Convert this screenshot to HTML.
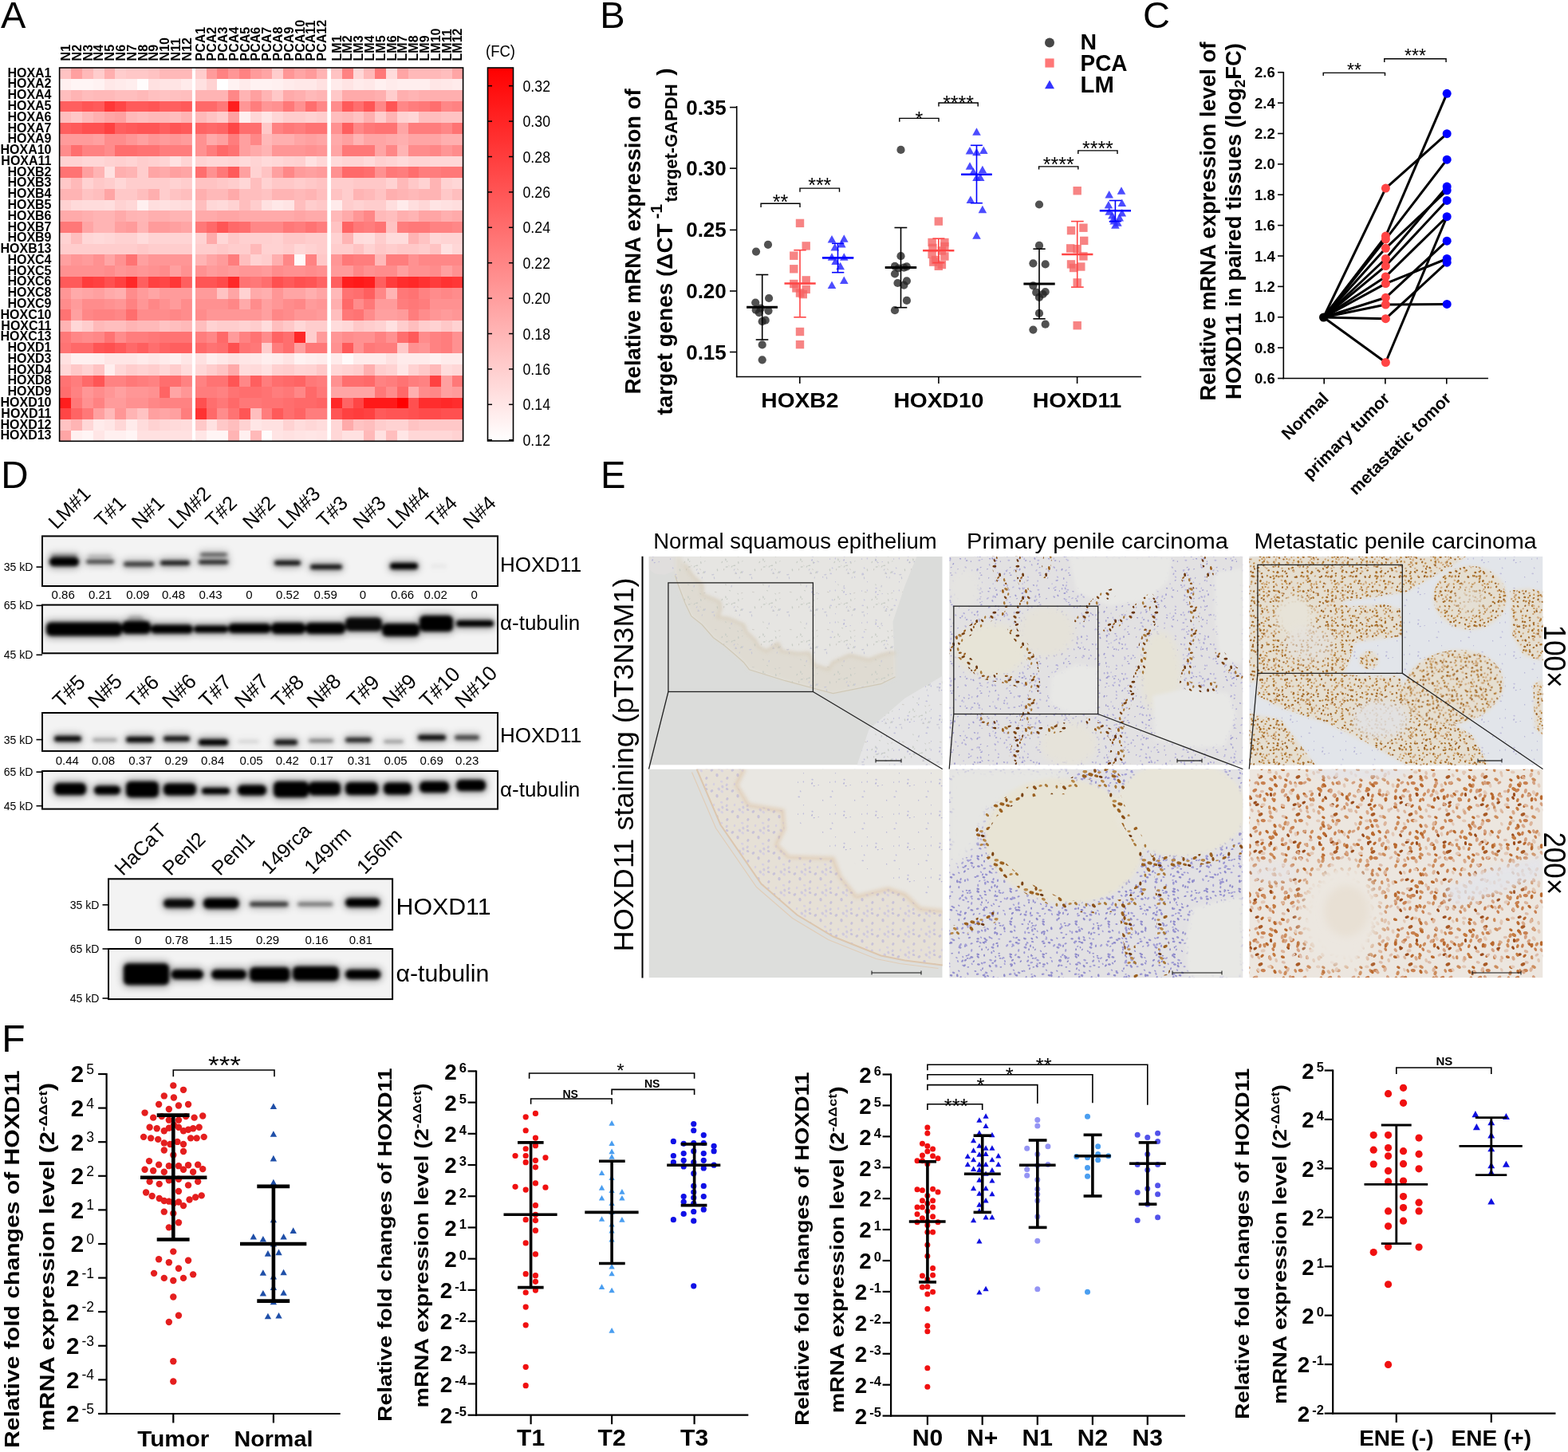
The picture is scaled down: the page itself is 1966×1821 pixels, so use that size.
<!DOCTYPE html>
<html><head><meta charset="utf-8"><title>HOXD11 figure</title>
<style>
html,body{margin:0;padding:0;background:#fff;}
body{width:1966px;height:1821px;overflow:hidden;}
svg{display:block;font-family:"Liberation Sans",Arial,Helvetica,sans-serif;}
</style></head><body>
<svg width="1966" height="1821" viewBox="0 0 1966 1821">
<rect width="1966" height="1821" fill="#fff"/>
<g shape-rendering="crispEdges">
<rect x="75.3" y="85.3" width="14.2" height="14.18" fill="rgb(255,195,195)"/>
<rect x="89.1" y="85.3" width="14.2" height="14.18" fill="rgb(255,160,160)"/>
<rect x="102.9" y="85.3" width="14.2" height="14.18" fill="rgb(255,185,185)"/>
<rect x="116.7" y="85.3" width="14.2" height="14.18" fill="rgb(255,205,205)"/>
<rect x="130.5" y="85.3" width="14.2" height="14.18" fill="rgb(255,175,175)"/>
<rect x="144.3" y="85.3" width="14.2" height="14.18" fill="rgb(255,205,205)"/>
<rect x="158.1" y="85.3" width="14.2" height="14.18" fill="rgb(255,200,200)"/>
<rect x="171.9" y="85.3" width="14.2" height="14.18" fill="rgb(255,200,200)"/>
<rect x="185.7" y="85.3" width="14.2" height="14.18" fill="rgb(255,195,195)"/>
<rect x="199.5" y="85.3" width="14.2" height="14.18" fill="rgb(255,185,185)"/>
<rect x="213.3" y="85.3" width="14.2" height="14.18" fill="rgb(255,185,185)"/>
<rect x="227.1" y="85.3" width="14.2" height="14.18" fill="rgb(255,185,185)"/>
<rect x="75.3" y="99.08" width="14.2" height="14.18" fill="rgb(255,240,240)"/>
<rect x="89.1" y="99.08" width="14.2" height="14.18" fill="rgb(255,245,245)"/>
<rect x="102.9" y="99.08" width="14.2" height="14.18" fill="rgb(255,245,245)"/>
<rect x="116.7" y="99.08" width="14.2" height="14.18" fill="rgb(255,242,242)"/>
<rect x="130.5" y="99.08" width="14.2" height="14.18" fill="rgb(255,232,232)"/>
<rect x="144.3" y="99.08" width="14.2" height="14.18" fill="rgb(255,235,235)"/>
<rect x="158.1" y="99.08" width="14.2" height="14.18" fill="rgb(255,238,238)"/>
<rect x="171.9" y="99.08" width="14.2" height="14.18" fill="rgb(255,252,252)"/>
<rect x="185.7" y="99.08" width="14.2" height="14.18" fill="rgb(255,225,225)"/>
<rect x="199.5" y="99.08" width="14.2" height="14.18" fill="rgb(255,228,228)"/>
<rect x="213.3" y="99.08" width="14.2" height="14.18" fill="rgb(255,228,228)"/>
<rect x="227.1" y="99.08" width="14.2" height="14.18" fill="rgb(255,235,235)"/>
<rect x="75.3" y="112.85" width="14.2" height="14.18" fill="rgb(255,190,190)"/>
<rect x="89.1" y="112.85" width="14.2" height="14.18" fill="rgb(255,180,180)"/>
<rect x="102.9" y="112.85" width="14.2" height="14.18" fill="rgb(255,188,188)"/>
<rect x="116.7" y="112.85" width="14.2" height="14.18" fill="rgb(255,185,185)"/>
<rect x="130.5" y="112.85" width="14.2" height="14.18" fill="rgb(255,185,185)"/>
<rect x="144.3" y="112.85" width="14.2" height="14.18" fill="rgb(255,190,190)"/>
<rect x="158.1" y="112.85" width="14.2" height="14.18" fill="rgb(255,190,190)"/>
<rect x="171.9" y="112.85" width="14.2" height="14.18" fill="rgb(255,185,185)"/>
<rect x="185.7" y="112.85" width="14.2" height="14.18" fill="rgb(255,192,192)"/>
<rect x="199.5" y="112.85" width="14.2" height="14.18" fill="rgb(255,195,195)"/>
<rect x="213.3" y="112.85" width="14.2" height="14.18" fill="rgb(255,192,192)"/>
<rect x="227.1" y="112.85" width="14.2" height="14.18" fill="rgb(255,190,190)"/>
<rect x="75.3" y="126.62" width="14.2" height="14.18" fill="rgb(255,95,95)"/>
<rect x="89.1" y="126.62" width="14.2" height="14.18" fill="rgb(255,95,95)"/>
<rect x="102.9" y="126.62" width="14.2" height="14.18" fill="rgb(255,85,85)"/>
<rect x="116.7" y="126.62" width="14.2" height="14.18" fill="rgb(255,90,90)"/>
<rect x="130.5" y="126.62" width="14.2" height="14.18" fill="rgb(255,55,55)"/>
<rect x="144.3" y="126.62" width="14.2" height="14.18" fill="rgb(255,70,70)"/>
<rect x="158.1" y="126.62" width="14.2" height="14.18" fill="rgb(255,90,90)"/>
<rect x="171.9" y="126.62" width="14.2" height="14.18" fill="rgb(255,90,90)"/>
<rect x="185.7" y="126.62" width="14.2" height="14.18" fill="rgb(255,85,85)"/>
<rect x="199.5" y="126.62" width="14.2" height="14.18" fill="rgb(255,95,95)"/>
<rect x="213.3" y="126.62" width="14.2" height="14.18" fill="rgb(255,95,95)"/>
<rect x="227.1" y="126.62" width="14.2" height="14.18" fill="rgb(255,90,90)"/>
<rect x="75.3" y="140.4" width="14.2" height="14.18" fill="rgb(255,190,190)"/>
<rect x="89.1" y="140.4" width="14.2" height="14.18" fill="rgb(255,200,200)"/>
<rect x="102.9" y="140.4" width="14.2" height="14.18" fill="rgb(255,185,185)"/>
<rect x="116.7" y="140.4" width="14.2" height="14.18" fill="rgb(255,175,175)"/>
<rect x="130.5" y="140.4" width="14.2" height="14.18" fill="rgb(255,165,165)"/>
<rect x="144.3" y="140.4" width="14.2" height="14.18" fill="rgb(255,160,160)"/>
<rect x="158.1" y="140.4" width="14.2" height="14.18" fill="rgb(255,185,185)"/>
<rect x="171.9" y="140.4" width="14.2" height="14.18" fill="rgb(255,190,190)"/>
<rect x="185.7" y="140.4" width="14.2" height="14.18" fill="rgb(255,185,185)"/>
<rect x="199.5" y="140.4" width="14.2" height="14.18" fill="rgb(255,185,185)"/>
<rect x="213.3" y="140.4" width="14.2" height="14.18" fill="rgb(255,190,190)"/>
<rect x="227.1" y="140.4" width="14.2" height="14.18" fill="rgb(255,180,180)"/>
<rect x="75.3" y="154.18" width="14.2" height="14.18" fill="rgb(255,95,95)"/>
<rect x="89.1" y="154.18" width="14.2" height="14.18" fill="rgb(255,90,90)"/>
<rect x="102.9" y="154.18" width="14.2" height="14.18" fill="rgb(255,80,80)"/>
<rect x="116.7" y="154.18" width="14.2" height="14.18" fill="rgb(255,80,80)"/>
<rect x="130.5" y="154.18" width="14.2" height="14.18" fill="rgb(255,65,65)"/>
<rect x="144.3" y="154.18" width="14.2" height="14.18" fill="rgb(255,95,95)"/>
<rect x="158.1" y="154.18" width="14.2" height="14.18" fill="rgb(255,90,90)"/>
<rect x="171.9" y="154.18" width="14.2" height="14.18" fill="rgb(255,85,85)"/>
<rect x="185.7" y="154.18" width="14.2" height="14.18" fill="rgb(255,85,85)"/>
<rect x="199.5" y="154.18" width="14.2" height="14.18" fill="rgb(255,95,95)"/>
<rect x="213.3" y="154.18" width="14.2" height="14.18" fill="rgb(255,85,85)"/>
<rect x="227.1" y="154.18" width="14.2" height="14.18" fill="rgb(255,90,90)"/>
<rect x="75.3" y="167.95" width="14.2" height="14.18" fill="rgb(255,155,155)"/>
<rect x="89.1" y="167.95" width="14.2" height="14.18" fill="rgb(255,155,155)"/>
<rect x="102.9" y="167.95" width="14.2" height="14.18" fill="rgb(255,155,155)"/>
<rect x="116.7" y="167.95" width="14.2" height="14.18" fill="rgb(255,160,160)"/>
<rect x="130.5" y="167.95" width="14.2" height="14.18" fill="rgb(255,140,140)"/>
<rect x="144.3" y="167.95" width="14.2" height="14.18" fill="rgb(255,140,140)"/>
<rect x="158.1" y="167.95" width="14.2" height="14.18" fill="rgb(255,150,150)"/>
<rect x="171.9" y="167.95" width="14.2" height="14.18" fill="rgb(255,160,160)"/>
<rect x="185.7" y="167.95" width="14.2" height="14.18" fill="rgb(255,150,150)"/>
<rect x="199.5" y="167.95" width="14.2" height="14.18" fill="rgb(255,155,155)"/>
<rect x="213.3" y="167.95" width="14.2" height="14.18" fill="rgb(255,150,150)"/>
<rect x="227.1" y="167.95" width="14.2" height="14.18" fill="rgb(255,155,155)"/>
<rect x="75.3" y="181.72" width="14.2" height="14.18" fill="rgb(255,140,140)"/>
<rect x="89.1" y="181.72" width="14.2" height="14.18" fill="rgb(255,110,110)"/>
<rect x="102.9" y="181.72" width="14.2" height="14.18" fill="rgb(255,130,130)"/>
<rect x="116.7" y="181.72" width="14.2" height="14.18" fill="rgb(255,130,130)"/>
<rect x="130.5" y="181.72" width="14.2" height="14.18" fill="rgb(255,140,140)"/>
<rect x="144.3" y="181.72" width="14.2" height="14.18" fill="rgb(255,110,110)"/>
<rect x="158.1" y="181.72" width="14.2" height="14.18" fill="rgb(255,110,110)"/>
<rect x="171.9" y="181.72" width="14.2" height="14.18" fill="rgb(255,115,115)"/>
<rect x="185.7" y="181.72" width="14.2" height="14.18" fill="rgb(255,115,115)"/>
<rect x="199.5" y="181.72" width="14.2" height="14.18" fill="rgb(255,125,125)"/>
<rect x="213.3" y="181.72" width="14.2" height="14.18" fill="rgb(255,125,125)"/>
<rect x="227.1" y="181.72" width="14.2" height="14.18" fill="rgb(255,125,125)"/>
<rect x="75.3" y="195.5" width="14.2" height="14.18" fill="rgb(255,210,210)"/>
<rect x="89.1" y="195.5" width="14.2" height="14.18" fill="rgb(255,210,210)"/>
<rect x="102.9" y="195.5" width="14.2" height="14.18" fill="rgb(255,215,215)"/>
<rect x="116.7" y="195.5" width="14.2" height="14.18" fill="rgb(255,215,215)"/>
<rect x="130.5" y="195.5" width="14.2" height="14.18" fill="rgb(255,210,210)"/>
<rect x="144.3" y="195.5" width="14.2" height="14.18" fill="rgb(255,208,208)"/>
<rect x="158.1" y="195.5" width="14.2" height="14.18" fill="rgb(255,212,212)"/>
<rect x="171.9" y="195.5" width="14.2" height="14.18" fill="rgb(255,205,205)"/>
<rect x="185.7" y="195.5" width="14.2" height="14.18" fill="rgb(255,208,208)"/>
<rect x="199.5" y="195.5" width="14.2" height="14.18" fill="rgb(255,212,212)"/>
<rect x="213.3" y="195.5" width="14.2" height="14.18" fill="rgb(255,225,225)"/>
<rect x="227.1" y="195.5" width="14.2" height="14.18" fill="rgb(255,212,212)"/>
<rect x="75.3" y="209.28" width="14.2" height="14.18" fill="rgb(255,115,115)"/>
<rect x="89.1" y="209.28" width="14.2" height="14.18" fill="rgb(255,115,115)"/>
<rect x="102.9" y="209.28" width="14.2" height="14.18" fill="rgb(255,160,160)"/>
<rect x="116.7" y="209.28" width="14.2" height="14.18" fill="rgb(255,180,180)"/>
<rect x="130.5" y="209.28" width="14.2" height="14.18" fill="rgb(255,225,225)"/>
<rect x="144.3" y="209.28" width="14.2" height="14.18" fill="rgb(255,175,175)"/>
<rect x="158.1" y="209.28" width="14.2" height="14.18" fill="rgb(255,180,180)"/>
<rect x="171.9" y="209.28" width="14.2" height="14.18" fill="rgb(255,205,205)"/>
<rect x="185.7" y="209.28" width="14.2" height="14.18" fill="rgb(255,165,165)"/>
<rect x="199.5" y="209.28" width="14.2" height="14.18" fill="rgb(255,170,170)"/>
<rect x="213.3" y="209.28" width="14.2" height="14.18" fill="rgb(255,160,160)"/>
<rect x="227.1" y="209.28" width="14.2" height="14.18" fill="rgb(255,165,165)"/>
<rect x="75.3" y="223.05" width="14.2" height="14.18" fill="rgb(255,200,200)"/>
<rect x="89.1" y="223.05" width="14.2" height="14.18" fill="rgb(255,185,185)"/>
<rect x="102.9" y="223.05" width="14.2" height="14.18" fill="rgb(255,210,210)"/>
<rect x="116.7" y="223.05" width="14.2" height="14.18" fill="rgb(255,200,200)"/>
<rect x="130.5" y="223.05" width="14.2" height="14.18" fill="rgb(255,205,205)"/>
<rect x="144.3" y="223.05" width="14.2" height="14.18" fill="rgb(255,215,215)"/>
<rect x="158.1" y="223.05" width="14.2" height="14.18" fill="rgb(255,205,205)"/>
<rect x="171.9" y="223.05" width="14.2" height="14.18" fill="rgb(255,205,205)"/>
<rect x="185.7" y="223.05" width="14.2" height="14.18" fill="rgb(255,205,205)"/>
<rect x="199.5" y="223.05" width="14.2" height="14.18" fill="rgb(255,205,205)"/>
<rect x="213.3" y="223.05" width="14.2" height="14.18" fill="rgb(255,210,210)"/>
<rect x="227.1" y="223.05" width="14.2" height="14.18" fill="rgb(255,205,205)"/>
<rect x="75.3" y="236.82" width="14.2" height="14.18" fill="rgb(255,180,180)"/>
<rect x="89.1" y="236.82" width="14.2" height="14.18" fill="rgb(255,180,180)"/>
<rect x="102.9" y="236.82" width="14.2" height="14.18" fill="rgb(255,195,195)"/>
<rect x="116.7" y="236.82" width="14.2" height="14.18" fill="rgb(255,190,190)"/>
<rect x="130.5" y="236.82" width="14.2" height="14.18" fill="rgb(255,165,165)"/>
<rect x="144.3" y="236.82" width="14.2" height="14.18" fill="rgb(255,200,200)"/>
<rect x="158.1" y="236.82" width="14.2" height="14.18" fill="rgb(255,200,200)"/>
<rect x="171.9" y="236.82" width="14.2" height="14.18" fill="rgb(255,190,190)"/>
<rect x="185.7" y="236.82" width="14.2" height="14.18" fill="rgb(255,175,175)"/>
<rect x="199.5" y="236.82" width="14.2" height="14.18" fill="rgb(255,205,205)"/>
<rect x="213.3" y="236.82" width="14.2" height="14.18" fill="rgb(255,195,195)"/>
<rect x="227.1" y="236.82" width="14.2" height="14.18" fill="rgb(255,190,190)"/>
<rect x="75.3" y="250.6" width="14.2" height="14.18" fill="rgb(255,210,210)"/>
<rect x="89.1" y="250.6" width="14.2" height="14.18" fill="rgb(255,218,218)"/>
<rect x="102.9" y="250.6" width="14.2" height="14.18" fill="rgb(255,220,220)"/>
<rect x="116.7" y="250.6" width="14.2" height="14.18" fill="rgb(255,220,220)"/>
<rect x="130.5" y="250.6" width="14.2" height="14.18" fill="rgb(255,222,222)"/>
<rect x="144.3" y="250.6" width="14.2" height="14.18" fill="rgb(255,210,210)"/>
<rect x="158.1" y="250.6" width="14.2" height="14.18" fill="rgb(255,215,215)"/>
<rect x="171.9" y="250.6" width="14.2" height="14.18" fill="rgb(255,240,240)"/>
<rect x="185.7" y="250.6" width="14.2" height="14.18" fill="rgb(255,222,222)"/>
<rect x="199.5" y="250.6" width="14.2" height="14.18" fill="rgb(255,225,225)"/>
<rect x="213.3" y="250.6" width="14.2" height="14.18" fill="rgb(255,222,222)"/>
<rect x="227.1" y="250.6" width="14.2" height="14.18" fill="rgb(255,220,220)"/>
<rect x="75.3" y="264.38" width="14.2" height="14.18" fill="rgb(255,170,170)"/>
<rect x="89.1" y="264.38" width="14.2" height="14.18" fill="rgb(255,170,170)"/>
<rect x="102.9" y="264.38" width="14.2" height="14.18" fill="rgb(255,175,175)"/>
<rect x="116.7" y="264.38" width="14.2" height="14.18" fill="rgb(255,180,180)"/>
<rect x="130.5" y="264.38" width="14.2" height="14.18" fill="rgb(255,180,180)"/>
<rect x="144.3" y="264.38" width="14.2" height="14.18" fill="rgb(255,170,170)"/>
<rect x="158.1" y="264.38" width="14.2" height="14.18" fill="rgb(255,180,180)"/>
<rect x="171.9" y="264.38" width="14.2" height="14.18" fill="rgb(255,182,182)"/>
<rect x="185.7" y="264.38" width="14.2" height="14.18" fill="rgb(255,175,175)"/>
<rect x="199.5" y="264.38" width="14.2" height="14.18" fill="rgb(255,175,175)"/>
<rect x="213.3" y="264.38" width="14.2" height="14.18" fill="rgb(255,180,180)"/>
<rect x="227.1" y="264.38" width="14.2" height="14.18" fill="rgb(255,180,180)"/>
<rect x="75.3" y="278.15" width="14.2" height="14.18" fill="rgb(255,120,120)"/>
<rect x="89.1" y="278.15" width="14.2" height="14.18" fill="rgb(255,120,120)"/>
<rect x="102.9" y="278.15" width="14.2" height="14.18" fill="rgb(255,165,165)"/>
<rect x="116.7" y="278.15" width="14.2" height="14.18" fill="rgb(255,180,180)"/>
<rect x="130.5" y="278.15" width="14.2" height="14.18" fill="rgb(255,180,180)"/>
<rect x="144.3" y="278.15" width="14.2" height="14.18" fill="rgb(255,160,160)"/>
<rect x="158.1" y="278.15" width="14.2" height="14.18" fill="rgb(255,155,155)"/>
<rect x="171.9" y="278.15" width="14.2" height="14.18" fill="rgb(255,180,180)"/>
<rect x="185.7" y="278.15" width="14.2" height="14.18" fill="rgb(255,155,155)"/>
<rect x="199.5" y="278.15" width="14.2" height="14.18" fill="rgb(255,155,155)"/>
<rect x="213.3" y="278.15" width="14.2" height="14.18" fill="rgb(255,160,160)"/>
<rect x="227.1" y="278.15" width="14.2" height="14.18" fill="rgb(255,165,165)"/>
<rect x="75.3" y="291.93" width="14.2" height="14.18" fill="rgb(255,210,210)"/>
<rect x="89.1" y="291.93" width="14.2" height="14.18" fill="rgb(255,190,190)"/>
<rect x="102.9" y="291.93" width="14.2" height="14.18" fill="rgb(255,215,215)"/>
<rect x="116.7" y="291.93" width="14.2" height="14.18" fill="rgb(255,218,218)"/>
<rect x="130.5" y="291.93" width="14.2" height="14.18" fill="rgb(255,215,215)"/>
<rect x="144.3" y="291.93" width="14.2" height="14.18" fill="rgb(255,210,210)"/>
<rect x="158.1" y="291.93" width="14.2" height="14.18" fill="rgb(255,210,210)"/>
<rect x="171.9" y="291.93" width="14.2" height="14.18" fill="rgb(255,220,220)"/>
<rect x="185.7" y="291.93" width="14.2" height="14.18" fill="rgb(255,212,212)"/>
<rect x="199.5" y="291.93" width="14.2" height="14.18" fill="rgb(255,212,212)"/>
<rect x="213.3" y="291.93" width="14.2" height="14.18" fill="rgb(255,212,212)"/>
<rect x="227.1" y="291.93" width="14.2" height="14.18" fill="rgb(255,212,212)"/>
<rect x="75.3" y="305.7" width="14.2" height="14.18" fill="rgb(255,205,205)"/>
<rect x="89.1" y="305.7" width="14.2" height="14.18" fill="rgb(255,205,205)"/>
<rect x="102.9" y="305.7" width="14.2" height="14.18" fill="rgb(255,205,205)"/>
<rect x="116.7" y="305.7" width="14.2" height="14.18" fill="rgb(255,205,205)"/>
<rect x="130.5" y="305.7" width="14.2" height="14.18" fill="rgb(255,205,205)"/>
<rect x="144.3" y="305.7" width="14.2" height="14.18" fill="rgb(255,205,205)"/>
<rect x="158.1" y="305.7" width="14.2" height="14.18" fill="rgb(255,205,205)"/>
<rect x="171.9" y="305.7" width="14.2" height="14.18" fill="rgb(255,200,200)"/>
<rect x="185.7" y="305.7" width="14.2" height="14.18" fill="rgb(255,205,205)"/>
<rect x="199.5" y="305.7" width="14.2" height="14.18" fill="rgb(255,205,205)"/>
<rect x="213.3" y="305.7" width="14.2" height="14.18" fill="rgb(255,205,205)"/>
<rect x="227.1" y="305.7" width="14.2" height="14.18" fill="rgb(255,205,205)"/>
<rect x="75.3" y="319.48" width="14.2" height="14.18" fill="rgb(255,160,160)"/>
<rect x="89.1" y="319.48" width="14.2" height="14.18" fill="rgb(255,150,150)"/>
<rect x="102.9" y="319.48" width="14.2" height="14.18" fill="rgb(255,155,155)"/>
<rect x="116.7" y="319.48" width="14.2" height="14.18" fill="rgb(255,145,145)"/>
<rect x="130.5" y="319.48" width="14.2" height="14.18" fill="rgb(255,165,165)"/>
<rect x="144.3" y="319.48" width="14.2" height="14.18" fill="rgb(255,145,145)"/>
<rect x="158.1" y="319.48" width="14.2" height="14.18" fill="rgb(255,115,115)"/>
<rect x="171.9" y="319.48" width="14.2" height="14.18" fill="rgb(255,160,160)"/>
<rect x="185.7" y="319.48" width="14.2" height="14.18" fill="rgb(255,150,150)"/>
<rect x="199.5" y="319.48" width="14.2" height="14.18" fill="rgb(255,150,150)"/>
<rect x="213.3" y="319.48" width="14.2" height="14.18" fill="rgb(255,150,150)"/>
<rect x="227.1" y="319.48" width="14.2" height="14.18" fill="rgb(255,150,150)"/>
<rect x="75.3" y="333.25" width="14.2" height="14.18" fill="rgb(255,145,145)"/>
<rect x="89.1" y="333.25" width="14.2" height="14.18" fill="rgb(255,145,145)"/>
<rect x="102.9" y="333.25" width="14.2" height="14.18" fill="rgb(255,145,145)"/>
<rect x="116.7" y="333.25" width="14.2" height="14.18" fill="rgb(255,145,145)"/>
<rect x="130.5" y="333.25" width="14.2" height="14.18" fill="rgb(255,140,140)"/>
<rect x="144.3" y="333.25" width="14.2" height="14.18" fill="rgb(255,150,150)"/>
<rect x="158.1" y="333.25" width="14.2" height="14.18" fill="rgb(255,145,145)"/>
<rect x="171.9" y="333.25" width="14.2" height="14.18" fill="rgb(255,150,150)"/>
<rect x="185.7" y="333.25" width="14.2" height="14.18" fill="rgb(255,145,145)"/>
<rect x="199.5" y="333.25" width="14.2" height="14.18" fill="rgb(255,140,140)"/>
<rect x="213.3" y="333.25" width="14.2" height="14.18" fill="rgb(255,160,160)"/>
<rect x="227.1" y="333.25" width="14.2" height="14.18" fill="rgb(255,145,145)"/>
<rect x="75.3" y="347.03" width="14.2" height="14.18" fill="rgb(255,90,90)"/>
<rect x="89.1" y="347.03" width="14.2" height="14.18" fill="rgb(255,90,90)"/>
<rect x="102.9" y="347.03" width="14.2" height="14.18" fill="rgb(255,60,60)"/>
<rect x="116.7" y="347.03" width="14.2" height="14.18" fill="rgb(255,65,65)"/>
<rect x="130.5" y="347.03" width="14.2" height="14.18" fill="rgb(255,80,80)"/>
<rect x="144.3" y="347.03" width="14.2" height="14.18" fill="rgb(255,65,65)"/>
<rect x="158.1" y="347.03" width="14.2" height="14.18" fill="rgb(255,40,40)"/>
<rect x="171.9" y="347.03" width="14.2" height="14.18" fill="rgb(255,95,95)"/>
<rect x="185.7" y="347.03" width="14.2" height="14.18" fill="rgb(255,65,65)"/>
<rect x="199.5" y="347.03" width="14.2" height="14.18" fill="rgb(255,70,70)"/>
<rect x="213.3" y="347.03" width="14.2" height="14.18" fill="rgb(255,55,55)"/>
<rect x="227.1" y="347.03" width="14.2" height="14.18" fill="rgb(255,95,95)"/>
<rect x="75.3" y="360.8" width="14.2" height="14.18" fill="rgb(255,150,150)"/>
<rect x="89.1" y="360.8" width="14.2" height="14.18" fill="rgb(255,170,170)"/>
<rect x="102.9" y="360.8" width="14.2" height="14.18" fill="rgb(255,165,165)"/>
<rect x="116.7" y="360.8" width="14.2" height="14.18" fill="rgb(255,160,160)"/>
<rect x="130.5" y="360.8" width="14.2" height="14.18" fill="rgb(255,170,170)"/>
<rect x="144.3" y="360.8" width="14.2" height="14.18" fill="rgb(255,175,175)"/>
<rect x="158.1" y="360.8" width="14.2" height="14.18" fill="rgb(255,140,140)"/>
<rect x="171.9" y="360.8" width="14.2" height="14.18" fill="rgb(255,155,155)"/>
<rect x="185.7" y="360.8" width="14.2" height="14.18" fill="rgb(255,165,165)"/>
<rect x="199.5" y="360.8" width="14.2" height="14.18" fill="rgb(255,155,155)"/>
<rect x="213.3" y="360.8" width="14.2" height="14.18" fill="rgb(255,155,155)"/>
<rect x="227.1" y="360.8" width="14.2" height="14.18" fill="rgb(255,155,155)"/>
<rect x="75.3" y="374.58" width="14.2" height="14.18" fill="rgb(255,140,140)"/>
<rect x="89.1" y="374.58" width="14.2" height="14.18" fill="rgb(255,155,155)"/>
<rect x="102.9" y="374.58" width="14.2" height="14.18" fill="rgb(255,140,140)"/>
<rect x="116.7" y="374.58" width="14.2" height="14.18" fill="rgb(255,140,140)"/>
<rect x="130.5" y="374.58" width="14.2" height="14.18" fill="rgb(255,145,145)"/>
<rect x="144.3" y="374.58" width="14.2" height="14.18" fill="rgb(255,150,150)"/>
<rect x="158.1" y="374.58" width="14.2" height="14.18" fill="rgb(255,130,130)"/>
<rect x="171.9" y="374.58" width="14.2" height="14.18" fill="rgb(255,150,150)"/>
<rect x="185.7" y="374.58" width="14.2" height="14.18" fill="rgb(255,135,135)"/>
<rect x="199.5" y="374.58" width="14.2" height="14.18" fill="rgb(255,145,145)"/>
<rect x="213.3" y="374.58" width="14.2" height="14.18" fill="rgb(255,155,155)"/>
<rect x="227.1" y="374.58" width="14.2" height="14.18" fill="rgb(255,140,140)"/>
<rect x="75.3" y="388.35" width="14.2" height="14.18" fill="rgb(255,115,115)"/>
<rect x="89.1" y="388.35" width="14.2" height="14.18" fill="rgb(255,160,160)"/>
<rect x="102.9" y="388.35" width="14.2" height="14.18" fill="rgb(255,135,135)"/>
<rect x="116.7" y="388.35" width="14.2" height="14.18" fill="rgb(255,130,130)"/>
<rect x="130.5" y="388.35" width="14.2" height="14.18" fill="rgb(255,130,130)"/>
<rect x="144.3" y="388.35" width="14.2" height="14.18" fill="rgb(255,135,135)"/>
<rect x="158.1" y="388.35" width="14.2" height="14.18" fill="rgb(255,110,110)"/>
<rect x="171.9" y="388.35" width="14.2" height="14.18" fill="rgb(255,140,140)"/>
<rect x="185.7" y="388.35" width="14.2" height="14.18" fill="rgb(255,140,140)"/>
<rect x="199.5" y="388.35" width="14.2" height="14.18" fill="rgb(255,140,140)"/>
<rect x="213.3" y="388.35" width="14.2" height="14.18" fill="rgb(255,135,135)"/>
<rect x="227.1" y="388.35" width="14.2" height="14.18" fill="rgb(255,140,140)"/>
<rect x="75.3" y="402.12" width="14.2" height="14.18" fill="rgb(255,180,180)"/>
<rect x="89.1" y="402.12" width="14.2" height="14.18" fill="rgb(255,215,215)"/>
<rect x="102.9" y="402.12" width="14.2" height="14.18" fill="rgb(255,205,205)"/>
<rect x="116.7" y="402.12" width="14.2" height="14.18" fill="rgb(255,185,185)"/>
<rect x="130.5" y="402.12" width="14.2" height="14.18" fill="rgb(255,190,190)"/>
<rect x="144.3" y="402.12" width="14.2" height="14.18" fill="rgb(255,190,190)"/>
<rect x="158.1" y="402.12" width="14.2" height="14.18" fill="rgb(255,180,180)"/>
<rect x="171.9" y="402.12" width="14.2" height="14.18" fill="rgb(255,185,185)"/>
<rect x="185.7" y="402.12" width="14.2" height="14.18" fill="rgb(255,185,185)"/>
<rect x="199.5" y="402.12" width="14.2" height="14.18" fill="rgb(255,195,195)"/>
<rect x="213.3" y="402.12" width="14.2" height="14.18" fill="rgb(255,190,190)"/>
<rect x="227.1" y="402.12" width="14.2" height="14.18" fill="rgb(255,185,185)"/>
<rect x="75.3" y="415.9" width="14.2" height="14.18" fill="rgb(255,120,120)"/>
<rect x="89.1" y="415.9" width="14.2" height="14.18" fill="rgb(255,135,135)"/>
<rect x="102.9" y="415.9" width="14.2" height="14.18" fill="rgb(255,140,140)"/>
<rect x="116.7" y="415.9" width="14.2" height="14.18" fill="rgb(255,135,135)"/>
<rect x="130.5" y="415.9" width="14.2" height="14.18" fill="rgb(255,115,115)"/>
<rect x="144.3" y="415.9" width="14.2" height="14.18" fill="rgb(255,140,140)"/>
<rect x="158.1" y="415.9" width="14.2" height="14.18" fill="rgb(255,125,125)"/>
<rect x="171.9" y="415.9" width="14.2" height="14.18" fill="rgb(255,125,125)"/>
<rect x="185.7" y="415.9" width="14.2" height="14.18" fill="rgb(255,120,120)"/>
<rect x="199.5" y="415.9" width="14.2" height="14.18" fill="rgb(255,115,115)"/>
<rect x="213.3" y="415.9" width="14.2" height="14.18" fill="rgb(255,115,115)"/>
<rect x="227.1" y="415.9" width="14.2" height="14.18" fill="rgb(255,115,115)"/>
<rect x="75.3" y="429.68" width="14.2" height="14.18" fill="rgb(255,115,115)"/>
<rect x="89.1" y="429.68" width="14.2" height="14.18" fill="rgb(255,105,105)"/>
<rect x="102.9" y="429.68" width="14.2" height="14.18" fill="rgb(255,105,105)"/>
<rect x="116.7" y="429.68" width="14.2" height="14.18" fill="rgb(255,85,85)"/>
<rect x="130.5" y="429.68" width="14.2" height="14.18" fill="rgb(255,80,80)"/>
<rect x="144.3" y="429.68" width="14.2" height="14.18" fill="rgb(255,90,90)"/>
<rect x="158.1" y="429.68" width="14.2" height="14.18" fill="rgb(255,105,105)"/>
<rect x="171.9" y="429.68" width="14.2" height="14.18" fill="rgb(255,95,95)"/>
<rect x="185.7" y="429.68" width="14.2" height="14.18" fill="rgb(255,110,110)"/>
<rect x="199.5" y="429.68" width="14.2" height="14.18" fill="rgb(255,100,100)"/>
<rect x="213.3" y="429.68" width="14.2" height="14.18" fill="rgb(255,95,95)"/>
<rect x="227.1" y="429.68" width="14.2" height="14.18" fill="rgb(255,95,95)"/>
<rect x="75.3" y="443.45" width="14.2" height="14.18" fill="rgb(255,225,225)"/>
<rect x="89.1" y="443.45" width="14.2" height="14.18" fill="rgb(255,240,240)"/>
<rect x="102.9" y="443.45" width="14.2" height="14.18" fill="rgb(255,240,240)"/>
<rect x="116.7" y="443.45" width="14.2" height="14.18" fill="rgb(255,238,238)"/>
<rect x="130.5" y="443.45" width="14.2" height="14.18" fill="rgb(255,230,230)"/>
<rect x="144.3" y="443.45" width="14.2" height="14.18" fill="rgb(255,230,230)"/>
<rect x="158.1" y="443.45" width="14.2" height="14.18" fill="rgb(255,230,230)"/>
<rect x="171.9" y="443.45" width="14.2" height="14.18" fill="rgb(255,235,235)"/>
<rect x="185.7" y="443.45" width="14.2" height="14.18" fill="rgb(255,230,230)"/>
<rect x="199.5" y="443.45" width="14.2" height="14.18" fill="rgb(255,235,235)"/>
<rect x="213.3" y="443.45" width="14.2" height="14.18" fill="rgb(255,240,240)"/>
<rect x="227.1" y="443.45" width="14.2" height="14.18" fill="rgb(255,230,230)"/>
<rect x="75.3" y="457.23" width="14.2" height="14.18" fill="rgb(255,215,215)"/>
<rect x="89.1" y="457.23" width="14.2" height="14.18" fill="rgb(255,200,200)"/>
<rect x="102.9" y="457.23" width="14.2" height="14.18" fill="rgb(255,210,210)"/>
<rect x="116.7" y="457.23" width="14.2" height="14.18" fill="rgb(255,195,195)"/>
<rect x="130.5" y="457.23" width="14.2" height="14.18" fill="rgb(255,238,238)"/>
<rect x="144.3" y="457.23" width="14.2" height="14.18" fill="rgb(255,215,215)"/>
<rect x="158.1" y="457.23" width="14.2" height="14.18" fill="rgb(255,205,205)"/>
<rect x="171.9" y="457.23" width="14.2" height="14.18" fill="rgb(255,210,210)"/>
<rect x="185.7" y="457.23" width="14.2" height="14.18" fill="rgb(255,205,205)"/>
<rect x="199.5" y="457.23" width="14.2" height="14.18" fill="rgb(255,215,215)"/>
<rect x="213.3" y="457.23" width="14.2" height="14.18" fill="rgb(255,205,205)"/>
<rect x="227.1" y="457.23" width="14.2" height="14.18" fill="rgb(255,220,220)"/>
<rect x="75.3" y="471" width="14.2" height="14.18" fill="rgb(255,115,115)"/>
<rect x="89.1" y="471" width="14.2" height="14.18" fill="rgb(255,125,125)"/>
<rect x="102.9" y="471" width="14.2" height="14.18" fill="rgb(255,105,105)"/>
<rect x="116.7" y="471" width="14.2" height="14.18" fill="rgb(255,85,85)"/>
<rect x="130.5" y="471" width="14.2" height="14.18" fill="rgb(255,130,130)"/>
<rect x="144.3" y="471" width="14.2" height="14.18" fill="rgb(255,130,130)"/>
<rect x="158.1" y="471" width="14.2" height="14.18" fill="rgb(255,120,120)"/>
<rect x="171.9" y="471" width="14.2" height="14.18" fill="rgb(255,125,125)"/>
<rect x="185.7" y="471" width="14.2" height="14.18" fill="rgb(255,130,130)"/>
<rect x="199.5" y="471" width="14.2" height="14.18" fill="rgb(255,110,110)"/>
<rect x="213.3" y="471" width="14.2" height="14.18" fill="rgb(255,110,110)"/>
<rect x="227.1" y="471" width="14.2" height="14.18" fill="rgb(255,130,130)"/>
<rect x="75.3" y="484.78" width="14.2" height="14.18" fill="rgb(255,110,110)"/>
<rect x="89.1" y="484.78" width="14.2" height="14.18" fill="rgb(255,130,130)"/>
<rect x="102.9" y="484.78" width="14.2" height="14.18" fill="rgb(255,150,150)"/>
<rect x="116.7" y="484.78" width="14.2" height="14.18" fill="rgb(255,140,140)"/>
<rect x="130.5" y="484.78" width="14.2" height="14.18" fill="rgb(255,150,150)"/>
<rect x="144.3" y="484.78" width="14.2" height="14.18" fill="rgb(255,160,160)"/>
<rect x="158.1" y="484.78" width="14.2" height="14.18" fill="rgb(255,150,150)"/>
<rect x="171.9" y="484.78" width="14.2" height="14.18" fill="rgb(255,150,150)"/>
<rect x="185.7" y="484.78" width="14.2" height="14.18" fill="rgb(255,145,145)"/>
<rect x="199.5" y="484.78" width="14.2" height="14.18" fill="rgb(255,100,100)"/>
<rect x="213.3" y="484.78" width="14.2" height="14.18" fill="rgb(255,165,165)"/>
<rect x="227.1" y="484.78" width="14.2" height="14.18" fill="rgb(255,150,150)"/>
<rect x="75.3" y="498.55" width="14.2" height="14.18" fill="rgb(255,30,30)"/>
<rect x="89.1" y="498.55" width="14.2" height="14.18" fill="rgb(255,120,120)"/>
<rect x="102.9" y="498.55" width="14.2" height="14.18" fill="rgb(255,145,145)"/>
<rect x="116.7" y="498.55" width="14.2" height="14.18" fill="rgb(255,130,130)"/>
<rect x="130.5" y="498.55" width="14.2" height="14.18" fill="rgb(255,155,155)"/>
<rect x="144.3" y="498.55" width="14.2" height="14.18" fill="rgb(255,155,155)"/>
<rect x="158.1" y="498.55" width="14.2" height="14.18" fill="rgb(255,145,145)"/>
<rect x="171.9" y="498.55" width="14.2" height="14.18" fill="rgb(255,145,145)"/>
<rect x="185.7" y="498.55" width="14.2" height="14.18" fill="rgb(255,135,135)"/>
<rect x="199.5" y="498.55" width="14.2" height="14.18" fill="rgb(255,130,130)"/>
<rect x="213.3" y="498.55" width="14.2" height="14.18" fill="rgb(255,130,130)"/>
<rect x="227.1" y="498.55" width="14.2" height="14.18" fill="rgb(255,130,130)"/>
<rect x="75.3" y="512.33" width="14.2" height="14.18" fill="rgb(255,70,70)"/>
<rect x="89.1" y="512.33" width="14.2" height="14.18" fill="rgb(255,100,100)"/>
<rect x="102.9" y="512.33" width="14.2" height="14.18" fill="rgb(255,120,120)"/>
<rect x="116.7" y="512.33" width="14.2" height="14.18" fill="rgb(255,160,160)"/>
<rect x="130.5" y="512.33" width="14.2" height="14.18" fill="rgb(255,185,185)"/>
<rect x="144.3" y="512.33" width="14.2" height="14.18" fill="rgb(255,150,150)"/>
<rect x="158.1" y="512.33" width="14.2" height="14.18" fill="rgb(255,180,180)"/>
<rect x="171.9" y="512.33" width="14.2" height="14.18" fill="rgb(255,195,195)"/>
<rect x="185.7" y="512.33" width="14.2" height="14.18" fill="rgb(255,160,160)"/>
<rect x="199.5" y="512.33" width="14.2" height="14.18" fill="rgb(255,165,165)"/>
<rect x="213.3" y="512.33" width="14.2" height="14.18" fill="rgb(255,160,160)"/>
<rect x="227.1" y="512.33" width="14.2" height="14.18" fill="rgb(255,125,125)"/>
<rect x="75.3" y="526.1" width="14.2" height="14.18" fill="rgb(255,195,195)"/>
<rect x="89.1" y="526.1" width="14.2" height="14.18" fill="rgb(255,180,180)"/>
<rect x="102.9" y="526.1" width="14.2" height="14.18" fill="rgb(255,215,215)"/>
<rect x="116.7" y="526.1" width="14.2" height="14.18" fill="rgb(255,235,235)"/>
<rect x="130.5" y="526.1" width="14.2" height="14.18" fill="rgb(255,230,230)"/>
<rect x="144.3" y="526.1" width="14.2" height="14.18" fill="rgb(255,215,215)"/>
<rect x="158.1" y="526.1" width="14.2" height="14.18" fill="rgb(255,235,235)"/>
<rect x="171.9" y="526.1" width="14.2" height="14.18" fill="rgb(255,220,220)"/>
<rect x="185.7" y="526.1" width="14.2" height="14.18" fill="rgb(255,210,210)"/>
<rect x="199.5" y="526.1" width="14.2" height="14.18" fill="rgb(255,215,215)"/>
<rect x="213.3" y="526.1" width="14.2" height="14.18" fill="rgb(255,218,218)"/>
<rect x="227.1" y="526.1" width="14.2" height="14.18" fill="rgb(255,220,220)"/>
<rect x="75.3" y="539.88" width="14.2" height="14.18" fill="rgb(255,165,165)"/>
<rect x="89.1" y="539.88" width="14.2" height="14.18" fill="rgb(255,240,240)"/>
<rect x="102.9" y="539.88" width="14.2" height="14.18" fill="rgb(255,245,245)"/>
<rect x="116.7" y="539.88" width="14.2" height="14.18" fill="rgb(255,230,230)"/>
<rect x="130.5" y="539.88" width="14.2" height="14.18" fill="rgb(255,240,240)"/>
<rect x="144.3" y="539.88" width="14.2" height="14.18" fill="rgb(255,240,240)"/>
<rect x="158.1" y="539.88" width="14.2" height="14.18" fill="rgb(255,245,245)"/>
<rect x="171.9" y="539.88" width="14.2" height="14.18" fill="rgb(255,225,225)"/>
<rect x="185.7" y="539.88" width="14.2" height="14.18" fill="rgb(255,225,225)"/>
<rect x="199.5" y="539.88" width="14.2" height="14.18" fill="rgb(255,225,225)"/>
<rect x="213.3" y="539.88" width="14.2" height="14.18" fill="rgb(255,225,225)"/>
<rect x="227.1" y="539.88" width="14.2" height="14.18" fill="rgb(255,225,225)"/>
<rect x="244.7" y="85.3" width="14.2" height="14.18" fill="rgb(255,205,205)"/>
<rect x="258.5" y="85.3" width="14.2" height="14.18" fill="rgb(255,155,155)"/>
<rect x="272.3" y="85.3" width="14.2" height="14.18" fill="rgb(255,130,130)"/>
<rect x="286.1" y="85.3" width="14.2" height="14.18" fill="rgb(255,150,150)"/>
<rect x="299.9" y="85.3" width="14.2" height="14.18" fill="rgb(255,130,130)"/>
<rect x="313.7" y="85.3" width="14.2" height="14.18" fill="rgb(255,155,155)"/>
<rect x="327.5" y="85.3" width="14.2" height="14.18" fill="rgb(255,165,165)"/>
<rect x="341.3" y="85.3" width="14.2" height="14.18" fill="rgb(255,205,205)"/>
<rect x="355.1" y="85.3" width="14.2" height="14.18" fill="rgb(255,150,150)"/>
<rect x="368.9" y="85.3" width="14.2" height="14.18" fill="rgb(255,165,165)"/>
<rect x="382.7" y="85.3" width="14.2" height="14.18" fill="rgb(255,155,155)"/>
<rect x="396.5" y="85.3" width="14.2" height="14.18" fill="rgb(255,180,180)"/>
<rect x="244.7" y="99.08" width="14.2" height="14.18" fill="rgb(255,225,225)"/>
<rect x="258.5" y="99.08" width="14.2" height="14.18" fill="rgb(255,210,210)"/>
<rect x="272.3" y="99.08" width="14.2" height="14.18" fill="rgb(255,255,255)"/>
<rect x="286.1" y="99.08" width="14.2" height="14.18" fill="rgb(255,242,242)"/>
<rect x="299.9" y="99.08" width="14.2" height="14.18" fill="rgb(255,235,235)"/>
<rect x="313.7" y="99.08" width="14.2" height="14.18" fill="rgb(255,242,242)"/>
<rect x="327.5" y="99.08" width="14.2" height="14.18" fill="rgb(255,242,242)"/>
<rect x="341.3" y="99.08" width="14.2" height="14.18" fill="rgb(255,240,240)"/>
<rect x="355.1" y="99.08" width="14.2" height="14.18" fill="rgb(255,235,235)"/>
<rect x="368.9" y="99.08" width="14.2" height="14.18" fill="rgb(255,232,232)"/>
<rect x="382.7" y="99.08" width="14.2" height="14.18" fill="rgb(255,232,232)"/>
<rect x="396.5" y="99.08" width="14.2" height="14.18" fill="rgb(255,225,225)"/>
<rect x="244.7" y="112.85" width="14.2" height="14.18" fill="rgb(255,180,180)"/>
<rect x="258.5" y="112.85" width="14.2" height="14.18" fill="rgb(255,180,180)"/>
<rect x="272.3" y="112.85" width="14.2" height="14.18" fill="rgb(255,180,180)"/>
<rect x="286.1" y="112.85" width="14.2" height="14.18" fill="rgb(255,135,135)"/>
<rect x="299.9" y="112.85" width="14.2" height="14.18" fill="rgb(255,180,180)"/>
<rect x="313.7" y="112.85" width="14.2" height="14.18" fill="rgb(255,160,160)"/>
<rect x="327.5" y="112.85" width="14.2" height="14.18" fill="rgb(255,180,180)"/>
<rect x="341.3" y="112.85" width="14.2" height="14.18" fill="rgb(255,200,200)"/>
<rect x="355.1" y="112.85" width="14.2" height="14.18" fill="rgb(255,170,170)"/>
<rect x="368.9" y="112.85" width="14.2" height="14.18" fill="rgb(255,175,175)"/>
<rect x="382.7" y="112.85" width="14.2" height="14.18" fill="rgb(255,185,185)"/>
<rect x="396.5" y="112.85" width="14.2" height="14.18" fill="rgb(255,180,180)"/>
<rect x="244.7" y="126.62" width="14.2" height="14.18" fill="rgb(255,105,105)"/>
<rect x="258.5" y="126.62" width="14.2" height="14.18" fill="rgb(255,105,105)"/>
<rect x="272.3" y="126.62" width="14.2" height="14.18" fill="rgb(255,120,120)"/>
<rect x="286.1" y="126.62" width="14.2" height="14.18" fill="rgb(255,30,30)"/>
<rect x="299.9" y="126.62" width="14.2" height="14.18" fill="rgb(255,150,150)"/>
<rect x="313.7" y="126.62" width="14.2" height="14.18" fill="rgb(255,125,125)"/>
<rect x="327.5" y="126.62" width="14.2" height="14.18" fill="rgb(255,150,150)"/>
<rect x="341.3" y="126.62" width="14.2" height="14.18" fill="rgb(255,145,145)"/>
<rect x="355.1" y="126.62" width="14.2" height="14.18" fill="rgb(255,120,120)"/>
<rect x="368.9" y="126.62" width="14.2" height="14.18" fill="rgb(255,145,145)"/>
<rect x="382.7" y="126.62" width="14.2" height="14.18" fill="rgb(255,110,110)"/>
<rect x="396.5" y="126.62" width="14.2" height="14.18" fill="rgb(255,135,135)"/>
<rect x="244.7" y="140.4" width="14.2" height="14.18" fill="rgb(255,185,185)"/>
<rect x="258.5" y="140.4" width="14.2" height="14.18" fill="rgb(255,195,195)"/>
<rect x="272.3" y="140.4" width="14.2" height="14.18" fill="rgb(255,205,205)"/>
<rect x="286.1" y="140.4" width="14.2" height="14.18" fill="rgb(255,160,160)"/>
<rect x="299.9" y="140.4" width="14.2" height="14.18" fill="rgb(255,240,240)"/>
<rect x="313.7" y="140.4" width="14.2" height="14.18" fill="rgb(255,215,215)"/>
<rect x="327.5" y="140.4" width="14.2" height="14.18" fill="rgb(255,230,230)"/>
<rect x="341.3" y="140.4" width="14.2" height="14.18" fill="rgb(255,215,215)"/>
<rect x="355.1" y="140.4" width="14.2" height="14.18" fill="rgb(255,205,205)"/>
<rect x="368.9" y="140.4" width="14.2" height="14.18" fill="rgb(255,205,205)"/>
<rect x="382.7" y="140.4" width="14.2" height="14.18" fill="rgb(255,210,210)"/>
<rect x="396.5" y="140.4" width="14.2" height="14.18" fill="rgb(255,205,205)"/>
<rect x="244.7" y="154.18" width="14.2" height="14.18" fill="rgb(255,100,100)"/>
<rect x="258.5" y="154.18" width="14.2" height="14.18" fill="rgb(255,105,105)"/>
<rect x="272.3" y="154.18" width="14.2" height="14.18" fill="rgb(255,100,100)"/>
<rect x="286.1" y="154.18" width="14.2" height="14.18" fill="rgb(255,70,70)"/>
<rect x="299.9" y="154.18" width="14.2" height="14.18" fill="rgb(255,110,110)"/>
<rect x="313.7" y="154.18" width="14.2" height="14.18" fill="rgb(255,110,110)"/>
<rect x="327.5" y="154.18" width="14.2" height="14.18" fill="rgb(255,200,200)"/>
<rect x="341.3" y="154.18" width="14.2" height="14.18" fill="rgb(255,130,130)"/>
<rect x="355.1" y="154.18" width="14.2" height="14.18" fill="rgb(255,120,120)"/>
<rect x="368.9" y="154.18" width="14.2" height="14.18" fill="rgb(255,125,125)"/>
<rect x="382.7" y="154.18" width="14.2" height="14.18" fill="rgb(255,115,115)"/>
<rect x="396.5" y="154.18" width="14.2" height="14.18" fill="rgb(255,115,115)"/>
<rect x="244.7" y="167.95" width="14.2" height="14.18" fill="rgb(255,145,145)"/>
<rect x="258.5" y="167.95" width="14.2" height="14.18" fill="rgb(255,170,170)"/>
<rect x="272.3" y="167.95" width="14.2" height="14.18" fill="rgb(255,160,160)"/>
<rect x="286.1" y="167.95" width="14.2" height="14.18" fill="rgb(255,125,125)"/>
<rect x="299.9" y="167.95" width="14.2" height="14.18" fill="rgb(255,160,160)"/>
<rect x="313.7" y="167.95" width="14.2" height="14.18" fill="rgb(255,135,135)"/>
<rect x="327.5" y="167.95" width="14.2" height="14.18" fill="rgb(255,185,185)"/>
<rect x="341.3" y="167.95" width="14.2" height="14.18" fill="rgb(255,175,175)"/>
<rect x="355.1" y="167.95" width="14.2" height="14.18" fill="rgb(255,175,175)"/>
<rect x="368.9" y="167.95" width="14.2" height="14.18" fill="rgb(255,165,165)"/>
<rect x="382.7" y="167.95" width="14.2" height="14.18" fill="rgb(255,160,160)"/>
<rect x="396.5" y="167.95" width="14.2" height="14.18" fill="rgb(255,165,165)"/>
<rect x="244.7" y="181.72" width="14.2" height="14.18" fill="rgb(255,145,145)"/>
<rect x="258.5" y="181.72" width="14.2" height="14.18" fill="rgb(255,125,125)"/>
<rect x="272.3" y="181.72" width="14.2" height="14.18" fill="rgb(255,105,105)"/>
<rect x="286.1" y="181.72" width="14.2" height="14.18" fill="rgb(255,115,115)"/>
<rect x="299.9" y="181.72" width="14.2" height="14.18" fill="rgb(255,160,160)"/>
<rect x="313.7" y="181.72" width="14.2" height="14.18" fill="rgb(255,170,170)"/>
<rect x="327.5" y="181.72" width="14.2" height="14.18" fill="rgb(255,180,180)"/>
<rect x="341.3" y="181.72" width="14.2" height="14.18" fill="rgb(255,150,150)"/>
<rect x="355.1" y="181.72" width="14.2" height="14.18" fill="rgb(255,150,150)"/>
<rect x="368.9" y="181.72" width="14.2" height="14.18" fill="rgb(255,150,150)"/>
<rect x="382.7" y="181.72" width="14.2" height="14.18" fill="rgb(255,145,145)"/>
<rect x="396.5" y="181.72" width="14.2" height="14.18" fill="rgb(255,150,150)"/>
<rect x="244.7" y="195.5" width="14.2" height="14.18" fill="rgb(255,210,210)"/>
<rect x="258.5" y="195.5" width="14.2" height="14.18" fill="rgb(255,215,215)"/>
<rect x="272.3" y="195.5" width="14.2" height="14.18" fill="rgb(255,215,215)"/>
<rect x="286.1" y="195.5" width="14.2" height="14.18" fill="rgb(255,212,212)"/>
<rect x="299.9" y="195.5" width="14.2" height="14.18" fill="rgb(255,218,218)"/>
<rect x="313.7" y="195.5" width="14.2" height="14.18" fill="rgb(255,212,212)"/>
<rect x="327.5" y="195.5" width="14.2" height="14.18" fill="rgb(255,218,218)"/>
<rect x="341.3" y="195.5" width="14.2" height="14.18" fill="rgb(255,215,215)"/>
<rect x="355.1" y="195.5" width="14.2" height="14.18" fill="rgb(255,210,210)"/>
<rect x="368.9" y="195.5" width="14.2" height="14.18" fill="rgb(255,208,208)"/>
<rect x="382.7" y="195.5" width="14.2" height="14.18" fill="rgb(255,225,225)"/>
<rect x="396.5" y="195.5" width="14.2" height="14.18" fill="rgb(255,215,215)"/>
<rect x="244.7" y="209.28" width="14.2" height="14.18" fill="rgb(255,110,110)"/>
<rect x="258.5" y="209.28" width="14.2" height="14.18" fill="rgb(255,145,145)"/>
<rect x="272.3" y="209.28" width="14.2" height="14.18" fill="rgb(255,120,120)"/>
<rect x="286.1" y="209.28" width="14.2" height="14.18" fill="rgb(255,90,90)"/>
<rect x="299.9" y="209.28" width="14.2" height="14.18" fill="rgb(255,160,160)"/>
<rect x="313.7" y="209.28" width="14.2" height="14.18" fill="rgb(255,210,210)"/>
<rect x="327.5" y="209.28" width="14.2" height="14.18" fill="rgb(255,195,195)"/>
<rect x="341.3" y="209.28" width="14.2" height="14.18" fill="rgb(255,160,160)"/>
<rect x="355.1" y="209.28" width="14.2" height="14.18" fill="rgb(255,135,135)"/>
<rect x="368.9" y="209.28" width="14.2" height="14.18" fill="rgb(255,155,155)"/>
<rect x="382.7" y="209.28" width="14.2" height="14.18" fill="rgb(255,160,160)"/>
<rect x="396.5" y="209.28" width="14.2" height="14.18" fill="rgb(255,155,155)"/>
<rect x="244.7" y="223.05" width="14.2" height="14.18" fill="rgb(255,195,195)"/>
<rect x="258.5" y="223.05" width="14.2" height="14.18" fill="rgb(255,195,195)"/>
<rect x="272.3" y="223.05" width="14.2" height="14.18" fill="rgb(255,200,200)"/>
<rect x="286.1" y="223.05" width="14.2" height="14.18" fill="rgb(255,205,205)"/>
<rect x="299.9" y="223.05" width="14.2" height="14.18" fill="rgb(255,215,215)"/>
<rect x="313.7" y="223.05" width="14.2" height="14.18" fill="rgb(255,190,190)"/>
<rect x="327.5" y="223.05" width="14.2" height="14.18" fill="rgb(255,210,210)"/>
<rect x="341.3" y="223.05" width="14.2" height="14.18" fill="rgb(255,200,200)"/>
<rect x="355.1" y="223.05" width="14.2" height="14.18" fill="rgb(255,200,200)"/>
<rect x="368.9" y="223.05" width="14.2" height="14.18" fill="rgb(255,205,205)"/>
<rect x="382.7" y="223.05" width="14.2" height="14.18" fill="rgb(255,200,200)"/>
<rect x="396.5" y="223.05" width="14.2" height="14.18" fill="rgb(255,195,195)"/>
<rect x="244.7" y="236.82" width="14.2" height="14.18" fill="rgb(255,175,175)"/>
<rect x="258.5" y="236.82" width="14.2" height="14.18" fill="rgb(255,185,185)"/>
<rect x="272.3" y="236.82" width="14.2" height="14.18" fill="rgb(255,185,185)"/>
<rect x="286.1" y="236.82" width="14.2" height="14.18" fill="rgb(255,170,170)"/>
<rect x="299.9" y="236.82" width="14.2" height="14.18" fill="rgb(255,190,190)"/>
<rect x="313.7" y="236.82" width="14.2" height="14.18" fill="rgb(255,190,190)"/>
<rect x="327.5" y="236.82" width="14.2" height="14.18" fill="rgb(255,195,195)"/>
<rect x="341.3" y="236.82" width="14.2" height="14.18" fill="rgb(255,180,180)"/>
<rect x="355.1" y="236.82" width="14.2" height="14.18" fill="rgb(255,180,180)"/>
<rect x="368.9" y="236.82" width="14.2" height="14.18" fill="rgb(255,185,185)"/>
<rect x="382.7" y="236.82" width="14.2" height="14.18" fill="rgb(255,180,180)"/>
<rect x="396.5" y="236.82" width="14.2" height="14.18" fill="rgb(255,190,190)"/>
<rect x="244.7" y="250.6" width="14.2" height="14.18" fill="rgb(255,190,190)"/>
<rect x="258.5" y="250.6" width="14.2" height="14.18" fill="rgb(255,215,215)"/>
<rect x="272.3" y="250.6" width="14.2" height="14.18" fill="rgb(255,218,218)"/>
<rect x="286.1" y="250.6" width="14.2" height="14.18" fill="rgb(255,210,210)"/>
<rect x="299.9" y="250.6" width="14.2" height="14.18" fill="rgb(255,190,190)"/>
<rect x="313.7" y="250.6" width="14.2" height="14.18" fill="rgb(255,205,205)"/>
<rect x="327.5" y="250.6" width="14.2" height="14.18" fill="rgb(255,225,225)"/>
<rect x="341.3" y="250.6" width="14.2" height="14.18" fill="rgb(255,232,232)"/>
<rect x="355.1" y="250.6" width="14.2" height="14.18" fill="rgb(255,228,228)"/>
<rect x="368.9" y="250.6" width="14.2" height="14.18" fill="rgb(255,190,190)"/>
<rect x="382.7" y="250.6" width="14.2" height="14.18" fill="rgb(255,205,205)"/>
<rect x="396.5" y="250.6" width="14.2" height="14.18" fill="rgb(255,200,200)"/>
<rect x="244.7" y="264.38" width="14.2" height="14.18" fill="rgb(255,170,170)"/>
<rect x="258.5" y="264.38" width="14.2" height="14.18" fill="rgb(255,170,170)"/>
<rect x="272.3" y="264.38" width="14.2" height="14.18" fill="rgb(255,165,165)"/>
<rect x="286.1" y="264.38" width="14.2" height="14.18" fill="rgb(255,165,165)"/>
<rect x="299.9" y="264.38" width="14.2" height="14.18" fill="rgb(255,170,170)"/>
<rect x="313.7" y="264.38" width="14.2" height="14.18" fill="rgb(255,170,170)"/>
<rect x="327.5" y="264.38" width="14.2" height="14.18" fill="rgb(255,170,170)"/>
<rect x="341.3" y="264.38" width="14.2" height="14.18" fill="rgb(255,170,170)"/>
<rect x="355.1" y="264.38" width="14.2" height="14.18" fill="rgb(255,170,170)"/>
<rect x="368.9" y="264.38" width="14.2" height="14.18" fill="rgb(255,165,165)"/>
<rect x="382.7" y="264.38" width="14.2" height="14.18" fill="rgb(255,170,170)"/>
<rect x="396.5" y="264.38" width="14.2" height="14.18" fill="rgb(255,170,170)"/>
<rect x="244.7" y="278.15" width="14.2" height="14.18" fill="rgb(255,120,120)"/>
<rect x="258.5" y="278.15" width="14.2" height="14.18" fill="rgb(255,105,105)"/>
<rect x="272.3" y="278.15" width="14.2" height="14.18" fill="rgb(255,85,85)"/>
<rect x="286.1" y="278.15" width="14.2" height="14.18" fill="rgb(255,105,105)"/>
<rect x="299.9" y="278.15" width="14.2" height="14.18" fill="rgb(255,110,110)"/>
<rect x="313.7" y="278.15" width="14.2" height="14.18" fill="rgb(255,135,135)"/>
<rect x="327.5" y="278.15" width="14.2" height="14.18" fill="rgb(255,135,135)"/>
<rect x="341.3" y="278.15" width="14.2" height="14.18" fill="rgb(255,135,135)"/>
<rect x="355.1" y="278.15" width="14.2" height="14.18" fill="rgb(255,120,120)"/>
<rect x="368.9" y="278.15" width="14.2" height="14.18" fill="rgb(255,125,125)"/>
<rect x="382.7" y="278.15" width="14.2" height="14.18" fill="rgb(255,115,115)"/>
<rect x="396.5" y="278.15" width="14.2" height="14.18" fill="rgb(255,125,125)"/>
<rect x="244.7" y="291.93" width="14.2" height="14.18" fill="rgb(255,210,210)"/>
<rect x="258.5" y="291.93" width="14.2" height="14.18" fill="rgb(255,170,170)"/>
<rect x="272.3" y="291.93" width="14.2" height="14.18" fill="rgb(255,215,215)"/>
<rect x="286.1" y="291.93" width="14.2" height="14.18" fill="rgb(255,200,200)"/>
<rect x="299.9" y="291.93" width="14.2" height="14.18" fill="rgb(255,208,208)"/>
<rect x="313.7" y="291.93" width="14.2" height="14.18" fill="rgb(255,208,208)"/>
<rect x="327.5" y="291.93" width="14.2" height="14.18" fill="rgb(255,208,208)"/>
<rect x="341.3" y="291.93" width="14.2" height="14.18" fill="rgb(255,210,210)"/>
<rect x="355.1" y="291.93" width="14.2" height="14.18" fill="rgb(255,200,200)"/>
<rect x="368.9" y="291.93" width="14.2" height="14.18" fill="rgb(255,200,200)"/>
<rect x="382.7" y="291.93" width="14.2" height="14.18" fill="rgb(255,205,205)"/>
<rect x="396.5" y="291.93" width="14.2" height="14.18" fill="rgb(255,205,205)"/>
<rect x="244.7" y="305.7" width="14.2" height="14.18" fill="rgb(255,205,205)"/>
<rect x="258.5" y="305.7" width="14.2" height="14.18" fill="rgb(255,205,205)"/>
<rect x="272.3" y="305.7" width="14.2" height="14.18" fill="rgb(255,200,200)"/>
<rect x="286.1" y="305.7" width="14.2" height="14.18" fill="rgb(255,205,205)"/>
<rect x="299.9" y="305.7" width="14.2" height="14.18" fill="rgb(255,205,205)"/>
<rect x="313.7" y="305.7" width="14.2" height="14.18" fill="rgb(255,185,185)"/>
<rect x="327.5" y="305.7" width="14.2" height="14.18" fill="rgb(255,210,210)"/>
<rect x="341.3" y="305.7" width="14.2" height="14.18" fill="rgb(255,210,210)"/>
<rect x="355.1" y="305.7" width="14.2" height="14.18" fill="rgb(255,205,205)"/>
<rect x="368.9" y="305.7" width="14.2" height="14.18" fill="rgb(255,215,215)"/>
<rect x="382.7" y="305.7" width="14.2" height="14.18" fill="rgb(255,210,210)"/>
<rect x="396.5" y="305.7" width="14.2" height="14.18" fill="rgb(255,205,205)"/>
<rect x="244.7" y="319.48" width="14.2" height="14.18" fill="rgb(255,180,180)"/>
<rect x="258.5" y="319.48" width="14.2" height="14.18" fill="rgb(255,165,165)"/>
<rect x="272.3" y="319.48" width="14.2" height="14.18" fill="rgb(255,155,155)"/>
<rect x="286.1" y="319.48" width="14.2" height="14.18" fill="rgb(255,125,125)"/>
<rect x="299.9" y="319.48" width="14.2" height="14.18" fill="rgb(255,190,190)"/>
<rect x="313.7" y="319.48" width="14.2" height="14.18" fill="rgb(255,210,210)"/>
<rect x="327.5" y="319.48" width="14.2" height="14.18" fill="rgb(255,205,205)"/>
<rect x="341.3" y="319.48" width="14.2" height="14.18" fill="rgb(255,175,175)"/>
<rect x="355.1" y="319.48" width="14.2" height="14.18" fill="rgb(255,135,135)"/>
<rect x="368.9" y="319.48" width="14.2" height="14.18" fill="rgb(255,250,250)"/>
<rect x="382.7" y="319.48" width="14.2" height="14.18" fill="rgb(255,130,130)"/>
<rect x="396.5" y="319.48" width="14.2" height="14.18" fill="rgb(255,200,200)"/>
<rect x="244.7" y="333.25" width="14.2" height="14.18" fill="rgb(255,145,145)"/>
<rect x="258.5" y="333.25" width="14.2" height="14.18" fill="rgb(255,155,155)"/>
<rect x="272.3" y="333.25" width="14.2" height="14.18" fill="rgb(255,150,150)"/>
<rect x="286.1" y="333.25" width="14.2" height="14.18" fill="rgb(255,155,155)"/>
<rect x="299.9" y="333.25" width="14.2" height="14.18" fill="rgb(255,150,150)"/>
<rect x="313.7" y="333.25" width="14.2" height="14.18" fill="rgb(255,150,150)"/>
<rect x="327.5" y="333.25" width="14.2" height="14.18" fill="rgb(255,155,155)"/>
<rect x="341.3" y="333.25" width="14.2" height="14.18" fill="rgb(255,140,140)"/>
<rect x="355.1" y="333.25" width="14.2" height="14.18" fill="rgb(255,145,145)"/>
<rect x="368.9" y="333.25" width="14.2" height="14.18" fill="rgb(255,145,145)"/>
<rect x="382.7" y="333.25" width="14.2" height="14.18" fill="rgb(255,140,140)"/>
<rect x="396.5" y="333.25" width="14.2" height="14.18" fill="rgb(255,145,145)"/>
<rect x="244.7" y="347.03" width="14.2" height="14.18" fill="rgb(255,85,85)"/>
<rect x="258.5" y="347.03" width="14.2" height="14.18" fill="rgb(255,85,85)"/>
<rect x="272.3" y="347.03" width="14.2" height="14.18" fill="rgb(255,75,75)"/>
<rect x="286.1" y="347.03" width="14.2" height="14.18" fill="rgb(255,40,40)"/>
<rect x="299.9" y="347.03" width="14.2" height="14.18" fill="rgb(255,115,115)"/>
<rect x="313.7" y="347.03" width="14.2" height="14.18" fill="rgb(255,120,120)"/>
<rect x="327.5" y="347.03" width="14.2" height="14.18" fill="rgb(255,110,110)"/>
<rect x="341.3" y="347.03" width="14.2" height="14.18" fill="rgb(255,80,80)"/>
<rect x="355.1" y="347.03" width="14.2" height="14.18" fill="rgb(255,90,90)"/>
<rect x="368.9" y="347.03" width="14.2" height="14.18" fill="rgb(255,80,80)"/>
<rect x="382.7" y="347.03" width="14.2" height="14.18" fill="rgb(255,85,85)"/>
<rect x="396.5" y="347.03" width="14.2" height="14.18" fill="rgb(255,100,100)"/>
<rect x="244.7" y="360.8" width="14.2" height="14.18" fill="rgb(255,155,155)"/>
<rect x="258.5" y="360.8" width="14.2" height="14.18" fill="rgb(255,155,155)"/>
<rect x="272.3" y="360.8" width="14.2" height="14.18" fill="rgb(255,195,195)"/>
<rect x="286.1" y="360.8" width="14.2" height="14.18" fill="rgb(255,165,165)"/>
<rect x="299.9" y="360.8" width="14.2" height="14.18" fill="rgb(255,210,210)"/>
<rect x="313.7" y="360.8" width="14.2" height="14.18" fill="rgb(255,170,170)"/>
<rect x="327.5" y="360.8" width="14.2" height="14.18" fill="rgb(255,175,175)"/>
<rect x="341.3" y="360.8" width="14.2" height="14.18" fill="rgb(255,150,150)"/>
<rect x="355.1" y="360.8" width="14.2" height="14.18" fill="rgb(255,165,165)"/>
<rect x="368.9" y="360.8" width="14.2" height="14.18" fill="rgb(255,165,165)"/>
<rect x="382.7" y="360.8" width="14.2" height="14.18" fill="rgb(255,175,175)"/>
<rect x="396.5" y="360.8" width="14.2" height="14.18" fill="rgb(255,165,165)"/>
<rect x="244.7" y="374.58" width="14.2" height="14.18" fill="rgb(255,145,145)"/>
<rect x="258.5" y="374.58" width="14.2" height="14.18" fill="rgb(255,145,145)"/>
<rect x="272.3" y="374.58" width="14.2" height="14.18" fill="rgb(255,145,145)"/>
<rect x="286.1" y="374.58" width="14.2" height="14.18" fill="rgb(255,135,135)"/>
<rect x="299.9" y="374.58" width="14.2" height="14.18" fill="rgb(255,170,170)"/>
<rect x="313.7" y="374.58" width="14.2" height="14.18" fill="rgb(255,140,140)"/>
<rect x="327.5" y="374.58" width="14.2" height="14.18" fill="rgb(255,160,160)"/>
<rect x="341.3" y="374.58" width="14.2" height="14.18" fill="rgb(255,150,150)"/>
<rect x="355.1" y="374.58" width="14.2" height="14.18" fill="rgb(255,140,140)"/>
<rect x="368.9" y="374.58" width="14.2" height="14.18" fill="rgb(255,135,135)"/>
<rect x="382.7" y="374.58" width="14.2" height="14.18" fill="rgb(255,155,155)"/>
<rect x="396.5" y="374.58" width="14.2" height="14.18" fill="rgb(255,150,150)"/>
<rect x="244.7" y="388.35" width="14.2" height="14.18" fill="rgb(255,140,140)"/>
<rect x="258.5" y="388.35" width="14.2" height="14.18" fill="rgb(255,150,150)"/>
<rect x="272.3" y="388.35" width="14.2" height="14.18" fill="rgb(255,150,150)"/>
<rect x="286.1" y="388.35" width="14.2" height="14.18" fill="rgb(255,150,150)"/>
<rect x="299.9" y="388.35" width="14.2" height="14.18" fill="rgb(255,150,150)"/>
<rect x="313.7" y="388.35" width="14.2" height="14.18" fill="rgb(255,150,150)"/>
<rect x="327.5" y="388.35" width="14.2" height="14.18" fill="rgb(255,160,160)"/>
<rect x="341.3" y="388.35" width="14.2" height="14.18" fill="rgb(255,135,135)"/>
<rect x="355.1" y="388.35" width="14.2" height="14.18" fill="rgb(255,140,140)"/>
<rect x="368.9" y="388.35" width="14.2" height="14.18" fill="rgb(255,150,150)"/>
<rect x="382.7" y="388.35" width="14.2" height="14.18" fill="rgb(255,150,150)"/>
<rect x="396.5" y="388.35" width="14.2" height="14.18" fill="rgb(255,155,155)"/>
<rect x="244.7" y="402.12" width="14.2" height="14.18" fill="rgb(255,190,190)"/>
<rect x="258.5" y="402.12" width="14.2" height="14.18" fill="rgb(255,210,210)"/>
<rect x="272.3" y="402.12" width="14.2" height="14.18" fill="rgb(255,205,205)"/>
<rect x="286.1" y="402.12" width="14.2" height="14.18" fill="rgb(255,205,205)"/>
<rect x="299.9" y="402.12" width="14.2" height="14.18" fill="rgb(255,210,210)"/>
<rect x="313.7" y="402.12" width="14.2" height="14.18" fill="rgb(255,205,205)"/>
<rect x="327.5" y="402.12" width="14.2" height="14.18" fill="rgb(255,220,220)"/>
<rect x="341.3" y="402.12" width="14.2" height="14.18" fill="rgb(255,190,190)"/>
<rect x="355.1" y="402.12" width="14.2" height="14.18" fill="rgb(255,200,200)"/>
<rect x="368.9" y="402.12" width="14.2" height="14.18" fill="rgb(255,215,215)"/>
<rect x="382.7" y="402.12" width="14.2" height="14.18" fill="rgb(255,205,205)"/>
<rect x="396.5" y="402.12" width="14.2" height="14.18" fill="rgb(255,205,205)"/>
<rect x="244.7" y="415.9" width="14.2" height="14.18" fill="rgb(255,125,125)"/>
<rect x="258.5" y="415.9" width="14.2" height="14.18" fill="rgb(255,135,135)"/>
<rect x="272.3" y="415.9" width="14.2" height="14.18" fill="rgb(255,105,105)"/>
<rect x="286.1" y="415.9" width="14.2" height="14.18" fill="rgb(255,155,155)"/>
<rect x="299.9" y="415.9" width="14.2" height="14.18" fill="rgb(255,130,130)"/>
<rect x="313.7" y="415.9" width="14.2" height="14.18" fill="rgb(255,115,115)"/>
<rect x="327.5" y="415.9" width="14.2" height="14.18" fill="rgb(255,140,140)"/>
<rect x="341.3" y="415.9" width="14.2" height="14.18" fill="rgb(255,100,100)"/>
<rect x="355.1" y="415.9" width="14.2" height="14.18" fill="rgb(255,110,110)"/>
<rect x="368.9" y="415.9" width="14.2" height="14.18" fill="rgb(255,40,40)"/>
<rect x="382.7" y="415.9" width="14.2" height="14.18" fill="rgb(255,205,205)"/>
<rect x="396.5" y="415.9" width="14.2" height="14.18" fill="rgb(255,155,155)"/>
<rect x="244.7" y="429.68" width="14.2" height="14.18" fill="rgb(255,105,105)"/>
<rect x="258.5" y="429.68" width="14.2" height="14.18" fill="rgb(255,115,115)"/>
<rect x="272.3" y="429.68" width="14.2" height="14.18" fill="rgb(255,110,110)"/>
<rect x="286.1" y="429.68" width="14.2" height="14.18" fill="rgb(255,80,80)"/>
<rect x="299.9" y="429.68" width="14.2" height="14.18" fill="rgb(255,115,115)"/>
<rect x="313.7" y="429.68" width="14.2" height="14.18" fill="rgb(255,120,120)"/>
<rect x="327.5" y="429.68" width="14.2" height="14.18" fill="rgb(255,205,205)"/>
<rect x="341.3" y="429.68" width="14.2" height="14.18" fill="rgb(255,125,125)"/>
<rect x="355.1" y="429.68" width="14.2" height="14.18" fill="rgb(255,110,110)"/>
<rect x="368.9" y="429.68" width="14.2" height="14.18" fill="rgb(255,160,160)"/>
<rect x="382.7" y="429.68" width="14.2" height="14.18" fill="rgb(255,120,120)"/>
<rect x="396.5" y="429.68" width="14.2" height="14.18" fill="rgb(255,120,120)"/>
<rect x="244.7" y="443.45" width="14.2" height="14.18" fill="rgb(255,225,225)"/>
<rect x="258.5" y="443.45" width="14.2" height="14.18" fill="rgb(255,238,238)"/>
<rect x="272.3" y="443.45" width="14.2" height="14.18" fill="rgb(255,232,232)"/>
<rect x="286.1" y="443.45" width="14.2" height="14.18" fill="rgb(255,225,225)"/>
<rect x="299.9" y="443.45" width="14.2" height="14.18" fill="rgb(255,230,230)"/>
<rect x="313.7" y="443.45" width="14.2" height="14.18" fill="rgb(255,232,232)"/>
<rect x="327.5" y="443.45" width="14.2" height="14.18" fill="rgb(255,238,238)"/>
<rect x="341.3" y="443.45" width="14.2" height="14.18" fill="rgb(255,235,235)"/>
<rect x="355.1" y="443.45" width="14.2" height="14.18" fill="rgb(255,228,228)"/>
<rect x="368.9" y="443.45" width="14.2" height="14.18" fill="rgb(255,242,242)"/>
<rect x="382.7" y="443.45" width="14.2" height="14.18" fill="rgb(255,238,238)"/>
<rect x="396.5" y="443.45" width="14.2" height="14.18" fill="rgb(255,235,235)"/>
<rect x="244.7" y="457.23" width="14.2" height="14.18" fill="rgb(255,215,215)"/>
<rect x="258.5" y="457.23" width="14.2" height="14.18" fill="rgb(255,205,205)"/>
<rect x="272.3" y="457.23" width="14.2" height="14.18" fill="rgb(255,195,195)"/>
<rect x="286.1" y="457.23" width="14.2" height="14.18" fill="rgb(255,170,170)"/>
<rect x="299.9" y="457.23" width="14.2" height="14.18" fill="rgb(255,220,220)"/>
<rect x="313.7" y="457.23" width="14.2" height="14.18" fill="rgb(255,218,218)"/>
<rect x="327.5" y="457.23" width="14.2" height="14.18" fill="rgb(255,225,225)"/>
<rect x="341.3" y="457.23" width="14.2" height="14.18" fill="rgb(255,208,208)"/>
<rect x="355.1" y="457.23" width="14.2" height="14.18" fill="rgb(255,205,205)"/>
<rect x="368.9" y="457.23" width="14.2" height="14.18" fill="rgb(255,212,212)"/>
<rect x="382.7" y="457.23" width="14.2" height="14.18" fill="rgb(255,210,210)"/>
<rect x="396.5" y="457.23" width="14.2" height="14.18" fill="rgb(255,200,200)"/>
<rect x="244.7" y="471" width="14.2" height="14.18" fill="rgb(255,130,130)"/>
<rect x="258.5" y="471" width="14.2" height="14.18" fill="rgb(255,115,115)"/>
<rect x="272.3" y="471" width="14.2" height="14.18" fill="rgb(255,115,115)"/>
<rect x="286.1" y="471" width="14.2" height="14.18" fill="rgb(255,85,85)"/>
<rect x="299.9" y="471" width="14.2" height="14.18" fill="rgb(255,135,135)"/>
<rect x="313.7" y="471" width="14.2" height="14.18" fill="rgb(255,95,95)"/>
<rect x="327.5" y="471" width="14.2" height="14.18" fill="rgb(255,125,125)"/>
<rect x="341.3" y="471" width="14.2" height="14.18" fill="rgb(255,110,110)"/>
<rect x="355.1" y="471" width="14.2" height="14.18" fill="rgb(255,105,105)"/>
<rect x="368.9" y="471" width="14.2" height="14.18" fill="rgb(255,100,100)"/>
<rect x="382.7" y="471" width="14.2" height="14.18" fill="rgb(255,120,120)"/>
<rect x="396.5" y="471" width="14.2" height="14.18" fill="rgb(255,125,125)"/>
<rect x="244.7" y="484.78" width="14.2" height="14.18" fill="rgb(255,125,125)"/>
<rect x="258.5" y="484.78" width="14.2" height="14.18" fill="rgb(255,125,125)"/>
<rect x="272.3" y="484.78" width="14.2" height="14.18" fill="rgb(255,130,130)"/>
<rect x="286.1" y="484.78" width="14.2" height="14.18" fill="rgb(255,115,115)"/>
<rect x="299.9" y="484.78" width="14.2" height="14.18" fill="rgb(255,110,110)"/>
<rect x="313.7" y="484.78" width="14.2" height="14.18" fill="rgb(255,110,110)"/>
<rect x="327.5" y="484.78" width="14.2" height="14.18" fill="rgb(255,115,115)"/>
<rect x="341.3" y="484.78" width="14.2" height="14.18" fill="rgb(255,125,125)"/>
<rect x="355.1" y="484.78" width="14.2" height="14.18" fill="rgb(255,120,120)"/>
<rect x="368.9" y="484.78" width="14.2" height="14.18" fill="rgb(255,135,135)"/>
<rect x="382.7" y="484.78" width="14.2" height="14.18" fill="rgb(255,105,105)"/>
<rect x="396.5" y="484.78" width="14.2" height="14.18" fill="rgb(255,120,120)"/>
<rect x="244.7" y="498.55" width="14.2" height="14.18" fill="rgb(255,80,80)"/>
<rect x="258.5" y="498.55" width="14.2" height="14.18" fill="rgb(255,110,110)"/>
<rect x="272.3" y="498.55" width="14.2" height="14.18" fill="rgb(255,120,120)"/>
<rect x="286.1" y="498.55" width="14.2" height="14.18" fill="rgb(255,105,105)"/>
<rect x="299.9" y="498.55" width="14.2" height="14.18" fill="rgb(255,120,120)"/>
<rect x="313.7" y="498.55" width="14.2" height="14.18" fill="rgb(255,120,120)"/>
<rect x="327.5" y="498.55" width="14.2" height="14.18" fill="rgb(255,115,115)"/>
<rect x="341.3" y="498.55" width="14.2" height="14.18" fill="rgb(255,115,115)"/>
<rect x="355.1" y="498.55" width="14.2" height="14.18" fill="rgb(255,110,110)"/>
<rect x="368.9" y="498.55" width="14.2" height="14.18" fill="rgb(255,105,105)"/>
<rect x="382.7" y="498.55" width="14.2" height="14.18" fill="rgb(255,105,105)"/>
<rect x="396.5" y="498.55" width="14.2" height="14.18" fill="rgb(255,100,100)"/>
<rect x="244.7" y="512.33" width="14.2" height="14.18" fill="rgb(255,50,50)"/>
<rect x="258.5" y="512.33" width="14.2" height="14.18" fill="rgb(255,105,105)"/>
<rect x="272.3" y="512.33" width="14.2" height="14.18" fill="rgb(255,140,140)"/>
<rect x="286.1" y="512.33" width="14.2" height="14.18" fill="rgb(255,115,115)"/>
<rect x="299.9" y="512.33" width="14.2" height="14.18" fill="rgb(255,85,85)"/>
<rect x="313.7" y="512.33" width="14.2" height="14.18" fill="rgb(255,190,190)"/>
<rect x="327.5" y="512.33" width="14.2" height="14.18" fill="rgb(255,125,125)"/>
<rect x="341.3" y="512.33" width="14.2" height="14.18" fill="rgb(255,90,90)"/>
<rect x="355.1" y="512.33" width="14.2" height="14.18" fill="rgb(255,110,110)"/>
<rect x="368.9" y="512.33" width="14.2" height="14.18" fill="rgb(255,100,100)"/>
<rect x="382.7" y="512.33" width="14.2" height="14.18" fill="rgb(255,125,125)"/>
<rect x="396.5" y="512.33" width="14.2" height="14.18" fill="rgb(255,125,125)"/>
<rect x="244.7" y="526.1" width="14.2" height="14.18" fill="rgb(255,200,200)"/>
<rect x="258.5" y="526.1" width="14.2" height="14.18" fill="rgb(255,225,225)"/>
<rect x="272.3" y="526.1" width="14.2" height="14.18" fill="rgb(255,200,200)"/>
<rect x="286.1" y="526.1" width="14.2" height="14.18" fill="rgb(255,190,190)"/>
<rect x="299.9" y="526.1" width="14.2" height="14.18" fill="rgb(255,210,210)"/>
<rect x="313.7" y="526.1" width="14.2" height="14.18" fill="rgb(255,230,230)"/>
<rect x="327.5" y="526.1" width="14.2" height="14.18" fill="rgb(255,225,225)"/>
<rect x="341.3" y="526.1" width="14.2" height="14.18" fill="rgb(255,225,225)"/>
<rect x="355.1" y="526.1" width="14.2" height="14.18" fill="rgb(255,210,210)"/>
<rect x="368.9" y="526.1" width="14.2" height="14.18" fill="rgb(255,220,220)"/>
<rect x="382.7" y="526.1" width="14.2" height="14.18" fill="rgb(255,215,215)"/>
<rect x="396.5" y="526.1" width="14.2" height="14.18" fill="rgb(255,220,220)"/>
<rect x="244.7" y="539.88" width="14.2" height="14.18" fill="rgb(255,230,230)"/>
<rect x="258.5" y="539.88" width="14.2" height="14.18" fill="rgb(255,245,245)"/>
<rect x="272.3" y="539.88" width="14.2" height="14.18" fill="rgb(255,245,245)"/>
<rect x="286.1" y="539.88" width="14.2" height="14.18" fill="rgb(255,180,180)"/>
<rect x="299.9" y="539.88" width="14.2" height="14.18" fill="rgb(255,240,240)"/>
<rect x="313.7" y="539.88" width="14.2" height="14.18" fill="rgb(255,185,185)"/>
<rect x="327.5" y="539.88" width="14.2" height="14.18" fill="rgb(255,252,252)"/>
<rect x="341.3" y="539.88" width="14.2" height="14.18" fill="rgb(255,228,228)"/>
<rect x="355.1" y="539.88" width="14.2" height="14.18" fill="rgb(255,225,225)"/>
<rect x="368.9" y="539.88" width="14.2" height="14.18" fill="rgb(255,228,228)"/>
<rect x="382.7" y="539.88" width="14.2" height="14.18" fill="rgb(255,230,230)"/>
<rect x="396.5" y="539.88" width="14.2" height="14.18" fill="rgb(255,228,228)"/>
<rect x="414.9" y="85.3" width="14.2" height="14.18" fill="rgb(255,195,195)"/>
<rect x="428.7" y="85.3" width="14.2" height="14.18" fill="rgb(255,130,130)"/>
<rect x="442.5" y="85.3" width="14.2" height="14.18" fill="rgb(255,215,215)"/>
<rect x="456.3" y="85.3" width="14.2" height="14.18" fill="rgb(255,185,185)"/>
<rect x="470.1" y="85.3" width="14.2" height="14.18" fill="rgb(255,120,120)"/>
<rect x="483.9" y="85.3" width="14.2" height="14.18" fill="rgb(255,220,220)"/>
<rect x="497.7" y="85.3" width="14.2" height="14.18" fill="rgb(255,165,165)"/>
<rect x="511.5" y="85.3" width="14.2" height="14.18" fill="rgb(255,185,185)"/>
<rect x="525.3" y="85.3" width="14.2" height="14.18" fill="rgb(255,185,185)"/>
<rect x="539.1" y="85.3" width="14.2" height="14.18" fill="rgb(255,185,185)"/>
<rect x="552.9" y="85.3" width="14.2" height="14.18" fill="rgb(255,190,190)"/>
<rect x="566.7" y="85.3" width="14.2" height="14.18" fill="rgb(255,165,165)"/>
<rect x="414.9" y="99.08" width="14.2" height="14.18" fill="rgb(255,235,235)"/>
<rect x="428.7" y="99.08" width="14.2" height="14.18" fill="rgb(255,228,228)"/>
<rect x="442.5" y="99.08" width="14.2" height="14.18" fill="rgb(255,235,235)"/>
<rect x="456.3" y="99.08" width="14.2" height="14.18" fill="rgb(255,232,232)"/>
<rect x="470.1" y="99.08" width="14.2" height="14.18" fill="rgb(255,240,240)"/>
<rect x="483.9" y="99.08" width="14.2" height="14.18" fill="rgb(255,235,235)"/>
<rect x="497.7" y="99.08" width="14.2" height="14.18" fill="rgb(255,238,238)"/>
<rect x="511.5" y="99.08" width="14.2" height="14.18" fill="rgb(255,238,238)"/>
<rect x="525.3" y="99.08" width="14.2" height="14.18" fill="rgb(255,238,238)"/>
<rect x="539.1" y="99.08" width="14.2" height="14.18" fill="rgb(255,230,230)"/>
<rect x="552.9" y="99.08" width="14.2" height="14.18" fill="rgb(255,232,232)"/>
<rect x="566.7" y="99.08" width="14.2" height="14.18" fill="rgb(255,235,235)"/>
<rect x="414.9" y="112.85" width="14.2" height="14.18" fill="rgb(255,200,200)"/>
<rect x="428.7" y="112.85" width="14.2" height="14.18" fill="rgb(255,170,170)"/>
<rect x="442.5" y="112.85" width="14.2" height="14.18" fill="rgb(255,170,170)"/>
<rect x="456.3" y="112.85" width="14.2" height="14.18" fill="rgb(255,170,170)"/>
<rect x="470.1" y="112.85" width="14.2" height="14.18" fill="rgb(255,175,175)"/>
<rect x="483.9" y="112.85" width="14.2" height="14.18" fill="rgb(255,205,205)"/>
<rect x="497.7" y="112.85" width="14.2" height="14.18" fill="rgb(255,175,175)"/>
<rect x="511.5" y="112.85" width="14.2" height="14.18" fill="rgb(255,180,180)"/>
<rect x="525.3" y="112.85" width="14.2" height="14.18" fill="rgb(255,175,175)"/>
<rect x="539.1" y="112.85" width="14.2" height="14.18" fill="rgb(255,175,175)"/>
<rect x="552.9" y="112.85" width="14.2" height="14.18" fill="rgb(255,175,175)"/>
<rect x="566.7" y="112.85" width="14.2" height="14.18" fill="rgb(255,175,175)"/>
<rect x="414.9" y="126.62" width="14.2" height="14.18" fill="rgb(255,140,140)"/>
<rect x="428.7" y="126.62" width="14.2" height="14.18" fill="rgb(255,90,90)"/>
<rect x="442.5" y="126.62" width="14.2" height="14.18" fill="rgb(255,110,110)"/>
<rect x="456.3" y="126.62" width="14.2" height="14.18" fill="rgb(255,85,85)"/>
<rect x="470.1" y="126.62" width="14.2" height="14.18" fill="rgb(255,135,135)"/>
<rect x="483.9" y="126.62" width="14.2" height="14.18" fill="rgb(255,85,85)"/>
<rect x="497.7" y="126.62" width="14.2" height="14.18" fill="rgb(255,135,135)"/>
<rect x="511.5" y="126.62" width="14.2" height="14.18" fill="rgb(255,125,125)"/>
<rect x="525.3" y="126.62" width="14.2" height="14.18" fill="rgb(255,120,120)"/>
<rect x="539.1" y="126.62" width="14.2" height="14.18" fill="rgb(255,110,110)"/>
<rect x="552.9" y="126.62" width="14.2" height="14.18" fill="rgb(255,135,135)"/>
<rect x="566.7" y="126.62" width="14.2" height="14.18" fill="rgb(255,130,130)"/>
<rect x="414.9" y="140.4" width="14.2" height="14.18" fill="rgb(255,190,190)"/>
<rect x="428.7" y="140.4" width="14.2" height="14.18" fill="rgb(255,185,185)"/>
<rect x="442.5" y="140.4" width="14.2" height="14.18" fill="rgb(255,195,195)"/>
<rect x="456.3" y="140.4" width="14.2" height="14.18" fill="rgb(255,175,175)"/>
<rect x="470.1" y="140.4" width="14.2" height="14.18" fill="rgb(255,205,205)"/>
<rect x="483.9" y="140.4" width="14.2" height="14.18" fill="rgb(255,180,180)"/>
<rect x="497.7" y="140.4" width="14.2" height="14.18" fill="rgb(255,210,210)"/>
<rect x="511.5" y="140.4" width="14.2" height="14.18" fill="rgb(255,215,215)"/>
<rect x="525.3" y="140.4" width="14.2" height="14.18" fill="rgb(255,190,190)"/>
<rect x="539.1" y="140.4" width="14.2" height="14.18" fill="rgb(255,190,190)"/>
<rect x="552.9" y="140.4" width="14.2" height="14.18" fill="rgb(255,195,195)"/>
<rect x="566.7" y="140.4" width="14.2" height="14.18" fill="rgb(255,195,195)"/>
<rect x="414.9" y="154.18" width="14.2" height="14.18" fill="rgb(255,145,145)"/>
<rect x="428.7" y="154.18" width="14.2" height="14.18" fill="rgb(255,95,95)"/>
<rect x="442.5" y="154.18" width="14.2" height="14.18" fill="rgb(255,135,135)"/>
<rect x="456.3" y="154.18" width="14.2" height="14.18" fill="rgb(255,120,120)"/>
<rect x="470.1" y="154.18" width="14.2" height="14.18" fill="rgb(255,115,115)"/>
<rect x="483.9" y="154.18" width="14.2" height="14.18" fill="rgb(255,115,115)"/>
<rect x="497.7" y="154.18" width="14.2" height="14.18" fill="rgb(255,165,165)"/>
<rect x="511.5" y="154.18" width="14.2" height="14.18" fill="rgb(255,125,125)"/>
<rect x="525.3" y="154.18" width="14.2" height="14.18" fill="rgb(255,125,125)"/>
<rect x="539.1" y="154.18" width="14.2" height="14.18" fill="rgb(255,125,125)"/>
<rect x="552.9" y="154.18" width="14.2" height="14.18" fill="rgb(255,135,135)"/>
<rect x="566.7" y="154.18" width="14.2" height="14.18" fill="rgb(255,115,115)"/>
<rect x="414.9" y="167.95" width="14.2" height="14.18" fill="rgb(255,170,170)"/>
<rect x="428.7" y="167.95" width="14.2" height="14.18" fill="rgb(255,160,160)"/>
<rect x="442.5" y="167.95" width="14.2" height="14.18" fill="rgb(255,180,180)"/>
<rect x="456.3" y="167.95" width="14.2" height="14.18" fill="rgb(255,165,165)"/>
<rect x="470.1" y="167.95" width="14.2" height="14.18" fill="rgb(255,165,165)"/>
<rect x="483.9" y="167.95" width="14.2" height="14.18" fill="rgb(255,170,170)"/>
<rect x="497.7" y="167.95" width="14.2" height="14.18" fill="rgb(255,175,175)"/>
<rect x="511.5" y="167.95" width="14.2" height="14.18" fill="rgb(255,165,165)"/>
<rect x="525.3" y="167.95" width="14.2" height="14.18" fill="rgb(255,165,165)"/>
<rect x="539.1" y="167.95" width="14.2" height="14.18" fill="rgb(255,165,165)"/>
<rect x="552.9" y="167.95" width="14.2" height="14.18" fill="rgb(255,175,175)"/>
<rect x="566.7" y="167.95" width="14.2" height="14.18" fill="rgb(255,175,175)"/>
<rect x="414.9" y="181.72" width="14.2" height="14.18" fill="rgb(255,165,165)"/>
<rect x="428.7" y="181.72" width="14.2" height="14.18" fill="rgb(255,120,120)"/>
<rect x="442.5" y="181.72" width="14.2" height="14.18" fill="rgb(255,120,120)"/>
<rect x="456.3" y="181.72" width="14.2" height="14.18" fill="rgb(255,120,120)"/>
<rect x="470.1" y="181.72" width="14.2" height="14.18" fill="rgb(255,165,165)"/>
<rect x="483.9" y="181.72" width="14.2" height="14.18" fill="rgb(255,135,135)"/>
<rect x="497.7" y="181.72" width="14.2" height="14.18" fill="rgb(255,180,180)"/>
<rect x="511.5" y="181.72" width="14.2" height="14.18" fill="rgb(255,140,140)"/>
<rect x="525.3" y="181.72" width="14.2" height="14.18" fill="rgb(255,140,140)"/>
<rect x="539.1" y="181.72" width="14.2" height="14.18" fill="rgb(255,135,135)"/>
<rect x="552.9" y="181.72" width="14.2" height="14.18" fill="rgb(255,150,150)"/>
<rect x="566.7" y="181.72" width="14.2" height="14.18" fill="rgb(255,140,140)"/>
<rect x="414.9" y="195.5" width="14.2" height="14.18" fill="rgb(255,218,218)"/>
<rect x="428.7" y="195.5" width="14.2" height="14.18" fill="rgb(255,212,212)"/>
<rect x="442.5" y="195.5" width="14.2" height="14.18" fill="rgb(255,212,212)"/>
<rect x="456.3" y="195.5" width="14.2" height="14.18" fill="rgb(255,218,218)"/>
<rect x="470.1" y="195.5" width="14.2" height="14.18" fill="rgb(255,208,208)"/>
<rect x="483.9" y="195.5" width="14.2" height="14.18" fill="rgb(255,212,212)"/>
<rect x="497.7" y="195.5" width="14.2" height="14.18" fill="rgb(255,218,218)"/>
<rect x="511.5" y="195.5" width="14.2" height="14.18" fill="rgb(255,212,212)"/>
<rect x="525.3" y="195.5" width="14.2" height="14.18" fill="rgb(255,212,212)"/>
<rect x="539.1" y="195.5" width="14.2" height="14.18" fill="rgb(255,215,215)"/>
<rect x="552.9" y="195.5" width="14.2" height="14.18" fill="rgb(255,215,215)"/>
<rect x="566.7" y="195.5" width="14.2" height="14.18" fill="rgb(255,215,215)"/>
<rect x="414.9" y="209.28" width="14.2" height="14.18" fill="rgb(255,145,145)"/>
<rect x="428.7" y="209.28" width="14.2" height="14.18" fill="rgb(255,105,105)"/>
<rect x="442.5" y="209.28" width="14.2" height="14.18" fill="rgb(255,105,105)"/>
<rect x="456.3" y="209.28" width="14.2" height="14.18" fill="rgb(255,110,110)"/>
<rect x="470.1" y="209.28" width="14.2" height="14.18" fill="rgb(255,145,145)"/>
<rect x="483.9" y="209.28" width="14.2" height="14.18" fill="rgb(255,120,120)"/>
<rect x="497.7" y="209.28" width="14.2" height="14.18" fill="rgb(255,125,125)"/>
<rect x="511.5" y="209.28" width="14.2" height="14.18" fill="rgb(255,110,110)"/>
<rect x="525.3" y="209.28" width="14.2" height="14.18" fill="rgb(255,125,125)"/>
<rect x="539.1" y="209.28" width="14.2" height="14.18" fill="rgb(255,125,125)"/>
<rect x="552.9" y="209.28" width="14.2" height="14.18" fill="rgb(255,120,120)"/>
<rect x="566.7" y="209.28" width="14.2" height="14.18" fill="rgb(255,120,120)"/>
<rect x="414.9" y="223.05" width="14.2" height="14.18" fill="rgb(255,205,205)"/>
<rect x="428.7" y="223.05" width="14.2" height="14.18" fill="rgb(255,205,205)"/>
<rect x="442.5" y="223.05" width="14.2" height="14.18" fill="rgb(255,200,200)"/>
<rect x="456.3" y="223.05" width="14.2" height="14.18" fill="rgb(255,200,200)"/>
<rect x="470.1" y="223.05" width="14.2" height="14.18" fill="rgb(255,200,200)"/>
<rect x="483.9" y="223.05" width="14.2" height="14.18" fill="rgb(255,210,210)"/>
<rect x="497.7" y="223.05" width="14.2" height="14.18" fill="rgb(255,185,185)"/>
<rect x="511.5" y="223.05" width="14.2" height="14.18" fill="rgb(255,200,200)"/>
<rect x="525.3" y="223.05" width="14.2" height="14.18" fill="rgb(255,210,210)"/>
<rect x="539.1" y="223.05" width="14.2" height="14.18" fill="rgb(255,180,180)"/>
<rect x="552.9" y="223.05" width="14.2" height="14.18" fill="rgb(255,210,210)"/>
<rect x="566.7" y="223.05" width="14.2" height="14.18" fill="rgb(255,215,215)"/>
<rect x="414.9" y="236.82" width="14.2" height="14.18" fill="rgb(255,195,195)"/>
<rect x="428.7" y="236.82" width="14.2" height="14.18" fill="rgb(255,205,205)"/>
<rect x="442.5" y="236.82" width="14.2" height="14.18" fill="rgb(255,180,180)"/>
<rect x="456.3" y="236.82" width="14.2" height="14.18" fill="rgb(255,185,185)"/>
<rect x="470.1" y="236.82" width="14.2" height="14.18" fill="rgb(255,195,195)"/>
<rect x="483.9" y="236.82" width="14.2" height="14.18" fill="rgb(255,175,175)"/>
<rect x="497.7" y="236.82" width="14.2" height="14.18" fill="rgb(255,180,180)"/>
<rect x="511.5" y="236.82" width="14.2" height="14.18" fill="rgb(255,185,185)"/>
<rect x="525.3" y="236.82" width="14.2" height="14.18" fill="rgb(255,180,180)"/>
<rect x="539.1" y="236.82" width="14.2" height="14.18" fill="rgb(255,180,180)"/>
<rect x="552.9" y="236.82" width="14.2" height="14.18" fill="rgb(255,200,200)"/>
<rect x="566.7" y="236.82" width="14.2" height="14.18" fill="rgb(255,190,190)"/>
<rect x="414.9" y="250.6" width="14.2" height="14.18" fill="rgb(255,235,235)"/>
<rect x="428.7" y="250.6" width="14.2" height="14.18" fill="rgb(255,205,205)"/>
<rect x="442.5" y="250.6" width="14.2" height="14.18" fill="rgb(255,210,210)"/>
<rect x="456.3" y="250.6" width="14.2" height="14.18" fill="rgb(255,205,205)"/>
<rect x="470.1" y="250.6" width="14.2" height="14.18" fill="rgb(255,205,205)"/>
<rect x="483.9" y="250.6" width="14.2" height="14.18" fill="rgb(255,222,222)"/>
<rect x="497.7" y="250.6" width="14.2" height="14.18" fill="rgb(255,235,235)"/>
<rect x="511.5" y="250.6" width="14.2" height="14.18" fill="rgb(255,222,222)"/>
<rect x="525.3" y="250.6" width="14.2" height="14.18" fill="rgb(255,215,215)"/>
<rect x="539.1" y="250.6" width="14.2" height="14.18" fill="rgb(255,228,228)"/>
<rect x="552.9" y="250.6" width="14.2" height="14.18" fill="rgb(255,225,225)"/>
<rect x="566.7" y="250.6" width="14.2" height="14.18" fill="rgb(255,222,222)"/>
<rect x="414.9" y="264.38" width="14.2" height="14.18" fill="rgb(255,185,185)"/>
<rect x="428.7" y="264.38" width="14.2" height="14.18" fill="rgb(255,170,170)"/>
<rect x="442.5" y="264.38" width="14.2" height="14.18" fill="rgb(255,150,150)"/>
<rect x="456.3" y="264.38" width="14.2" height="14.18" fill="rgb(255,135,135)"/>
<rect x="470.1" y="264.38" width="14.2" height="14.18" fill="rgb(255,185,185)"/>
<rect x="483.9" y="264.38" width="14.2" height="14.18" fill="rgb(255,190,190)"/>
<rect x="497.7" y="264.38" width="14.2" height="14.18" fill="rgb(255,175,175)"/>
<rect x="511.5" y="264.38" width="14.2" height="14.18" fill="rgb(255,180,180)"/>
<rect x="525.3" y="264.38" width="14.2" height="14.18" fill="rgb(255,165,165)"/>
<rect x="539.1" y="264.38" width="14.2" height="14.18" fill="rgb(255,165,165)"/>
<rect x="552.9" y="264.38" width="14.2" height="14.18" fill="rgb(255,175,175)"/>
<rect x="566.7" y="264.38" width="14.2" height="14.18" fill="rgb(255,170,170)"/>
<rect x="414.9" y="278.15" width="14.2" height="14.18" fill="rgb(255,195,195)"/>
<rect x="428.7" y="278.15" width="14.2" height="14.18" fill="rgb(255,100,100)"/>
<rect x="442.5" y="278.15" width="14.2" height="14.18" fill="rgb(255,120,120)"/>
<rect x="456.3" y="278.15" width="14.2" height="14.18" fill="rgb(255,125,125)"/>
<rect x="470.1" y="278.15" width="14.2" height="14.18" fill="rgb(255,115,115)"/>
<rect x="483.9" y="278.15" width="14.2" height="14.18" fill="rgb(255,195,195)"/>
<rect x="497.7" y="278.15" width="14.2" height="14.18" fill="rgb(255,125,125)"/>
<rect x="511.5" y="278.15" width="14.2" height="14.18" fill="rgb(255,120,120)"/>
<rect x="525.3" y="278.15" width="14.2" height="14.18" fill="rgb(255,120,120)"/>
<rect x="539.1" y="278.15" width="14.2" height="14.18" fill="rgb(255,130,130)"/>
<rect x="552.9" y="278.15" width="14.2" height="14.18" fill="rgb(255,130,130)"/>
<rect x="566.7" y="278.15" width="14.2" height="14.18" fill="rgb(255,135,135)"/>
<rect x="414.9" y="291.93" width="14.2" height="14.18" fill="rgb(255,210,210)"/>
<rect x="428.7" y="291.93" width="14.2" height="14.18" fill="rgb(255,180,180)"/>
<rect x="442.5" y="291.93" width="14.2" height="14.18" fill="rgb(255,220,220)"/>
<rect x="456.3" y="291.93" width="14.2" height="14.18" fill="rgb(255,222,222)"/>
<rect x="470.1" y="291.93" width="14.2" height="14.18" fill="rgb(255,205,205)"/>
<rect x="483.9" y="291.93" width="14.2" height="14.18" fill="rgb(255,220,220)"/>
<rect x="497.7" y="291.93" width="14.2" height="14.18" fill="rgb(255,220,220)"/>
<rect x="511.5" y="291.93" width="14.2" height="14.18" fill="rgb(255,180,180)"/>
<rect x="525.3" y="291.93" width="14.2" height="14.18" fill="rgb(255,195,195)"/>
<rect x="539.1" y="291.93" width="14.2" height="14.18" fill="rgb(255,215,215)"/>
<rect x="552.9" y="291.93" width="14.2" height="14.18" fill="rgb(255,212,212)"/>
<rect x="566.7" y="291.93" width="14.2" height="14.18" fill="rgb(255,212,212)"/>
<rect x="414.9" y="305.7" width="14.2" height="14.18" fill="rgb(255,205,205)"/>
<rect x="428.7" y="305.7" width="14.2" height="14.18" fill="rgb(255,205,205)"/>
<rect x="442.5" y="305.7" width="14.2" height="14.18" fill="rgb(255,195,195)"/>
<rect x="456.3" y="305.7" width="14.2" height="14.18" fill="rgb(255,210,210)"/>
<rect x="470.1" y="305.7" width="14.2" height="14.18" fill="rgb(255,200,200)"/>
<rect x="483.9" y="305.7" width="14.2" height="14.18" fill="rgb(255,205,205)"/>
<rect x="497.7" y="305.7" width="14.2" height="14.18" fill="rgb(255,200,200)"/>
<rect x="511.5" y="305.7" width="14.2" height="14.18" fill="rgb(255,200,200)"/>
<rect x="525.3" y="305.7" width="14.2" height="14.18" fill="rgb(255,205,205)"/>
<rect x="539.1" y="305.7" width="14.2" height="14.18" fill="rgb(255,195,195)"/>
<rect x="552.9" y="305.7" width="14.2" height="14.18" fill="rgb(255,225,225)"/>
<rect x="566.7" y="305.7" width="14.2" height="14.18" fill="rgb(255,215,215)"/>
<rect x="414.9" y="319.48" width="14.2" height="14.18" fill="rgb(255,150,150)"/>
<rect x="428.7" y="319.48" width="14.2" height="14.18" fill="rgb(255,120,120)"/>
<rect x="442.5" y="319.48" width="14.2" height="14.18" fill="rgb(255,125,125)"/>
<rect x="456.3" y="319.48" width="14.2" height="14.18" fill="rgb(255,125,125)"/>
<rect x="470.1" y="319.48" width="14.2" height="14.18" fill="rgb(255,185,185)"/>
<rect x="483.9" y="319.48" width="14.2" height="14.18" fill="rgb(255,125,125)"/>
<rect x="497.7" y="319.48" width="14.2" height="14.18" fill="rgb(255,125,125)"/>
<rect x="511.5" y="319.48" width="14.2" height="14.18" fill="rgb(255,145,145)"/>
<rect x="525.3" y="319.48" width="14.2" height="14.18" fill="rgb(255,135,135)"/>
<rect x="539.1" y="319.48" width="14.2" height="14.18" fill="rgb(255,135,135)"/>
<rect x="552.9" y="319.48" width="14.2" height="14.18" fill="rgb(255,135,135)"/>
<rect x="566.7" y="319.48" width="14.2" height="14.18" fill="rgb(255,135,135)"/>
<rect x="414.9" y="333.25" width="14.2" height="14.18" fill="rgb(255,155,155)"/>
<rect x="428.7" y="333.25" width="14.2" height="14.18" fill="rgb(255,155,155)"/>
<rect x="442.5" y="333.25" width="14.2" height="14.18" fill="rgb(255,135,135)"/>
<rect x="456.3" y="333.25" width="14.2" height="14.18" fill="rgb(255,145,145)"/>
<rect x="470.1" y="333.25" width="14.2" height="14.18" fill="rgb(255,140,140)"/>
<rect x="483.9" y="333.25" width="14.2" height="14.18" fill="rgb(255,140,140)"/>
<rect x="497.7" y="333.25" width="14.2" height="14.18" fill="rgb(255,160,160)"/>
<rect x="511.5" y="333.25" width="14.2" height="14.18" fill="rgb(255,145,145)"/>
<rect x="525.3" y="333.25" width="14.2" height="14.18" fill="rgb(255,145,145)"/>
<rect x="539.1" y="333.25" width="14.2" height="14.18" fill="rgb(255,140,140)"/>
<rect x="552.9" y="333.25" width="14.2" height="14.18" fill="rgb(255,160,160)"/>
<rect x="566.7" y="333.25" width="14.2" height="14.18" fill="rgb(255,145,145)"/>
<rect x="414.9" y="347.03" width="14.2" height="14.18" fill="rgb(255,95,95)"/>
<rect x="428.7" y="347.03" width="14.2" height="14.18" fill="rgb(255,30,30)"/>
<rect x="442.5" y="347.03" width="14.2" height="14.18" fill="rgb(255,25,25)"/>
<rect x="456.3" y="347.03" width="14.2" height="14.18" fill="rgb(255,30,30)"/>
<rect x="470.1" y="347.03" width="14.2" height="14.18" fill="rgb(255,95,95)"/>
<rect x="483.9" y="347.03" width="14.2" height="14.18" fill="rgb(255,60,60)"/>
<rect x="497.7" y="347.03" width="14.2" height="14.18" fill="rgb(255,45,45)"/>
<rect x="511.5" y="347.03" width="14.2" height="14.18" fill="rgb(255,40,40)"/>
<rect x="525.3" y="347.03" width="14.2" height="14.18" fill="rgb(255,50,50)"/>
<rect x="539.1" y="347.03" width="14.2" height="14.18" fill="rgb(255,60,60)"/>
<rect x="552.9" y="347.03" width="14.2" height="14.18" fill="rgb(255,50,50)"/>
<rect x="566.7" y="347.03" width="14.2" height="14.18" fill="rgb(255,55,55)"/>
<rect x="414.9" y="360.8" width="14.2" height="14.18" fill="rgb(255,185,185)"/>
<rect x="428.7" y="360.8" width="14.2" height="14.18" fill="rgb(255,115,115)"/>
<rect x="442.5" y="360.8" width="14.2" height="14.18" fill="rgb(255,110,110)"/>
<rect x="456.3" y="360.8" width="14.2" height="14.18" fill="rgb(255,95,95)"/>
<rect x="470.1" y="360.8" width="14.2" height="14.18" fill="rgb(255,135,135)"/>
<rect x="483.9" y="360.8" width="14.2" height="14.18" fill="rgb(255,180,180)"/>
<rect x="497.7" y="360.8" width="14.2" height="14.18" fill="rgb(255,120,120)"/>
<rect x="511.5" y="360.8" width="14.2" height="14.18" fill="rgb(255,115,115)"/>
<rect x="525.3" y="360.8" width="14.2" height="14.18" fill="rgb(255,130,130)"/>
<rect x="539.1" y="360.8" width="14.2" height="14.18" fill="rgb(255,140,140)"/>
<rect x="552.9" y="360.8" width="14.2" height="14.18" fill="rgb(255,135,135)"/>
<rect x="566.7" y="360.8" width="14.2" height="14.18" fill="rgb(255,140,140)"/>
<rect x="414.9" y="374.58" width="14.2" height="14.18" fill="rgb(255,175,175)"/>
<rect x="428.7" y="374.58" width="14.2" height="14.18" fill="rgb(255,105,105)"/>
<rect x="442.5" y="374.58" width="14.2" height="14.18" fill="rgb(255,140,140)"/>
<rect x="456.3" y="374.58" width="14.2" height="14.18" fill="rgb(255,120,120)"/>
<rect x="470.1" y="374.58" width="14.2" height="14.18" fill="rgb(255,155,155)"/>
<rect x="483.9" y="374.58" width="14.2" height="14.18" fill="rgb(255,155,155)"/>
<rect x="497.7" y="374.58" width="14.2" height="14.18" fill="rgb(255,125,125)"/>
<rect x="511.5" y="374.58" width="14.2" height="14.18" fill="rgb(255,120,120)"/>
<rect x="525.3" y="374.58" width="14.2" height="14.18" fill="rgb(255,125,125)"/>
<rect x="539.1" y="374.58" width="14.2" height="14.18" fill="rgb(255,145,145)"/>
<rect x="552.9" y="374.58" width="14.2" height="14.18" fill="rgb(255,145,145)"/>
<rect x="566.7" y="374.58" width="14.2" height="14.18" fill="rgb(255,145,145)"/>
<rect x="414.9" y="388.35" width="14.2" height="14.18" fill="rgb(255,190,190)"/>
<rect x="428.7" y="388.35" width="14.2" height="14.18" fill="rgb(255,120,120)"/>
<rect x="442.5" y="388.35" width="14.2" height="14.18" fill="rgb(255,115,115)"/>
<rect x="456.3" y="388.35" width="14.2" height="14.18" fill="rgb(255,140,140)"/>
<rect x="470.1" y="388.35" width="14.2" height="14.18" fill="rgb(255,160,160)"/>
<rect x="483.9" y="388.35" width="14.2" height="14.18" fill="rgb(255,160,160)"/>
<rect x="497.7" y="388.35" width="14.2" height="14.18" fill="rgb(255,155,155)"/>
<rect x="511.5" y="388.35" width="14.2" height="14.18" fill="rgb(255,125,125)"/>
<rect x="525.3" y="388.35" width="14.2" height="14.18" fill="rgb(255,140,140)"/>
<rect x="539.1" y="388.35" width="14.2" height="14.18" fill="rgb(255,150,150)"/>
<rect x="552.9" y="388.35" width="14.2" height="14.18" fill="rgb(255,155,155)"/>
<rect x="566.7" y="388.35" width="14.2" height="14.18" fill="rgb(255,150,150)"/>
<rect x="414.9" y="402.12" width="14.2" height="14.18" fill="rgb(255,220,220)"/>
<rect x="428.7" y="402.12" width="14.2" height="14.18" fill="rgb(255,215,215)"/>
<rect x="442.5" y="402.12" width="14.2" height="14.18" fill="rgb(255,200,200)"/>
<rect x="456.3" y="402.12" width="14.2" height="14.18" fill="rgb(255,205,205)"/>
<rect x="470.1" y="402.12" width="14.2" height="14.18" fill="rgb(255,210,210)"/>
<rect x="483.9" y="402.12" width="14.2" height="14.18" fill="rgb(255,225,225)"/>
<rect x="497.7" y="402.12" width="14.2" height="14.18" fill="rgb(255,205,205)"/>
<rect x="511.5" y="402.12" width="14.2" height="14.18" fill="rgb(255,190,190)"/>
<rect x="525.3" y="402.12" width="14.2" height="14.18" fill="rgb(255,205,205)"/>
<rect x="539.1" y="402.12" width="14.2" height="14.18" fill="rgb(255,210,210)"/>
<rect x="552.9" y="402.12" width="14.2" height="14.18" fill="rgb(255,200,200)"/>
<rect x="566.7" y="402.12" width="14.2" height="14.18" fill="rgb(255,210,210)"/>
<rect x="414.9" y="415.9" width="14.2" height="14.18" fill="rgb(255,150,150)"/>
<rect x="428.7" y="415.9" width="14.2" height="14.18" fill="rgb(255,140,140)"/>
<rect x="442.5" y="415.9" width="14.2" height="14.18" fill="rgb(255,145,145)"/>
<rect x="456.3" y="415.9" width="14.2" height="14.18" fill="rgb(255,145,145)"/>
<rect x="470.1" y="415.9" width="14.2" height="14.18" fill="rgb(255,130,130)"/>
<rect x="483.9" y="415.9" width="14.2" height="14.18" fill="rgb(255,145,145)"/>
<rect x="497.7" y="415.9" width="14.2" height="14.18" fill="rgb(255,110,110)"/>
<rect x="511.5" y="415.9" width="14.2" height="14.18" fill="rgb(255,90,90)"/>
<rect x="525.3" y="415.9" width="14.2" height="14.18" fill="rgb(255,140,140)"/>
<rect x="539.1" y="415.9" width="14.2" height="14.18" fill="rgb(255,130,130)"/>
<rect x="552.9" y="415.9" width="14.2" height="14.18" fill="rgb(255,125,125)"/>
<rect x="566.7" y="415.9" width="14.2" height="14.18" fill="rgb(255,145,145)"/>
<rect x="414.9" y="429.68" width="14.2" height="14.18" fill="rgb(255,145,145)"/>
<rect x="428.7" y="429.68" width="14.2" height="14.18" fill="rgb(255,90,90)"/>
<rect x="442.5" y="429.68" width="14.2" height="14.18" fill="rgb(255,145,145)"/>
<rect x="456.3" y="429.68" width="14.2" height="14.18" fill="rgb(255,120,120)"/>
<rect x="470.1" y="429.68" width="14.2" height="14.18" fill="rgb(255,125,125)"/>
<rect x="483.9" y="429.68" width="14.2" height="14.18" fill="rgb(255,125,125)"/>
<rect x="497.7" y="429.68" width="14.2" height="14.18" fill="rgb(255,200,200)"/>
<rect x="511.5" y="429.68" width="14.2" height="14.18" fill="rgb(255,145,145)"/>
<rect x="525.3" y="429.68" width="14.2" height="14.18" fill="rgb(255,150,150)"/>
<rect x="539.1" y="429.68" width="14.2" height="14.18" fill="rgb(255,130,130)"/>
<rect x="552.9" y="429.68" width="14.2" height="14.18" fill="rgb(255,125,125)"/>
<rect x="566.7" y="429.68" width="14.2" height="14.18" fill="rgb(255,145,145)"/>
<rect x="414.9" y="443.45" width="14.2" height="14.18" fill="rgb(255,235,235)"/>
<rect x="428.7" y="443.45" width="14.2" height="14.18" fill="rgb(255,250,250)"/>
<rect x="442.5" y="443.45" width="14.2" height="14.18" fill="rgb(255,235,235)"/>
<rect x="456.3" y="443.45" width="14.2" height="14.18" fill="rgb(255,235,235)"/>
<rect x="470.1" y="443.45" width="14.2" height="14.18" fill="rgb(255,235,235)"/>
<rect x="483.9" y="443.45" width="14.2" height="14.18" fill="rgb(255,225,225)"/>
<rect x="497.7" y="443.45" width="14.2" height="14.18" fill="rgb(255,235,235)"/>
<rect x="511.5" y="443.45" width="14.2" height="14.18" fill="rgb(255,235,235)"/>
<rect x="525.3" y="443.45" width="14.2" height="14.18" fill="rgb(255,235,235)"/>
<rect x="539.1" y="443.45" width="14.2" height="14.18" fill="rgb(255,240,240)"/>
<rect x="552.9" y="443.45" width="14.2" height="14.18" fill="rgb(255,235,235)"/>
<rect x="566.7" y="443.45" width="14.2" height="14.18" fill="rgb(255,235,235)"/>
<rect x="414.9" y="457.23" width="14.2" height="14.18" fill="rgb(255,215,215)"/>
<rect x="428.7" y="457.23" width="14.2" height="14.18" fill="rgb(255,210,210)"/>
<rect x="442.5" y="457.23" width="14.2" height="14.18" fill="rgb(255,205,205)"/>
<rect x="456.3" y="457.23" width="14.2" height="14.18" fill="rgb(255,175,175)"/>
<rect x="470.1" y="457.23" width="14.2" height="14.18" fill="rgb(255,205,205)"/>
<rect x="483.9" y="457.23" width="14.2" height="14.18" fill="rgb(255,210,210)"/>
<rect x="497.7" y="457.23" width="14.2" height="14.18" fill="rgb(255,230,230)"/>
<rect x="511.5" y="457.23" width="14.2" height="14.18" fill="rgb(255,210,210)"/>
<rect x="525.3" y="457.23" width="14.2" height="14.18" fill="rgb(255,200,200)"/>
<rect x="539.1" y="457.23" width="14.2" height="14.18" fill="rgb(255,185,185)"/>
<rect x="552.9" y="457.23" width="14.2" height="14.18" fill="rgb(255,220,220)"/>
<rect x="566.7" y="457.23" width="14.2" height="14.18" fill="rgb(255,215,215)"/>
<rect x="414.9" y="471" width="14.2" height="14.18" fill="rgb(255,145,145)"/>
<rect x="428.7" y="471" width="14.2" height="14.18" fill="rgb(255,110,110)"/>
<rect x="442.5" y="471" width="14.2" height="14.18" fill="rgb(255,110,110)"/>
<rect x="456.3" y="471" width="14.2" height="14.18" fill="rgb(255,105,105)"/>
<rect x="470.1" y="471" width="14.2" height="14.18" fill="rgb(255,130,130)"/>
<rect x="483.9" y="471" width="14.2" height="14.18" fill="rgb(255,125,125)"/>
<rect x="497.7" y="471" width="14.2" height="14.18" fill="rgb(255,115,115)"/>
<rect x="511.5" y="471" width="14.2" height="14.18" fill="rgb(255,125,125)"/>
<rect x="525.3" y="471" width="14.2" height="14.18" fill="rgb(255,130,130)"/>
<rect x="539.1" y="471" width="14.2" height="14.18" fill="rgb(255,65,65)"/>
<rect x="552.9" y="471" width="14.2" height="14.18" fill="rgb(255,160,160)"/>
<rect x="566.7" y="471" width="14.2" height="14.18" fill="rgb(255,120,120)"/>
<rect x="414.9" y="484.78" width="14.2" height="14.18" fill="rgb(255,165,165)"/>
<rect x="428.7" y="484.78" width="14.2" height="14.18" fill="rgb(255,165,165)"/>
<rect x="442.5" y="484.78" width="14.2" height="14.18" fill="rgb(255,165,165)"/>
<rect x="456.3" y="484.78" width="14.2" height="14.18" fill="rgb(255,165,165)"/>
<rect x="470.1" y="484.78" width="14.2" height="14.18" fill="rgb(255,120,120)"/>
<rect x="483.9" y="484.78" width="14.2" height="14.18" fill="rgb(255,140,140)"/>
<rect x="497.7" y="484.78" width="14.2" height="14.18" fill="rgb(255,105,105)"/>
<rect x="511.5" y="484.78" width="14.2" height="14.18" fill="rgb(255,175,175)"/>
<rect x="525.3" y="484.78" width="14.2" height="14.18" fill="rgb(255,140,140)"/>
<rect x="539.1" y="484.78" width="14.2" height="14.18" fill="rgb(255,135,135)"/>
<rect x="552.9" y="484.78" width="14.2" height="14.18" fill="rgb(255,160,160)"/>
<rect x="566.7" y="484.78" width="14.2" height="14.18" fill="rgb(255,155,155)"/>
<rect x="414.9" y="498.55" width="14.2" height="14.18" fill="rgb(255,40,40)"/>
<rect x="428.7" y="498.55" width="14.2" height="14.18" fill="rgb(255,100,100)"/>
<rect x="442.5" y="498.55" width="14.2" height="14.18" fill="rgb(255,70,70)"/>
<rect x="456.3" y="498.55" width="14.2" height="14.18" fill="rgb(255,25,25)"/>
<rect x="470.1" y="498.55" width="14.2" height="14.18" fill="rgb(255,25,25)"/>
<rect x="483.9" y="498.55" width="14.2" height="14.18" fill="rgb(255,25,25)"/>
<rect x="497.7" y="498.55" width="14.2" height="14.18" fill="rgb(255,0,0)"/>
<rect x="511.5" y="498.55" width="14.2" height="14.18" fill="rgb(255,80,80)"/>
<rect x="525.3" y="498.55" width="14.2" height="14.18" fill="rgb(255,45,45)"/>
<rect x="539.1" y="498.55" width="14.2" height="14.18" fill="rgb(255,45,45)"/>
<rect x="552.9" y="498.55" width="14.2" height="14.18" fill="rgb(255,40,40)"/>
<rect x="566.7" y="498.55" width="14.2" height="14.18" fill="rgb(255,45,45)"/>
<rect x="414.9" y="512.33" width="14.2" height="14.18" fill="rgb(255,85,85)"/>
<rect x="428.7" y="512.33" width="14.2" height="14.18" fill="rgb(255,65,65)"/>
<rect x="442.5" y="512.33" width="14.2" height="14.18" fill="rgb(255,60,60)"/>
<rect x="456.3" y="512.33" width="14.2" height="14.18" fill="rgb(255,65,65)"/>
<rect x="470.1" y="512.33" width="14.2" height="14.18" fill="rgb(255,90,90)"/>
<rect x="483.9" y="512.33" width="14.2" height="14.18" fill="rgb(255,85,85)"/>
<rect x="497.7" y="512.33" width="14.2" height="14.18" fill="rgb(255,85,85)"/>
<rect x="511.5" y="512.33" width="14.2" height="14.18" fill="rgb(255,80,80)"/>
<rect x="525.3" y="512.33" width="14.2" height="14.18" fill="rgb(255,75,75)"/>
<rect x="539.1" y="512.33" width="14.2" height="14.18" fill="rgb(255,75,75)"/>
<rect x="552.9" y="512.33" width="14.2" height="14.18" fill="rgb(255,80,80)"/>
<rect x="566.7" y="512.33" width="14.2" height="14.18" fill="rgb(255,80,80)"/>
<rect x="414.9" y="526.1" width="14.2" height="14.18" fill="rgb(255,215,215)"/>
<rect x="428.7" y="526.1" width="14.2" height="14.18" fill="rgb(255,170,170)"/>
<rect x="442.5" y="526.1" width="14.2" height="14.18" fill="rgb(255,195,195)"/>
<rect x="456.3" y="526.1" width="14.2" height="14.18" fill="rgb(255,190,190)"/>
<rect x="470.1" y="526.1" width="14.2" height="14.18" fill="rgb(255,205,205)"/>
<rect x="483.9" y="526.1" width="14.2" height="14.18" fill="rgb(255,210,210)"/>
<rect x="497.7" y="526.1" width="14.2" height="14.18" fill="rgb(255,210,210)"/>
<rect x="511.5" y="526.1" width="14.2" height="14.18" fill="rgb(255,195,195)"/>
<rect x="525.3" y="526.1" width="14.2" height="14.18" fill="rgb(255,200,200)"/>
<rect x="539.1" y="526.1" width="14.2" height="14.18" fill="rgb(255,200,200)"/>
<rect x="552.9" y="526.1" width="14.2" height="14.18" fill="rgb(255,200,200)"/>
<rect x="566.7" y="526.1" width="14.2" height="14.18" fill="rgb(255,200,200)"/>
<rect x="414.9" y="539.88" width="14.2" height="14.18" fill="rgb(255,215,215)"/>
<rect x="428.7" y="539.88" width="14.2" height="14.18" fill="rgb(255,225,225)"/>
<rect x="442.5" y="539.88" width="14.2" height="14.18" fill="rgb(255,225,225)"/>
<rect x="456.3" y="539.88" width="14.2" height="14.18" fill="rgb(255,185,185)"/>
<rect x="470.1" y="539.88" width="14.2" height="14.18" fill="rgb(255,225,225)"/>
<rect x="483.9" y="539.88" width="14.2" height="14.18" fill="rgb(255,190,190)"/>
<rect x="497.7" y="539.88" width="14.2" height="14.18" fill="rgb(255,230,230)"/>
<rect x="511.5" y="539.88" width="14.2" height="14.18" fill="rgb(255,215,215)"/>
<rect x="525.3" y="539.88" width="14.2" height="14.18" fill="rgb(255,215,215)"/>
<rect x="539.1" y="539.88" width="14.2" height="14.18" fill="rgb(255,215,215)"/>
<rect x="552.9" y="539.88" width="14.2" height="14.18" fill="rgb(255,215,215)"/>
<rect x="566.7" y="539.88" width="14.2" height="14.18" fill="rgb(255,210,210)"/>
</g>
<rect x="240.9" y="84.8" width="3.8" height="469.35" fill="#fff" />
<rect x="410.3" y="84.8" width="4.6" height="469.35" fill="#fff" />
<rect x="74.6" y="85" width="506" height="468.3" fill="none" stroke="#000" stroke-width="1.6"/>
<text x="64.5" y="96.7" text-anchor="end" style="font-size:16px;font-weight:bold">HOXA1</text>
<text x="64.5" y="110.48" text-anchor="end" style="font-size:16px;font-weight:bold">HOXA2</text>
<text x="64.5" y="124.25" text-anchor="end" style="font-size:16px;font-weight:bold">HOXA4</text>
<text x="64.5" y="138.03" text-anchor="end" style="font-size:16px;font-weight:bold">HOXA5</text>
<text x="64.5" y="151.8" text-anchor="end" style="font-size:16px;font-weight:bold">HOXA6</text>
<text x="64.5" y="165.58" text-anchor="end" style="font-size:16px;font-weight:bold">HOXA7</text>
<text x="64.5" y="179.35" text-anchor="end" style="font-size:16px;font-weight:bold">HOXA9</text>
<text x="64.5" y="193.12" text-anchor="end" style="font-size:16px;font-weight:bold">HOXA10</text>
<text x="64.5" y="206.9" text-anchor="end" style="font-size:16px;font-weight:bold">HOXA11</text>
<text x="64.5" y="220.68" text-anchor="end" style="font-size:16px;font-weight:bold">HOXB2</text>
<text x="64.5" y="234.45" text-anchor="end" style="font-size:16px;font-weight:bold">HOXB3</text>
<text x="64.5" y="248.22" text-anchor="end" style="font-size:16px;font-weight:bold">HOXB4</text>
<text x="64.5" y="262" text-anchor="end" style="font-size:16px;font-weight:bold">HOXB5</text>
<text x="64.5" y="275.77" text-anchor="end" style="font-size:16px;font-weight:bold">HOXB6</text>
<text x="64.5" y="289.55" text-anchor="end" style="font-size:16px;font-weight:bold">HOXB7</text>
<text x="64.5" y="303.32" text-anchor="end" style="font-size:16px;font-weight:bold">HOXB9</text>
<text x="64.5" y="317.1" text-anchor="end" style="font-size:16px;font-weight:bold">HOXB13</text>
<text x="64.5" y="330.88" text-anchor="end" style="font-size:16px;font-weight:bold">HOXC4</text>
<text x="64.5" y="344.65" text-anchor="end" style="font-size:16px;font-weight:bold">HOXC5</text>
<text x="64.5" y="358.43" text-anchor="end" style="font-size:16px;font-weight:bold">HOXC6</text>
<text x="64.5" y="372.2" text-anchor="end" style="font-size:16px;font-weight:bold">HOXC8</text>
<text x="64.5" y="385.98" text-anchor="end" style="font-size:16px;font-weight:bold">HOXC9</text>
<text x="64.5" y="399.75" text-anchor="end" style="font-size:16px;font-weight:bold">HOXC10</text>
<text x="64.5" y="413.52" text-anchor="end" style="font-size:16px;font-weight:bold">HOXC11</text>
<text x="64.5" y="427.3" text-anchor="end" style="font-size:16px;font-weight:bold">HOXC13</text>
<text x="64.5" y="441.07" text-anchor="end" style="font-size:16px;font-weight:bold">HOXD1</text>
<text x="64.5" y="454.85" text-anchor="end" style="font-size:16px;font-weight:bold">HOXD3</text>
<text x="64.5" y="468.62" text-anchor="end" style="font-size:16px;font-weight:bold">HOXD4</text>
<text x="64.5" y="482.4" text-anchor="end" style="font-size:16px;font-weight:bold">HOXD8</text>
<text x="64.5" y="496.18" text-anchor="end" style="font-size:16px;font-weight:bold">HOXD9</text>
<text x="64.5" y="509.95" text-anchor="end" style="font-size:16px;font-weight:bold">HOXD10</text>
<text x="64.5" y="523.73" text-anchor="end" style="font-size:16px;font-weight:bold">HOXD11</text>
<text x="64.5" y="537.5" text-anchor="end" style="font-size:16px;font-weight:bold">HOXD12</text>
<text x="64.5" y="551.27" text-anchor="end" style="font-size:16px;font-weight:bold">HOXD13</text>
<text x="88" y="76.4" transform="rotate(-90 88 76.4)" style="font-size:16px;font-weight:bold">N1</text>
<text x="101.8" y="76.4" transform="rotate(-90 101.8 76.4)" style="font-size:16px;font-weight:bold">N2</text>
<text x="115.6" y="76.4" transform="rotate(-90 115.6 76.4)" style="font-size:16px;font-weight:bold">N3</text>
<text x="129.4" y="76.4" transform="rotate(-90 129.4 76.4)" style="font-size:16px;font-weight:bold">N4</text>
<text x="143.2" y="76.4" transform="rotate(-90 143.2 76.4)" style="font-size:16px;font-weight:bold">N5</text>
<text x="157" y="76.4" transform="rotate(-90 157 76.4)" style="font-size:16px;font-weight:bold">N6</text>
<text x="170.8" y="76.4" transform="rotate(-90 170.8 76.4)" style="font-size:16px;font-weight:bold">N7</text>
<text x="184.6" y="76.4" transform="rotate(-90 184.6 76.4)" style="font-size:16px;font-weight:bold">N8</text>
<text x="198.4" y="76.4" transform="rotate(-90 198.4 76.4)" style="font-size:16px;font-weight:bold">N9</text>
<text x="212.2" y="76.4" transform="rotate(-90 212.2 76.4)" style="font-size:16px;font-weight:bold">N10</text>
<text x="226" y="76.4" transform="rotate(-90 226 76.4)" style="font-size:16px;font-weight:bold">N11</text>
<text x="239.8" y="76.4" transform="rotate(-90 239.8 76.4)" style="font-size:16px;font-weight:bold">N12</text>
<text x="257.4" y="76.4" transform="rotate(-90 257.4 76.4)" style="font-size:16px;font-weight:bold">PCA1</text>
<text x="271.2" y="76.4" transform="rotate(-90 271.2 76.4)" style="font-size:16px;font-weight:bold">PCA2</text>
<text x="285" y="76.4" transform="rotate(-90 285 76.4)" style="font-size:16px;font-weight:bold">PCA3</text>
<text x="298.8" y="76.4" transform="rotate(-90 298.8 76.4)" style="font-size:16px;font-weight:bold">PCA4</text>
<text x="312.6" y="76.4" transform="rotate(-90 312.6 76.4)" style="font-size:16px;font-weight:bold">PCA5</text>
<text x="326.4" y="76.4" transform="rotate(-90 326.4 76.4)" style="font-size:16px;font-weight:bold">PCA6</text>
<text x="340.2" y="76.4" transform="rotate(-90 340.2 76.4)" style="font-size:16px;font-weight:bold">PCA7</text>
<text x="354" y="76.4" transform="rotate(-90 354 76.4)" style="font-size:16px;font-weight:bold">PCA8</text>
<text x="367.8" y="76.4" transform="rotate(-90 367.8 76.4)" style="font-size:16px;font-weight:bold">PCA9</text>
<text x="381.6" y="76.4" transform="rotate(-90 381.6 76.4)" style="font-size:16px;font-weight:bold">PCA10</text>
<text x="395.4" y="76.4" transform="rotate(-90 395.4 76.4)" style="font-size:16px;font-weight:bold">PCA11</text>
<text x="409.2" y="76.4" transform="rotate(-90 409.2 76.4)" style="font-size:16px;font-weight:bold">PCA12</text>
<text x="427.6" y="76.4" transform="rotate(-90 427.6 76.4)" style="font-size:16px;font-weight:bold">LM1</text>
<text x="441.4" y="76.4" transform="rotate(-90 441.4 76.4)" style="font-size:16px;font-weight:bold">LM2</text>
<text x="455.2" y="76.4" transform="rotate(-90 455.2 76.4)" style="font-size:16px;font-weight:bold">LM3</text>
<text x="469" y="76.4" transform="rotate(-90 469 76.4)" style="font-size:16px;font-weight:bold">LM4</text>
<text x="482.8" y="76.4" transform="rotate(-90 482.8 76.4)" style="font-size:16px;font-weight:bold">LM5</text>
<text x="496.6" y="76.4" transform="rotate(-90 496.6 76.4)" style="font-size:16px;font-weight:bold">LM6</text>
<text x="510.4" y="76.4" transform="rotate(-90 510.4 76.4)" style="font-size:16px;font-weight:bold">LM7</text>
<text x="524.2" y="76.4" transform="rotate(-90 524.2 76.4)" style="font-size:16px;font-weight:bold">LM8</text>
<text x="538" y="76.4" transform="rotate(-90 538 76.4)" style="font-size:16px;font-weight:bold">LM9</text>
<text x="551.8" y="76.4" transform="rotate(-90 551.8 76.4)" style="font-size:16px;font-weight:bold">LM10</text>
<text x="565.6" y="76.4" transform="rotate(-90 565.6 76.4)" style="font-size:16px;font-weight:bold">LM11</text>
<text x="579.4" y="76.4" transform="rotate(-90 579.4 76.4)" style="font-size:16px;font-weight:bold">LM12</text>
<defs><linearGradient id="cb" x1="0" y1="0" x2="0" y2="1"><stop offset="0" stop-color="#ff0000"/><stop offset="1" stop-color="#ffffff"/></linearGradient></defs>
<rect x="611.5" y="85" width="32" height="468" fill="url(#cb)" stroke="#000" stroke-width="1.6"/>
<line x1="611.5" y1="107.7" x2="617" y2="107.7" stroke="#000" stroke-width="1.5" />
<line x1="638" y1="107.7" x2="643.5" y2="107.7" stroke="#000" stroke-width="1.5" />
<text x="655.5" y="114.7" textLength="34.5" lengthAdjust="spacingAndGlyphs" style="font-size:19.5px">0.32</text>
<line x1="611.5" y1="152.1" x2="617" y2="152.1" stroke="#000" stroke-width="1.5" />
<line x1="638" y1="152.1" x2="643.5" y2="152.1" stroke="#000" stroke-width="1.5" />
<text x="655.5" y="159.1" textLength="34.5" lengthAdjust="spacingAndGlyphs" style="font-size:19.5px">0.30</text>
<line x1="611.5" y1="196.5" x2="617" y2="196.5" stroke="#000" stroke-width="1.5" />
<line x1="638" y1="196.5" x2="643.5" y2="196.5" stroke="#000" stroke-width="1.5" />
<text x="655.5" y="203.5" textLength="34.5" lengthAdjust="spacingAndGlyphs" style="font-size:19.5px">0.28</text>
<line x1="611.5" y1="240.9" x2="617" y2="240.9" stroke="#000" stroke-width="1.5" />
<line x1="638" y1="240.9" x2="643.5" y2="240.9" stroke="#000" stroke-width="1.5" />
<text x="655.5" y="247.9" textLength="34.5" lengthAdjust="spacingAndGlyphs" style="font-size:19.5px">0.26</text>
<line x1="611.5" y1="285.3" x2="617" y2="285.3" stroke="#000" stroke-width="1.5" />
<line x1="638" y1="285.3" x2="643.5" y2="285.3" stroke="#000" stroke-width="1.5" />
<text x="655.5" y="292.3" textLength="34.5" lengthAdjust="spacingAndGlyphs" style="font-size:19.5px">0.24</text>
<line x1="611.5" y1="329.7" x2="617" y2="329.7" stroke="#000" stroke-width="1.5" />
<line x1="638" y1="329.7" x2="643.5" y2="329.7" stroke="#000" stroke-width="1.5" />
<text x="655.5" y="336.7" textLength="34.5" lengthAdjust="spacingAndGlyphs" style="font-size:19.5px">0.22</text>
<line x1="611.5" y1="374.1" x2="617" y2="374.1" stroke="#000" stroke-width="1.5" />
<line x1="638" y1="374.1" x2="643.5" y2="374.1" stroke="#000" stroke-width="1.5" />
<text x="655.5" y="381.1" textLength="34.5" lengthAdjust="spacingAndGlyphs" style="font-size:19.5px">0.20</text>
<line x1="611.5" y1="418.5" x2="617" y2="418.5" stroke="#000" stroke-width="1.5" />
<line x1="638" y1="418.5" x2="643.5" y2="418.5" stroke="#000" stroke-width="1.5" />
<text x="655.5" y="425.5" textLength="34.5" lengthAdjust="spacingAndGlyphs" style="font-size:19.5px">0.18</text>
<line x1="611.5" y1="462.9" x2="617" y2="462.9" stroke="#000" stroke-width="1.5" />
<line x1="638" y1="462.9" x2="643.5" y2="462.9" stroke="#000" stroke-width="1.5" />
<text x="655.5" y="469.9" textLength="34.5" lengthAdjust="spacingAndGlyphs" style="font-size:19.5px">0.16</text>
<line x1="611.5" y1="507.3" x2="617" y2="507.3" stroke="#000" stroke-width="1.5" />
<line x1="638" y1="507.3" x2="643.5" y2="507.3" stroke="#000" stroke-width="1.5" />
<text x="655.5" y="514.3" textLength="34.5" lengthAdjust="spacingAndGlyphs" style="font-size:19.5px">0.14</text>
<line x1="611.5" y1="551.7" x2="617" y2="551.7" stroke="#000" stroke-width="1.5" />
<line x1="638" y1="551.7" x2="643.5" y2="551.7" stroke="#000" stroke-width="1.5" />
<text x="655.5" y="558.7" textLength="34.5" lengthAdjust="spacingAndGlyphs" style="font-size:19.5px">0.12</text>
<text x="609" y="71" textLength="37" lengthAdjust="spacingAndGlyphs" style="font-size:19.5px">(FC)</text>
<text x="1.1" y="35.1" style="font-size:47px">A</text>
<text x="752.3" y="34.8" style="font-size:47px">B</text>
<line x1="923.7" y1="133" x2="923.7" y2="473.3" stroke="#000" stroke-width="1.6" />
<line x1="922.9" y1="472.5" x2="1431" y2="472.5" stroke="#000" stroke-width="1.6" />
<line x1="915" y1="134.6" x2="923.7" y2="134.6" stroke="#000" stroke-width="1.6" />
<text x="910.8" y="143.6" text-anchor="end" style="font-size:26px;font-weight:bold">0.35</text>
<line x1="915" y1="211.1" x2="923.7" y2="211.1" stroke="#000" stroke-width="1.6" />
<text x="910.8" y="220.1" text-anchor="end" style="font-size:26px;font-weight:bold">0.30</text>
<line x1="915" y1="288.4" x2="923.7" y2="288.4" stroke="#000" stroke-width="1.6" />
<text x="910.8" y="297.4" text-anchor="end" style="font-size:26px;font-weight:bold">0.25</text>
<line x1="915" y1="365" x2="923.7" y2="365" stroke="#000" stroke-width="1.6" />
<text x="910.8" y="374" text-anchor="end" style="font-size:26px;font-weight:bold">0.20</text>
<line x1="915" y1="441.5" x2="923.7" y2="441.5" stroke="#000" stroke-width="1.6" />
<text x="910.8" y="450.5" text-anchor="end" style="font-size:26px;font-weight:bold">0.15</text>
<line x1="1002.8" y1="472.5" x2="1002.8" y2="481" stroke="#000" stroke-width="1.6" />
<text x="1002.8" y="511" text-anchor="middle" textLength="97" lengthAdjust="spacingAndGlyphs" style="font-size:26px;font-weight:bold">HOXB2</text>
<line x1="1176.9" y1="472.5" x2="1176.9" y2="481" stroke="#000" stroke-width="1.6" />
<text x="1176.9" y="511" text-anchor="middle" textLength="113" lengthAdjust="spacingAndGlyphs" style="font-size:26px;font-weight:bold">HOXD10</text>
<line x1="1350.6" y1="472.5" x2="1350.6" y2="481" stroke="#000" stroke-width="1.6" />
<text x="1350.6" y="511" text-anchor="middle" textLength="111.5" lengthAdjust="spacingAndGlyphs" style="font-size:26px;font-weight:bold">HOXD11</text>
<text x="803.5" y="494.3" transform="rotate(-90 803.5 494.3)" textLength="383" lengthAdjust="spacingAndGlyphs" style="font-size:27.4px;font-weight:bold">Relative mRNA expression of</text>
<text x="843.4" y="520.5" transform="rotate(-90 843.4 520.5)" style="font-size:27.9px;font-weight:bold">target genes (ΔCT<tspan dy="-13.5" style="font-size:21px"> -1</tspan><tspan dx="2.5" dy="19.5" style="font-size:22px">target-GAPDH</tspan><tspan dx="3" dy="-6"> )</tspan></text>
<circle cx="1316" cy="53.4" r="6" fill="#333" fill-opacity="0.9"/>
<rect x="1310.4" y="73.4" width="11.2" height="11.2" fill="#f77" />
<polygon points="1316,100.52 1310,111.32 1322,111.32" fill="#33f" />
<text x="1354.6" y="62.3" style="font-size:28.5px;font-weight:bold">N</text>
<text x="1354.5" y="89" textLength="59" lengthAdjust="spacingAndGlyphs" style="font-size:29.3px;font-weight:bold">PCA</text>
<text x="1354.6" y="116.4" style="font-size:29.3px;font-weight:bold">LM</text>
<circle cx="963" cy="306.8" r="5.1" fill="#262626" fill-opacity="0.8"/>
<circle cx="948" cy="315.6" r="5.1" fill="#262626" fill-opacity="0.8"/>
<circle cx="964.1" cy="374" r="5.1" fill="#262626" fill-opacity="0.8"/>
<circle cx="947.2" cy="379.5" r="5.1" fill="#262626" fill-opacity="0.8"/>
<circle cx="953.8" cy="386.7" r="5.1" fill="#262626" fill-opacity="0.8"/>
<circle cx="947.7" cy="388.7" r="5.1" fill="#262626" fill-opacity="0.8"/>
<circle cx="963.5" cy="389.8" r="5.1" fill="#262626" fill-opacity="0.8"/>
<circle cx="951.8" cy="392.1" r="5.1" fill="#262626" fill-opacity="0.8"/>
<circle cx="959.7" cy="401.7" r="5.1" fill="#262626" fill-opacity="0.8"/>
<circle cx="955.7" cy="403.2" r="5.1" fill="#262626" fill-opacity="0.8"/>
<circle cx="955.7" cy="432.4" r="5.1" fill="#262626" fill-opacity="0.8"/>
<circle cx="955.7" cy="451.3" r="5.1" fill="#262626" fill-opacity="0.8"/>
<circle cx="1129.5" cy="187.9" r="5.1" fill="#262626" fill-opacity="0.8"/>
<circle cx="1129.5" cy="321.2" r="5.1" fill="#262626" fill-opacity="0.8"/>
<circle cx="1122" cy="333.8" r="5.1" fill="#262626" fill-opacity="0.8"/>
<circle cx="1136.9" cy="334.4" r="5.1" fill="#262626" fill-opacity="0.8"/>
<circle cx="1126.4" cy="336.5" r="5.1" fill="#262626" fill-opacity="0.8"/>
<circle cx="1133.4" cy="335.6" r="5.1" fill="#262626" fill-opacity="0.8"/>
<circle cx="1122" cy="343.5" r="5.1" fill="#262626" fill-opacity="0.8"/>
<circle cx="1136.9" cy="352.3" r="5.1" fill="#262626" fill-opacity="0.8"/>
<circle cx="1125.5" cy="355" r="5.1" fill="#262626" fill-opacity="0.8"/>
<circle cx="1133.4" cy="357.6" r="5.1" fill="#262626" fill-opacity="0.8"/>
<circle cx="1136.9" cy="376.9" r="5.1" fill="#262626" fill-opacity="0.8"/>
<circle cx="1122" cy="389.2" r="5.1" fill="#262626" fill-opacity="0.8"/>
<circle cx="1303" cy="256.5" r="5.1" fill="#262626" fill-opacity="0.8"/>
<circle cx="1303" cy="307.9" r="5.1" fill="#262626" fill-opacity="0.8"/>
<circle cx="1295.4" cy="330.3" r="5.1" fill="#262626" fill-opacity="0.8"/>
<circle cx="1310.7" cy="331.4" r="5.1" fill="#262626" fill-opacity="0.8"/>
<circle cx="1295.4" cy="358.3" r="5.1" fill="#262626" fill-opacity="0.8"/>
<circle cx="1299.2" cy="366.7" r="5.1" fill="#262626" fill-opacity="0.8"/>
<circle cx="1310.7" cy="366" r="5.1" fill="#262626" fill-opacity="0.8"/>
<circle cx="1303" cy="372.9" r="5.1" fill="#262626" fill-opacity="0.8"/>
<circle cx="1307.7" cy="369" r="5.1" fill="#262626" fill-opacity="0.8"/>
<circle cx="1303" cy="392.9" r="5.1" fill="#262626" fill-opacity="0.8"/>
<circle cx="1310.7" cy="406.7" r="5.1" fill="#262626" fill-opacity="0.8"/>
<circle cx="1295.4" cy="413.6" r="5.1" fill="#262626" fill-opacity="0.8"/>
<rect x="997.8" y="274.7" width="10.4" height="10.4" fill="#f56565" fill-opacity="0.8"/>
<rect x="1005.5" y="303.2" width="10.4" height="10.4" fill="#f56565" fill-opacity="0.8"/>
<rect x="990.1" y="315.5" width="10.4" height="10.4" fill="#f56565" fill-opacity="0.8"/>
<rect x="990.1" y="332.1" width="10.4" height="10.4" fill="#f56565" fill-opacity="0.8"/>
<rect x="1005.5" y="346.2" width="10.4" height="10.4" fill="#f56565" fill-opacity="0.8"/>
<rect x="990.1" y="350.8" width="10.4" height="10.4" fill="#f56565" fill-opacity="0.8"/>
<rect x="993.2" y="356.2" width="10.4" height="10.4" fill="#f56565" fill-opacity="0.8"/>
<rect x="1005.5" y="357.7" width="10.4" height="10.4" fill="#f56565" fill-opacity="0.8"/>
<rect x="997.8" y="362.3" width="10.4" height="10.4" fill="#f56565" fill-opacity="0.8"/>
<rect x="1001.6" y="363.9" width="10.4" height="10.4" fill="#f56565" fill-opacity="0.8"/>
<rect x="997.8" y="410.8" width="10.4" height="10.4" fill="#f56565" fill-opacity="0.8"/>
<rect x="997.8" y="426.9" width="10.4" height="10.4" fill="#f56565" fill-opacity="0.8"/>
<rect x="1171.6" y="272.4" width="10.4" height="10.4" fill="#f56565" fill-opacity="0.8"/>
<rect x="1163.4" y="298.8" width="10.4" height="10.4" fill="#f56565" fill-opacity="0.8"/>
<rect x="1179.2" y="298.8" width="10.4" height="10.4" fill="#f56565" fill-opacity="0.8"/>
<rect x="1164.2" y="305.8" width="10.4" height="10.4" fill="#f56565" fill-opacity="0.8"/>
<rect x="1179.2" y="304" width="10.4" height="10.4" fill="#f56565" fill-opacity="0.8"/>
<rect x="1163.4" y="313.7" width="10.4" height="10.4" fill="#f56565" fill-opacity="0.8"/>
<rect x="1175.7" y="309.3" width="10.4" height="10.4" fill="#f56565" fill-opacity="0.8"/>
<rect x="1179.2" y="316.3" width="10.4" height="10.4" fill="#f56565" fill-opacity="0.8"/>
<rect x="1167.8" y="320.8" width="10.4" height="10.4" fill="#f56565" fill-opacity="0.8"/>
<rect x="1175.7" y="326.8" width="10.4" height="10.4" fill="#f56565" fill-opacity="0.8"/>
<rect x="1171.6" y="328.6" width="10.4" height="10.4" fill="#f56565" fill-opacity="0.8"/>
<rect x="1165.1" y="323.4" width="10.4" height="10.4" fill="#f56565" fill-opacity="0.8"/>
<rect x="1345.5" y="234" width="10.4" height="10.4" fill="#f56565" fill-opacity="0.8"/>
<rect x="1353.2" y="280.5" width="10.4" height="10.4" fill="#f56565" fill-opacity="0.8"/>
<rect x="1337.8" y="283.9" width="10.4" height="10.4" fill="#f56565" fill-opacity="0.8"/>
<rect x="1354" y="296.7" width="10.4" height="10.4" fill="#f56565" fill-opacity="0.8"/>
<rect x="1337" y="306.2" width="10.4" height="10.4" fill="#f56565" fill-opacity="0.8"/>
<rect x="1345.5" y="307" width="10.4" height="10.4" fill="#f56565" fill-opacity="0.8"/>
<rect x="1353.2" y="316.2" width="10.4" height="10.4" fill="#f56565" fill-opacity="0.8"/>
<rect x="1337.8" y="326.2" width="10.4" height="10.4" fill="#f56565" fill-opacity="0.8"/>
<rect x="1350.1" y="329.3" width="10.4" height="10.4" fill="#f56565" fill-opacity="0.8"/>
<rect x="1340.9" y="330.8" width="10.4" height="10.4" fill="#f56565" fill-opacity="0.8"/>
<rect x="1345.5" y="349.2" width="10.4" height="10.4" fill="#f56565" fill-opacity="0.8"/>
<rect x="1345.5" y="403" width="10.4" height="10.4" fill="#f56565" fill-opacity="0.8"/>
<polygon points="1043,294.98 1037.7,304.52 1048.3,304.52" fill="#2d2dff" fill-opacity="0.85"/>
<polygon points="1058.3,294.28 1053,303.82 1063.6,303.82" fill="#2d2dff" fill-opacity="0.85"/>
<polygon points="1046.8,304.98 1041.5,314.52 1052.1,314.52" fill="#2d2dff" fill-opacity="0.85"/>
<polygon points="1055.3,301.08 1050,310.62 1060.6,310.62" fill="#2d2dff" fill-opacity="0.85"/>
<polygon points="1043,317.28 1037.7,326.82 1048.3,326.82" fill="#2d2dff" fill-opacity="0.85"/>
<polygon points="1058.3,317.28 1053,326.82 1063.6,326.82" fill="#2d2dff" fill-opacity="0.85"/>
<polygon points="1047.6,322.58 1042.3,332.12 1052.9,332.12" fill="#2d2dff" fill-opacity="0.85"/>
<polygon points="1053.7,328.78 1048.4,338.32 1059,338.32" fill="#2d2dff" fill-opacity="0.85"/>
<polygon points="1058.3,346.48 1053,356.02 1063.6,356.02" fill="#2d2dff" fill-opacity="0.85"/>
<polygon points="1043,352.58 1037.7,362.12 1048.3,362.12" fill="#2d2dff" fill-opacity="0.85"/>
<polygon points="1224.5,160.18 1219.2,169.72 1229.8,169.72" fill="#2d2dff" fill-opacity="0.85"/>
<polygon points="1216,183.98 1210.7,193.52 1221.3,193.52" fill="#2d2dff" fill-opacity="0.85"/>
<polygon points="1224.5,185.68 1219.2,195.22 1229.8,195.22" fill="#2d2dff" fill-opacity="0.85"/>
<polygon points="1233.3,183.58 1228,193.12 1238.6,193.12" fill="#2d2dff" fill-opacity="0.85"/>
<polygon points="1216,203.28 1210.7,212.82 1221.3,212.82" fill="#2d2dff" fill-opacity="0.85"/>
<polygon points="1231.9,207.68 1226.6,217.22 1237.2,217.22" fill="#2d2dff" fill-opacity="0.85"/>
<polygon points="1220.4,210.28 1215.1,219.82 1225.7,219.82" fill="#2d2dff" fill-opacity="0.85"/>
<polygon points="1224.5,217.38 1219.2,226.92 1229.8,226.92" fill="#2d2dff" fill-opacity="0.85"/>
<polygon points="1229.2,217.38 1223.9,226.92 1234.5,226.92" fill="#2d2dff" fill-opacity="0.85"/>
<polygon points="1216.9,245.48 1211.6,255.02 1222.2,255.02" fill="#2d2dff" fill-opacity="0.85"/>
<polygon points="1231.9,257.78 1226.6,267.32 1237.2,267.32" fill="#2d2dff" fill-opacity="0.85"/>
<polygon points="1224.5,290.28 1219.2,299.82 1229.8,299.82" fill="#2d2dff" fill-opacity="0.85"/>
<polygon points="1406,234.28 1400.7,243.82 1411.3,243.82" fill="#2d2dff" fill-opacity="0.85"/>
<polygon points="1390.7,239.08 1385.4,248.62 1396,248.62" fill="#2d2dff" fill-opacity="0.85"/>
<polygon points="1406.8,249.58 1401.5,259.12 1412.1,259.12" fill="#2d2dff" fill-opacity="0.85"/>
<polygon points="1389.9,251.88 1384.6,261.42 1395.2,261.42" fill="#2d2dff" fill-opacity="0.85"/>
<polygon points="1390.7,260.28 1385.4,269.82 1396,269.82" fill="#2d2dff" fill-opacity="0.85"/>
<polygon points="1406.8,261.88 1401.5,271.42 1412.1,271.42" fill="#2d2dff" fill-opacity="0.85"/>
<polygon points="1394.5,264.98 1389.2,274.52 1399.8,274.52" fill="#2d2dff" fill-opacity="0.85"/>
<polygon points="1403.7,267.98 1398.4,277.52 1409,277.52" fill="#2d2dff" fill-opacity="0.85"/>
<polygon points="1396,269.58 1390.7,279.12 1401.3,279.12" fill="#2d2dff" fill-opacity="0.85"/>
<polygon points="1401.4,274.18 1396.1,283.72 1406.7,283.72" fill="#2d2dff" fill-opacity="0.85"/>
<polygon points="1398.4,277.28 1393.1,286.82 1403.7,286.82" fill="#2d2dff" fill-opacity="0.85"/>
<polygon points="1396.8,271.88 1391.5,281.42 1402.1,281.42" fill="#2d2dff" fill-opacity="0.85"/>
<line x1="955.7" y1="344.5" x2="955.7" y2="426" stroke="#000" stroke-width="1.6" />
<line x1="947.7" y1="344.5" x2="963.3" y2="344.5" stroke="#000" stroke-width="1.6" />
<line x1="947.7" y1="426" x2="963.3" y2="426" stroke="#000" stroke-width="1.6" />
<line x1="936.1" y1="385.2" x2="975" y2="385.2" stroke="#000" stroke-width="3" />
<line x1="1003" y1="313.7" x2="1003" y2="397.8" stroke="#f44" stroke-width="1.6" />
<line x1="995.3" y1="313.7" x2="1010.7" y2="313.7" stroke="#f44" stroke-width="1.6" />
<line x1="995.3" y1="397.8" x2="1010.7" y2="397.8" stroke="#f44" stroke-width="1.6" />
<line x1="983.5" y1="355.5" x2="1022.7" y2="355.5" stroke="#f44" stroke-width="2.6" />
<line x1="1050.5" y1="305.3" x2="1050.5" y2="341.7" stroke="#00f" stroke-width="1.6" />
<line x1="1043" y1="305.3" x2="1058.3" y2="305.3" stroke="#00f" stroke-width="1.6" />
<line x1="1043" y1="341.7" x2="1058.3" y2="341.7" stroke="#00f" stroke-width="1.6" />
<line x1="1031" y1="323.4" x2="1070.3" y2="323.4" stroke="#00f" stroke-width="2.6" />
<line x1="1129.5" y1="285.5" x2="1129.5" y2="385.7" stroke="#000" stroke-width="1.6" />
<line x1="1121.5" y1="285.5" x2="1137.3" y2="285.5" stroke="#000" stroke-width="1.6" />
<line x1="1121.5" y1="385.7" x2="1137.3" y2="385.7" stroke="#000" stroke-width="1.6" />
<line x1="1109.7" y1="335.6" x2="1149.2" y2="335.6" stroke="#000" stroke-width="3" />
<line x1="1176.8" y1="299.2" x2="1176.8" y2="329.5" stroke="#f44" stroke-width="1.6" />
<line x1="1169.4" y1="299.2" x2="1184.4" y2="299.2" stroke="#f44" stroke-width="1.6" />
<line x1="1169.4" y1="329.5" x2="1184.4" y2="329.5" stroke="#f44" stroke-width="1.6" />
<line x1="1157.1" y1="314.2" x2="1196.4" y2="314.2" stroke="#f44" stroke-width="2.6" />
<line x1="1224.5" y1="182.3" x2="1224.5" y2="254.7" stroke="#00f" stroke-width="1.6" />
<line x1="1216.9" y1="182.3" x2="1231.9" y2="182.3" stroke="#00f" stroke-width="1.6" />
<line x1="1216.9" y1="254.7" x2="1231.9" y2="254.7" stroke="#00f" stroke-width="1.6" />
<line x1="1205.1" y1="218.7" x2="1243.8" y2="218.7" stroke="#00f" stroke-width="2.6" />
<line x1="1303" y1="312.2" x2="1303" y2="399.8" stroke="#000" stroke-width="1.6" />
<line x1="1295.4" y1="312.2" x2="1310.7" y2="312.2" stroke="#000" stroke-width="1.6" />
<line x1="1295.4" y1="399.8" x2="1310.7" y2="399.8" stroke="#000" stroke-width="1.6" />
<line x1="1283.4" y1="356" x2="1322.7" y2="356" stroke="#000" stroke-width="3" />
<line x1="1350.7" y1="277.6" x2="1350.7" y2="360.1" stroke="#f44" stroke-width="1.6" />
<line x1="1343" y1="277.6" x2="1358.7" y2="277.6" stroke="#f44" stroke-width="1.6" />
<line x1="1343" y1="360.1" x2="1358.7" y2="360.1" stroke="#f44" stroke-width="1.6" />
<line x1="1331.2" y1="319" x2="1370.4" y2="319" stroke="#f44" stroke-width="2.6" />
<line x1="1398.4" y1="251.5" x2="1398.4" y2="277.6" stroke="#00f" stroke-width="1.6" />
<line x1="1390.7" y1="251.5" x2="1406" y2="251.5" stroke="#00f" stroke-width="1.6" />
<line x1="1390.7" y1="277.6" x2="1406" y2="277.6" stroke="#00f" stroke-width="1.6" />
<line x1="1378.8" y1="264.2" x2="1418" y2="264.2" stroke="#00f" stroke-width="2.6" />
<path d="M954.1 260V255.3H1003V260" fill="none" stroke="#000" stroke-width="1.4"/>
<text x="978.55" y="261.5" text-anchor="middle" style="font-size:25px">**</text>
<path d="M1003 240.7V236.1H1052.5V240.7" fill="none" stroke="#000" stroke-width="1.4"/>
<text x="1027.75" y="240.8" text-anchor="middle" style="font-size:25px">***</text>
<path d="M1127.8 152.7V148.4H1177V152.7" fill="none" stroke="#000" stroke-width="1.4"/>
<text x="1152.4" y="158" text-anchor="middle" style="font-size:25px">*</text>
<path d="M1177 133.4V129H1226.2V133.4" fill="none" stroke="#000" stroke-width="1.4"/>
<text x="1201.6" y="138.3" text-anchor="middle" style="font-size:25px">****</text>
<path d="M1302.6 212.6V208.9H1351.8V212.6" fill="none" stroke="#000" stroke-width="1.4"/>
<text x="1327.2" y="214.5" text-anchor="middle" style="font-size:25px">****</text>
<path d="M1351.8 193V188.9H1401V193" fill="none" stroke="#000" stroke-width="1.4"/>
<text x="1376.4" y="194.5" text-anchor="middle" style="font-size:25px">****</text>
<text x="1433" y="35.3" style="font-size:47px">C</text>
<line x1="1609.3" y1="90" x2="1609.3" y2="475.3" stroke="#000" stroke-width="1.6" />
<line x1="1608.5" y1="474.5" x2="1866" y2="474.5" stroke="#000" stroke-width="1.6" />
<line x1="1602" y1="474.5" x2="1609.3" y2="474.5" stroke="#000" stroke-width="1.6" />
<text x="1598.7" y="481.1" text-anchor="end" style="font-size:18.5px;font-weight:bold">0.6</text>
<line x1="1602" y1="436.12" x2="1609.3" y2="436.12" stroke="#000" stroke-width="1.6" />
<text x="1598.7" y="442.72" text-anchor="end" style="font-size:18.5px;font-weight:bold">0.8</text>
<line x1="1602" y1="397.74" x2="1609.3" y2="397.74" stroke="#000" stroke-width="1.6" />
<text x="1598.7" y="404.34" text-anchor="end" style="font-size:18.5px;font-weight:bold">1.0</text>
<line x1="1602" y1="359.36" x2="1609.3" y2="359.36" stroke="#000" stroke-width="1.6" />
<text x="1598.7" y="365.96" text-anchor="end" style="font-size:18.5px;font-weight:bold">1.2</text>
<line x1="1602" y1="320.98" x2="1609.3" y2="320.98" stroke="#000" stroke-width="1.6" />
<text x="1598.7" y="327.58" text-anchor="end" style="font-size:18.5px;font-weight:bold">1.4</text>
<line x1="1602" y1="282.6" x2="1609.3" y2="282.6" stroke="#000" stroke-width="1.6" />
<text x="1598.7" y="289.2" text-anchor="end" style="font-size:18.5px;font-weight:bold">1.6</text>
<line x1="1602" y1="244.22" x2="1609.3" y2="244.22" stroke="#000" stroke-width="1.6" />
<text x="1598.7" y="250.82" text-anchor="end" style="font-size:18.5px;font-weight:bold">1.8</text>
<line x1="1602" y1="205.84" x2="1609.3" y2="205.84" stroke="#000" stroke-width="1.6" />
<text x="1598.7" y="212.44" text-anchor="end" style="font-size:18.5px;font-weight:bold">2.0</text>
<line x1="1602" y1="167.46" x2="1609.3" y2="167.46" stroke="#000" stroke-width="1.6" />
<text x="1598.7" y="174.06" text-anchor="end" style="font-size:18.5px;font-weight:bold">2.2</text>
<line x1="1602" y1="129.08" x2="1609.3" y2="129.08" stroke="#000" stroke-width="1.6" />
<text x="1598.7" y="135.68" text-anchor="end" style="font-size:18.5px;font-weight:bold">2.4</text>
<line x1="1602" y1="90.7" x2="1609.3" y2="90.7" stroke="#000" stroke-width="1.6" />
<text x="1598.7" y="97.3" text-anchor="end" style="font-size:18.5px;font-weight:bold">2.6</text>
<line x1="1660.2" y1="474.5" x2="1660.2" y2="481.5" stroke="#000" stroke-width="1.6" />
<line x1="1736.9" y1="474.5" x2="1736.9" y2="481.5" stroke="#000" stroke-width="1.6" />
<line x1="1813.8" y1="474.5" x2="1813.8" y2="481.5" stroke="#000" stroke-width="1.6" />
<text x="1667.2" y="501" text-anchor="end" transform="rotate(-45 1667.2 501)" style="font-size:21.2px;font-weight:bold">Normal</text>
<text x="1743.9" y="501" text-anchor="end" transform="rotate(-45 1743.9 501)" style="font-size:21.2px;font-weight:bold">primary tumor</text>
<text x="1820.8" y="501" text-anchor="end" transform="rotate(-45 1820.8 501)" style="font-size:21.2px;font-weight:bold">metastatic tomor</text>
<text x="1524.5" y="502.6" transform="rotate(-90 1524.5 502.6)" textLength="450" lengthAdjust="spacingAndGlyphs" style="font-size:27px;font-weight:bold">Relative mRNA expression level of</text>
<text x="1556" y="501" transform="rotate(-90 1556 501)" style="font-size:27px;font-weight:bold" textLength="447" lengthAdjust="spacingAndGlyphs">HOXD11 in paired tissues (log<tspan dy="5" style="font-size:18px">2</tspan><tspan dy="-5">FC)</tspan></text>
<line x1="1659.5" y1="398" x2="1737.4" y2="236.1" stroke="#000" stroke-width="3" />
<line x1="1737.4" y1="236.1" x2="1814.2" y2="167.7" stroke="#000" stroke-width="3" />
<line x1="1659.5" y1="398" x2="1737.4" y2="296.1" stroke="#000" stroke-width="3" />
<line x1="1737.4" y1="296.1" x2="1814.2" y2="117.3" stroke="#000" stroke-width="3" />
<line x1="1659.5" y1="398" x2="1737.4" y2="300.1" stroke="#000" stroke-width="3" />
<line x1="1737.4" y1="300.1" x2="1814.2" y2="200.2" stroke="#000" stroke-width="3" />
<line x1="1659.5" y1="398" x2="1737.4" y2="311.3" stroke="#000" stroke-width="3" />
<line x1="1737.4" y1="311.3" x2="1814.2" y2="238.8" stroke="#000" stroke-width="3" />
<line x1="1659.5" y1="398" x2="1737.4" y2="324.5" stroke="#000" stroke-width="3" />
<line x1="1737.4" y1="324.5" x2="1814.2" y2="234.1" stroke="#000" stroke-width="3" />
<line x1="1659.5" y1="398" x2="1737.4" y2="333.6" stroke="#000" stroke-width="3" />
<line x1="1737.4" y1="333.6" x2="1814.2" y2="251.4" stroke="#000" stroke-width="3" />
<line x1="1659.5" y1="398" x2="1737.4" y2="346.9" stroke="#000" stroke-width="3" />
<line x1="1737.4" y1="346.9" x2="1814.2" y2="271.7" stroke="#000" stroke-width="3" />
<line x1="1659.5" y1="398" x2="1737.4" y2="355.6" stroke="#000" stroke-width="3" />
<line x1="1737.4" y1="355.6" x2="1814.2" y2="324.5" stroke="#000" stroke-width="3" />
<line x1="1659.5" y1="398" x2="1737.4" y2="373.3" stroke="#000" stroke-width="3" />
<line x1="1737.4" y1="373.3" x2="1814.2" y2="302.2" stroke="#000" stroke-width="3" />
<line x1="1659.5" y1="398" x2="1737.4" y2="382" stroke="#000" stroke-width="3" />
<line x1="1737.4" y1="382" x2="1814.2" y2="381.4" stroke="#000" stroke-width="3" />
<line x1="1659.5" y1="398" x2="1737.4" y2="399.7" stroke="#000" stroke-width="3" />
<line x1="1737.4" y1="399.7" x2="1814.2" y2="329.2" stroke="#000" stroke-width="3" />
<line x1="1659.5" y1="398" x2="1737.4" y2="454.5" stroke="#000" stroke-width="3" />
<line x1="1737.4" y1="454.5" x2="1814.2" y2="271.7" stroke="#000" stroke-width="3" />
<circle cx="1659.5" cy="398" r="5.5" fill="#000" />
<circle cx="1737.4" cy="236.1" r="5.5" fill="#f44" />
<circle cx="1737.4" cy="296.1" r="5.5" fill="#f44" />
<circle cx="1737.4" cy="300.1" r="5.5" fill="#f44" />
<circle cx="1737.4" cy="311.3" r="5.5" fill="#f44" />
<circle cx="1737.4" cy="324.5" r="5.5" fill="#f44" />
<circle cx="1737.4" cy="333.6" r="5.5" fill="#f44" />
<circle cx="1737.4" cy="346.9" r="5.5" fill="#f44" />
<circle cx="1737.4" cy="355.6" r="5.5" fill="#f44" />
<circle cx="1737.4" cy="373.3" r="5.5" fill="#f44" />
<circle cx="1737.4" cy="382" r="5.5" fill="#f44" />
<circle cx="1737.4" cy="399.7" r="5.5" fill="#f44" />
<circle cx="1737.4" cy="454.5" r="5.5" fill="#f44" />
<circle cx="1814.2" cy="117.3" r="5.5" fill="#00f" />
<circle cx="1814.2" cy="167.7" r="5.5" fill="#00f" />
<circle cx="1814.2" cy="200.2" r="5.5" fill="#00f" />
<circle cx="1814.2" cy="234.1" r="5.5" fill="#00f" />
<circle cx="1814.2" cy="238.8" r="5.5" fill="#00f" />
<circle cx="1814.2" cy="251.4" r="5.5" fill="#00f" />
<circle cx="1814.2" cy="271.7" r="5.5" fill="#00f" />
<circle cx="1814.2" cy="302.2" r="5.5" fill="#00f" />
<circle cx="1814.2" cy="324.5" r="5.5" fill="#00f" />
<circle cx="1814.2" cy="329.2" r="5.5" fill="#00f" />
<circle cx="1814.2" cy="381.4" r="5.5" fill="#00f" />
<path d="M1659.2 95V91.4H1736.5V95" fill="none" stroke="#000" stroke-width="1.4"/>
<path d="M1735.8 78V73.8H1813.1V78" fill="none" stroke="#000" stroke-width="1.4"/>
<text x="1698" y="95.7" text-anchor="middle" style="font-size:23px">**</text>
<text x="1774.5" y="78.1" text-anchor="middle" style="font-size:23px">***</text>
<defs><filter id="bl" x="-20%" y="-50%" width="140%" height="200%"><feGaussianBlur stdDeviation="2.1"/></filter><filter id="bl2" x="-30%" y="-100%" width="160%" height="300%"><feGaussianBlur stdDeviation="5"/></filter></defs>
<text x="1.2" y="611.5" style="font-size:47.5px">D</text>
<text x="70.9" y="664.8" transform="rotate(-45 70.9 664.8)" style="font-size:25px">LM#1</text>
<text x="128.8" y="662.8" transform="rotate(-45 128.8 662.8)" style="font-size:25px">T#1</text>
<text x="175.2" y="664.8" transform="rotate(-45 175.2 664.8)" style="font-size:25px">N#1</text>
<text x="221.6" y="664.8" transform="rotate(-45 221.6 664.8)" style="font-size:25px">LM#2</text>
<text x="268" y="662.8" transform="rotate(-45 268 662.8)" style="font-size:25px">T#2</text>
<text x="314.4" y="664.8" transform="rotate(-45 314.4 664.8)" style="font-size:25px">N#2</text>
<text x="358.9" y="664.8" transform="rotate(-45 358.9 664.8)" style="font-size:25px">LM#3</text>
<text x="407.2" y="662.8" transform="rotate(-45 407.2 662.8)" style="font-size:25px">T#3</text>
<text x="452.8" y="664.8" transform="rotate(-45 452.8 664.8)" style="font-size:25px">N#3</text>
<text x="496.1" y="664.8" transform="rotate(-45 496.1 664.8)" style="font-size:25px">LM#4</text>
<text x="544.4" y="662.8" transform="rotate(-45 544.4 662.8)" style="font-size:25px">T#4</text>
<text x="590.8" y="664.8" transform="rotate(-45 590.8 664.8)" style="font-size:25px">N#4</text>
<rect x="53" y="672.4" width="571" height="62.6" fill="#f3f3f3"/>
<g clip-path="url(#bc1617)"><g filter="url(#bl2)" opacity="0.35">
<rect x="60" y="696" width="41" height="17" rx="8" fill="#000" fill-opacity="1"/>
<rect x="62" y="692" width="37" height="9" rx="4.5" fill="#000" fill-opacity="0.35"/>
<rect x="106" y="699.25" width="39" height="10.5" rx="5.25" fill="#000" fill-opacity="0.7"/>
<rect x="108" y="693" width="34" height="9" rx="4.5" fill="#000" fill-opacity="0.2"/>
<rect x="153" y="701.5" width="42" height="12" rx="6" fill="#000" fill-opacity="0.7"/>
<rect x="199" y="700.25" width="41" height="11.5" rx="5.75" fill="#000" fill-opacity="0.9"/>
<rect x="247" y="699.75" width="41" height="10.5" rx="5.25" fill="#000" fill-opacity="0.9"/>
<rect x="249" y="690.75" width="38" height="9.5" rx="4.75" fill="#000" fill-opacity="0.65"/>
<rect x="342" y="700.25" width="37" height="11.5" rx="5.75" fill="#000" fill-opacity="0.95"/>
<rect x="387" y="705" width="44" height="12" rx="6" fill="#000" fill-opacity="0.9"/>
<rect x="487" y="703" width="39" height="14" rx="7" fill="#000" fill-opacity="1"/>
<rect x="538" y="705.5" width="24" height="9" rx="4.5" fill="#000" fill-opacity="0.05"/>
</g></g>
<clipPath id="bc1617"><rect x="53" y="672.4" width="571" height="62.6"/></clipPath>
<g filter="url(#bl)">
<rect x="62" y="699" width="37" height="11" rx="5.5" fill="#000" fill-opacity="1"/>
<rect x="64" y="695" width="33" height="3" rx="1.5" fill="#000" fill-opacity="0.35"/>
<rect x="108" y="702.25" width="35" height="4.5" rx="2.25" fill="#000" fill-opacity="0.7"/>
<rect x="110" y="696" width="30" height="3" rx="1.5" fill="#000" fill-opacity="0.2"/>
<rect x="155" y="704.5" width="38" height="6" rx="3" fill="#000" fill-opacity="0.7"/>
<rect x="201" y="703.25" width="37" height="5.5" rx="2.75" fill="#000" fill-opacity="0.9"/>
<rect x="249" y="702.75" width="37" height="4.5" rx="2.25" fill="#000" fill-opacity="0.9"/>
<rect x="251" y="693.75" width="34" height="3.5" rx="1.75" fill="#000" fill-opacity="0.65"/>
<rect x="344" y="703.25" width="33" height="5.5" rx="2.75" fill="#000" fill-opacity="0.95"/>
<rect x="389" y="708" width="40" height="6" rx="3" fill="#000" fill-opacity="0.9"/>
<rect x="489" y="706" width="35" height="8" rx="4" fill="#000" fill-opacity="1"/>
<rect x="540" y="708.5" width="20" height="3" rx="1.5" fill="#000" fill-opacity="0.05"/>
</g>
<rect x="53" y="672.4" width="571" height="62.6" fill="none" stroke="#000" stroke-width="2"/>
<text x="41.3" y="716" text-anchor="end" style="font-size:14px">35 kD</text>
<line x1="45.5" y1="711.1" x2="53" y2="711.1" stroke="#000" stroke-width="1.6" />
<text x="79.2" y="750.8" text-anchor="middle" style="font-size:15px">0.86</text>
<text x="125.6" y="750.8" text-anchor="middle" style="font-size:15px">0.21</text>
<text x="172.8" y="750.8" text-anchor="middle" style="font-size:15px">0.09</text>
<text x="217.6" y="750.8" text-anchor="middle" style="font-size:15px">0.48</text>
<text x="264" y="750.8" text-anchor="middle" style="font-size:15px">0.43</text>
<text x="312.4" y="750.8" text-anchor="middle" style="font-size:15px">0</text>
<text x="360.7" y="750.8" text-anchor="middle" style="font-size:15px">0.52</text>
<text x="408.2" y="750.8" text-anchor="middle" style="font-size:15px">0.59</text>
<text x="455" y="750.8" text-anchor="middle" style="font-size:15px">0</text>
<text x="504.5" y="750.8" text-anchor="middle" style="font-size:15px">0.66</text>
<text x="546.2" y="750.8" text-anchor="middle" style="font-size:15px">0.02</text>
<text x="594.6" y="750.8" text-anchor="middle" style="font-size:15px">0</text>
<text x="627" y="716.5" style="font-size:26px">HOXD11</text>
<rect x="53" y="758.6" width="571" height="60.7" fill="#f3f3f3"/>
<g clip-path="url(#bc1663)"><g filter="url(#bl2)" opacity="0.35">
<rect x="56" y="777.5" width="99" height="23" rx="8" fill="#000" fill-opacity="1"/>
<rect x="151" y="776" width="40" height="22" rx="8" fill="#000" fill-opacity="1"/>
<rect x="158" y="769" width="24" height="16" rx="8" fill="#000" fill-opacity="0.2"/>
<rect x="187" y="780.5" width="57" height="17" rx="8" fill="#000" fill-opacity="1"/>
<rect x="241" y="781.5" width="47" height="15" rx="7.5" fill="#000" fill-opacity="1"/>
<rect x="284" y="779" width="58" height="18" rx="8" fill="#000" fill-opacity="1"/>
<rect x="338" y="778" width="47" height="20" rx="8" fill="#000" fill-opacity="1"/>
<rect x="381" y="778" width="54" height="20" rx="8" fill="#000" fill-opacity="1"/>
<rect x="431" y="771.5" width="50" height="23" rx="8" fill="#000" fill-opacity="0.95"/>
<rect x="477" y="779" width="51" height="22" rx="8" fill="#000" fill-opacity="1"/>
<rect x="524" y="769" width="46" height="26" rx="8" fill="#000" fill-opacity="1"/>
<rect x="570" y="775" width="51" height="14" rx="7" fill="#000" fill-opacity="1"/>
</g></g>
<clipPath id="bc1663"><rect x="53" y="758.6" width="571" height="60.7"/></clipPath>
<g filter="url(#bl)">
<rect x="58" y="780.5" width="95" height="17" rx="6" fill="#000" fill-opacity="1"/>
<rect x="153" y="779" width="36" height="16" rx="6" fill="#000" fill-opacity="1"/>
<rect x="160" y="772" width="20" height="10" rx="5" fill="#000" fill-opacity="0.2"/>
<rect x="189" y="783.5" width="53" height="11" rx="5.5" fill="#000" fill-opacity="1"/>
<rect x="243" y="784.5" width="43" height="9" rx="4.5" fill="#000" fill-opacity="1"/>
<rect x="286" y="782" width="54" height="12" rx="6" fill="#000" fill-opacity="1"/>
<rect x="340" y="781" width="43" height="14" rx="6" fill="#000" fill-opacity="1"/>
<rect x="383" y="781" width="50" height="14" rx="6" fill="#000" fill-opacity="1"/>
<rect x="433" y="774.5" width="46" height="17" rx="6" fill="#000" fill-opacity="0.95"/>
<rect x="479" y="782" width="47" height="16" rx="6" fill="#000" fill-opacity="1"/>
<rect x="526" y="772" width="42" height="20" rx="6" fill="#000" fill-opacity="1"/>
<rect x="572" y="778" width="47" height="8" rx="4" fill="#000" fill-opacity="1"/>
</g>
<rect x="53" y="758.6" width="571" height="60.7" fill="none" stroke="#000" stroke-width="2"/>
<text x="41.3" y="764.3" text-anchor="end" style="font-size:14px">65 kD</text>
<line x1="45.5" y1="759.4" x2="53" y2="759.4" stroke="#000" stroke-width="1.6" />
<text x="41.3" y="826.2" text-anchor="end" style="font-size:14px">45 kD</text>
<line x1="45.5" y1="821.3" x2="53" y2="821.3" stroke="#000" stroke-width="1.6" />
<text x="627" y="790" style="font-size:26px">α-tubulin</text>
<text x="76.7" y="889" transform="rotate(-45 76.7 889)" style="font-size:26px">T#5</text>
<text x="121" y="889.8" transform="rotate(-45 121 889.8)" style="font-size:26px">N#5</text>
<text x="169.4" y="889" transform="rotate(-45 169.4 889)" style="font-size:26px">T#6</text>
<text x="214" y="889.8" transform="rotate(-45 214 889.8)" style="font-size:26px">N#6</text>
<text x="260.3" y="889" transform="rotate(-45 260.3 889)" style="font-size:26px">T#7</text>
<text x="304.7" y="889.8" transform="rotate(-45 304.7 889.8)" style="font-size:26px">N#7</text>
<text x="351.1" y="889" transform="rotate(-45 351.1 889)" style="font-size:26px">T#8</text>
<text x="395.6" y="889.8" transform="rotate(-45 395.6 889.8)" style="font-size:26px">N#8</text>
<text x="445.8" y="889" transform="rotate(-45 445.8 889)" style="font-size:26px">T#9</text>
<text x="490.3" y="889.8" transform="rotate(-45 490.3 889.8)" style="font-size:26px">N#9</text>
<text x="536.7" y="889" transform="rotate(-45 536.7 889)" style="font-size:26px">T#10</text>
<text x="581.1" y="889.8" transform="rotate(-45 581.1 889.8)" style="font-size:26px">N#10</text>
<rect x="53" y="894" width="571" height="47.9" fill="#f3f3f3"/>
<g clip-path="url(#bc1711)"><g filter="url(#bl2)" opacity="0.35">
<rect x="66" y="920" width="38" height="13" rx="6.5" fill="#000" fill-opacity="0.95"/>
<rect x="114" y="923" width="35" height="10" rx="5" fill="#000" fill-opacity="0.3"/>
<rect x="156" y="921" width="39" height="13" rx="6.5" fill="#000" fill-opacity="0.95"/>
<rect x="203" y="920.25" width="37" height="12.5" rx="6.25" fill="#000" fill-opacity="0.9"/>
<rect x="247" y="924.25" width="41" height="13.5" rx="6.75" fill="#000" fill-opacity="1"/>
<rect x="296" y="925" width="31" height="10" rx="5" fill="#000" fill-opacity="0.1"/>
<rect x="342" y="924.75" width="33" height="12.5" rx="6.25" fill="#000" fill-opacity="0.9"/>
<rect x="385" y="924" width="35" height="10" rx="5" fill="#000" fill-opacity="0.45"/>
<rect x="431" y="922.25" width="37" height="11.5" rx="5.75" fill="#000" fill-opacity="0.85"/>
<rect x="479" y="925.25" width="29" height="9.5" rx="4.75" fill="#000" fill-opacity="0.35"/>
<rect x="522" y="918.75" width="39" height="12.5" rx="6.25" fill="#000" fill-opacity="0.95"/>
<rect x="568" y="919" width="35" height="12" rx="6" fill="#000" fill-opacity="0.65"/>
</g></g>
<clipPath id="bc1711"><rect x="53" y="894" width="571" height="47.9"/></clipPath>
<g filter="url(#bl)">
<rect x="68" y="923" width="34" height="7" rx="3.5" fill="#000" fill-opacity="0.95"/>
<rect x="116" y="926" width="31" height="4" rx="2" fill="#000" fill-opacity="0.3"/>
<rect x="158" y="924" width="35" height="7" rx="3.5" fill="#000" fill-opacity="0.95"/>
<rect x="205" y="923.25" width="33" height="6.5" rx="3.25" fill="#000" fill-opacity="0.9"/>
<rect x="249" y="927.25" width="37" height="7.5" rx="3.75" fill="#000" fill-opacity="1"/>
<rect x="298" y="928" width="27" height="4" rx="2" fill="#000" fill-opacity="0.1"/>
<rect x="344" y="927.75" width="29" height="6.5" rx="3.25" fill="#000" fill-opacity="0.9"/>
<rect x="387" y="927" width="31" height="4" rx="2" fill="#000" fill-opacity="0.45"/>
<rect x="433" y="925.25" width="33" height="5.5" rx="2.75" fill="#000" fill-opacity="0.85"/>
<rect x="481" y="928.25" width="25" height="3.5" rx="1.75" fill="#000" fill-opacity="0.35"/>
<rect x="524" y="921.75" width="35" height="6.5" rx="3.25" fill="#000" fill-opacity="0.95"/>
<rect x="570" y="922" width="31" height="6" rx="3" fill="#000" fill-opacity="0.65"/>
</g>
<rect x="53" y="894" width="571" height="47.9" fill="none" stroke="#000" stroke-width="2"/>
<text x="41.3" y="932.5" text-anchor="end" style="font-size:14px">35 kD</text>
<line x1="45.5" y1="927.6" x2="53" y2="927.6" stroke="#000" stroke-width="1.6" />
<text x="84.3" y="959" text-anchor="middle" style="font-size:15px">0.44</text>
<text x="129.5" y="959" text-anchor="middle" style="font-size:15px">0.08</text>
<text x="175.9" y="959" text-anchor="middle" style="font-size:15px">0.37</text>
<text x="221.1" y="959" text-anchor="middle" style="font-size:15px">0.29</text>
<text x="266.7" y="959" text-anchor="middle" style="font-size:15px">0.84</text>
<text x="315" y="959" text-anchor="middle" style="font-size:15px">0.05</text>
<text x="360.3" y="959" text-anchor="middle" style="font-size:15px">0.42</text>
<text x="403.2" y="959" text-anchor="middle" style="font-size:15px">0.17</text>
<text x="450.4" y="959" text-anchor="middle" style="font-size:15px">0.31</text>
<text x="496" y="959" text-anchor="middle" style="font-size:15px">0.05</text>
<text x="541.2" y="959" text-anchor="middle" style="font-size:15px">0.69</text>
<text x="585.7" y="959" text-anchor="middle" style="font-size:15px">0.23</text>
<text x="627" y="930.5" style="font-size:26px">HOXD11</text>
<rect x="53" y="967" width="571" height="47.6" fill="#f3f3f3"/>
<g clip-path="url(#bc1757)"><g filter="url(#bl2)" opacity="0.35">
<rect x="66" y="979" width="44" height="21" rx="8" fill="#000" fill-opacity="1"/>
<rect x="116" y="982.5" width="37" height="17" rx="8" fill="#000" fill-opacity="1"/>
<rect x="156" y="977" width="45" height="26" rx="8" fill="#000" fill-opacity="1"/>
<rect x="203" y="979.5" width="45" height="21" rx="8" fill="#000" fill-opacity="1"/>
<rect x="251" y="985" width="39" height="14" rx="7" fill="#000" fill-opacity="1"/>
<rect x="296" y="981.5" width="40" height="19" rx="8" fill="#000" fill-opacity="1"/>
<rect x="341" y="977" width="48" height="26" rx="8" fill="#000" fill-opacity="1"/>
<rect x="385" y="977.5" width="44" height="23" rx="8" fill="#000" fill-opacity="1"/>
<rect x="431" y="978" width="45" height="22" rx="8" fill="#000" fill-opacity="1"/>
<rect x="479" y="978.5" width="39" height="21" rx="8" fill="#000" fill-opacity="1"/>
<rect x="524" y="977" width="41" height="20" rx="8" fill="#000" fill-opacity="1"/>
<rect x="570" y="975" width="41" height="20" rx="8" fill="#000" fill-opacity="1"/>
</g></g>
<clipPath id="bc1757"><rect x="53" y="967" width="571" height="47.6"/></clipPath>
<g filter="url(#bl)">
<rect x="68" y="982" width="40" height="15" rx="6" fill="#000" fill-opacity="1"/>
<rect x="118" y="985.5" width="33" height="11" rx="5.5" fill="#000" fill-opacity="1"/>
<rect x="158" y="980" width="41" height="20" rx="6" fill="#000" fill-opacity="1"/>
<rect x="205" y="982.5" width="41" height="15" rx="6" fill="#000" fill-opacity="1"/>
<rect x="253" y="988" width="35" height="8" rx="4" fill="#000" fill-opacity="1"/>
<rect x="298" y="984.5" width="36" height="13" rx="6" fill="#000" fill-opacity="1"/>
<rect x="343" y="980" width="44" height="20" rx="6" fill="#000" fill-opacity="1"/>
<rect x="387" y="980.5" width="40" height="17" rx="6" fill="#000" fill-opacity="1"/>
<rect x="433" y="981" width="41" height="16" rx="6" fill="#000" fill-opacity="1"/>
<rect x="481" y="981.5" width="35" height="15" rx="6" fill="#000" fill-opacity="1"/>
<rect x="526" y="980" width="37" height="14" rx="6" fill="#000" fill-opacity="1"/>
<rect x="572" y="978" width="37" height="14" rx="6" fill="#000" fill-opacity="1"/>
</g>
<rect x="53" y="967" width="571" height="47.6" fill="none" stroke="#000" stroke-width="2"/>
<text x="41.3" y="973.1" text-anchor="end" style="font-size:14px">65 kD</text>
<line x1="45.5" y1="968.2" x2="53" y2="968.2" stroke="#000" stroke-width="1.6" />
<text x="41.3" y="1015.6" text-anchor="end" style="font-size:14px">45 kD</text>
<line x1="45.5" y1="1010.7" x2="53" y2="1010.7" stroke="#000" stroke-width="1.6" />
<text x="627" y="999" style="font-size:26px">α-tubulin</text>
<text x="154" y="1099.3" transform="rotate(-45 154 1099.3)" style="font-size:25px">HaCaT</text>
<text x="213.9" y="1099.3" transform="rotate(-45 213.9 1099.3)" style="font-size:25px">Penl2</text>
<text x="275.7" y="1099.3" transform="rotate(-45 275.7 1099.3)" style="font-size:25px">Penl1</text>
<text x="337.6" y="1097.4" transform="rotate(-45 337.6 1097.4)" style="font-size:25px">149rca</text>
<text x="391.7" y="1097.4" transform="rotate(-45 391.7 1097.4)" style="font-size:25px">149rm</text>
<text x="457.4" y="1097.4" transform="rotate(-45 457.4 1097.4)" style="font-size:25px">156lm</text>
<rect x="136" y="1102.3" width="356.1" height="63.8" fill="#f3f3f3"/>
<g clip-path="url(#bc1799)"><g filter="url(#bl2)" opacity="0.35">
<rect x="203" y="1124.5" width="42.5" height="17" rx="8" fill="#000" fill-opacity="0.95"/>
<rect x="253" y="1123.5" width="48.6" height="19" rx="8" fill="#000" fill-opacity="1"/>
<rect x="311" y="1128" width="52.5" height="12" rx="6" fill="#000" fill-opacity="0.7"/>
<rect x="371" y="1128.5" width="48.5" height="11" rx="5.5" fill="#000" fill-opacity="0.45"/>
<rect x="431" y="1123.5" width="47.3" height="17" rx="8" fill="#000" fill-opacity="1"/>
</g></g>
<clipPath id="bc1799"><rect x="136" y="1102.3" width="356.1" height="63.8"/></clipPath>
<g filter="url(#bl)">
<rect x="205" y="1127.5" width="38.5" height="11" rx="5.5" fill="#000" fill-opacity="0.95"/>
<rect x="255" y="1126.5" width="44.6" height="13" rx="6" fill="#000" fill-opacity="1"/>
<rect x="313" y="1131" width="48.5" height="6" rx="3" fill="#000" fill-opacity="0.7"/>
<rect x="373" y="1131.5" width="44.5" height="5" rx="2.5" fill="#000" fill-opacity="0.45"/>
<rect x="433" y="1126.5" width="43.3" height="11" rx="5.5" fill="#000" fill-opacity="1"/>
</g>
<rect x="136" y="1102.3" width="356.1" height="63.8" fill="none" stroke="#000" stroke-width="2"/>
<text x="124.3" y="1139.7" text-anchor="end" style="font-size:14px">35 kD</text>
<line x1="128.5" y1="1134.8" x2="136" y2="1134.8" stroke="#000" stroke-width="1.6" />
<text x="173.2" y="1184" text-anchor="middle" style="font-size:15px">0</text>
<text x="221.5" y="1184" text-anchor="middle" style="font-size:15px">0.78</text>
<text x="276.4" y="1184" text-anchor="middle" style="font-size:15px">1.15</text>
<text x="335.5" y="1184" text-anchor="middle" style="font-size:15px">0.29</text>
<text x="397" y="1184" text-anchor="middle" style="font-size:15px">0.16</text>
<text x="452.3" y="1184" text-anchor="middle" style="font-size:15px">0.81</text>
<text x="496.5" y="1146.5" style="font-size:30.3px">HOXD11</text>
<rect x="136" y="1190" width="356.1" height="63.1" fill="#f3f3f3"/>
<g clip-path="url(#bc1825)"><g filter="url(#bl2)" opacity="0.35">
<rect x="153" y="1205.3" width="61" height="33" rx="8" fill="#000" fill-opacity="1"/>
<rect x="212.5" y="1213" width="44.5" height="18" rx="8" fill="#000" fill-opacity="1"/>
<rect x="263" y="1213" width="48" height="18" rx="8" fill="#000" fill-opacity="1"/>
<rect x="311" y="1210" width="54.4" height="24" rx="8" fill="#000" fill-opacity="1"/>
<rect x="365" y="1209" width="62" height="24" rx="8" fill="#000" fill-opacity="1"/>
<rect x="431" y="1213" width="48.4" height="18" rx="8" fill="#000" fill-opacity="1"/>
</g></g>
<clipPath id="bc1825"><rect x="136" y="1190" width="356.1" height="63.1"/></clipPath>
<g filter="url(#bl)">
<rect x="155" y="1208.3" width="57" height="27" rx="6" fill="#000" fill-opacity="1"/>
<rect x="214.5" y="1216" width="40.5" height="12" rx="6" fill="#000" fill-opacity="1"/>
<rect x="265" y="1216" width="44" height="12" rx="6" fill="#000" fill-opacity="1"/>
<rect x="313" y="1213" width="50.4" height="18" rx="6" fill="#000" fill-opacity="1"/>
<rect x="367" y="1212" width="58" height="18" rx="6" fill="#000" fill-opacity="1"/>
<rect x="433" y="1216" width="44.4" height="12" rx="6" fill="#000" fill-opacity="1"/>
</g>
<rect x="136" y="1190" width="356.1" height="63.1" fill="none" stroke="#000" stroke-width="2"/>
<text x="124.3" y="1194.9" text-anchor="end" style="font-size:14px">65 kD</text>
<line x1="128.5" y1="1190" x2="136" y2="1190" stroke="#000" stroke-width="1.6" />
<text x="124.3" y="1256.9" text-anchor="end" style="font-size:14px">45 kD</text>
<line x1="128.5" y1="1252" x2="136" y2="1252" stroke="#000" stroke-width="1.6" />
<text x="496.5" y="1231" style="font-size:30.3px">α-tubulin</text>
<defs><pattern id="purp" width="37" height="37" patternUnits="userSpaceOnUse"><ellipse cx="4.97" cy="31.36" rx="1.45" ry="0.91" fill="#bab6dc" transform="rotate(103 4.97 31.36)"/><ellipse cx="9.44" cy="18.33" rx="1.25" ry="0.78" fill="#9e9ad0" transform="rotate(170 9.44 18.33)"/><ellipse cx="24.11" cy="29.18" rx="1.02" ry="0.64" fill="#bab6dc" transform="rotate(93 24.11 29.18)"/><ellipse cx="1.05" cy="30.92" rx="1.24" ry="0.77" fill="#a4a0d0" transform="rotate(22 1.05 30.92)"/><ellipse cx="38.05" cy="30.92" rx="1.24" ry="0.77" fill="#a4a0d0" transform="rotate(22 38.05 30.92)"/><ellipse cx="28.2" cy="0.08" rx="1.25" ry="0.78" fill="#9e9ad0" transform="rotate(169 28.2 0.08)"/><ellipse cx="28.2" cy="37.08" rx="1.25" ry="0.78" fill="#9e9ad0" transform="rotate(169 28.2 37.08)"/><ellipse cx="26.7" cy="8.46" rx="1.56" ry="0.98" fill="#aeaad6" transform="rotate(41 26.7 8.46)"/><ellipse cx="33.35" cy="1.13" rx="0.98" ry="0.61" fill="#9e9ad0" transform="rotate(94 33.35 1.13)"/><ellipse cx="33.35" cy="38.13" rx="0.98" ry="0.61" fill="#9e9ad0" transform="rotate(94 33.35 38.13)"/><ellipse cx="20.03" cy="34.75" rx="1.2" ry="0.75" fill="#9e9ad0" transform="rotate(7 20.03 34.75)"/><ellipse cx="8.01" cy="15.62" rx="0.98" ry="0.61" fill="#9e9ad0" transform="rotate(11 8.01 15.62)"/><ellipse cx="8.62" cy="8.54" rx="1.1" ry="0.69" fill="#a4a0d0" transform="rotate(157 8.62 8.54)"/><ellipse cx="17.01" cy="10.72" rx="0.97" ry="0.61" fill="#9e9ad0" transform="rotate(165 17.01 10.72)"/><ellipse cx="30.99" cy="20.59" rx="1.37" ry="0.86" fill="#bab6dc" transform="rotate(43 30.99 20.59)"/><ellipse cx="6.88" cy="-0.28" rx="1.51" ry="0.94" fill="#bab6dc" transform="rotate(3 6.88 -0.28)"/><ellipse cx="6.88" cy="36.72" rx="1.51" ry="0.94" fill="#bab6dc" transform="rotate(3 6.88 36.72)"/><ellipse cx="4.47" cy="12.31" rx="1.42" ry="0.89" fill="#bab6dc" transform="rotate(138 4.47 12.31)"/><ellipse cx="26.31" cy="34.65" rx="1.23" ry="0.77" fill="#bab6dc" transform="rotate(103 26.31 34.65)"/><ellipse cx="30.71" cy="24.8" rx="1.15" ry="0.72" fill="#a4a0d0" transform="rotate(147 30.71 24.8)"/><ellipse cx="18.7" cy="21.79" rx="0.98" ry="0.61" fill="#a4a0d0" transform="rotate(117 18.7 21.79)"/></pattern><pattern id="purpB" width="53" height="53" patternUnits="userSpaceOnUse"><ellipse cx="8.74" cy="36.56" rx="1.37" ry="0.85" fill="#a4a0d0" transform="rotate(88 8.74 36.56)"/><ellipse cx="25.39" cy="11.45" rx="1.47" ry="0.92" fill="#a4a0d0" transform="rotate(62 25.39 11.45)"/><ellipse cx="42.82" cy="27.16" rx="1.28" ry="0.8" fill="#aeaad6" transform="rotate(43 42.82 27.16)"/><ellipse cx="12.51" cy="0.17" rx="1.2" ry="0.75" fill="#aeaad6" transform="rotate(44 12.51 0.17)"/><ellipse cx="12.51" cy="53.17" rx="1.2" ry="0.75" fill="#aeaad6" transform="rotate(44 12.51 53.17)"/><ellipse cx="31.02" cy="3.67" rx="1.47" ry="0.92" fill="#9e9ad0" transform="rotate(95 31.02 3.67)"/><ellipse cx="12.31" cy="12.33" rx="0.99" ry="0.62" fill="#bab6dc" transform="rotate(174 12.31 12.33)"/><ellipse cx="-0.13" cy="39.15" rx="1.52" ry="0.95" fill="#aeaad6" transform="rotate(173 -0.13 39.15)"/><ellipse cx="52.87" cy="39.15" rx="1.52" ry="0.95" fill="#aeaad6" transform="rotate(173 52.87 39.15)"/><ellipse cx="26.37" cy="6.14" rx="1.57" ry="0.98" fill="#bab6dc" transform="rotate(104 26.37 6.14)"/><ellipse cx="19.53" cy="8.21" rx="1.48" ry="0.93" fill="#bab6dc" transform="rotate(151 19.53 8.21)"/><ellipse cx="6.62" cy="49.18" rx="1.25" ry="0.78" fill="#aeaad6" transform="rotate(88 6.62 49.18)"/><ellipse cx="29.26" cy="18.17" rx="1.27" ry="0.79" fill="#9e9ad0" transform="rotate(129 29.26 18.17)"/><ellipse cx="9.91" cy="1.97" rx="1.51" ry="0.95" fill="#9e9ad0" transform="rotate(170 9.91 1.97)"/><ellipse cx="9.91" cy="54.97" rx="1.51" ry="0.95" fill="#9e9ad0" transform="rotate(170 9.91 54.97)"/><ellipse cx="12.45" cy="41.35" rx="1.09" ry="0.68" fill="#bab6dc" transform="rotate(62 12.45 41.35)"/><ellipse cx="-1.66" cy="47.38" rx="1.44" ry="0.9" fill="#bab6dc" transform="rotate(143 -1.66 47.38)"/><ellipse cx="51.34" cy="47.38" rx="1.44" ry="0.9" fill="#bab6dc" transform="rotate(143 51.34 47.38)"/><ellipse cx="40.43" cy="30.78" rx="1.43" ry="0.89" fill="#aeaad6" transform="rotate(112 40.43 30.78)"/><ellipse cx="6.49" cy="25.25" rx="1.49" ry="0.93" fill="#9e9ad0" transform="rotate(123 6.49 25.25)"/><ellipse cx="10.66" cy="48.93" rx="1.53" ry="0.96" fill="#aeaad6" transform="rotate(73 10.66 48.93)"/><ellipse cx="21.71" cy="19.36" rx="1.25" ry="0.78" fill="#aeaad6" transform="rotate(66 21.71 19.36)"/><ellipse cx="20.45" cy="-0.27" rx="1.21" ry="0.75" fill="#a4a0d0" transform="rotate(8 20.45 -0.27)"/><ellipse cx="20.45" cy="52.73" rx="1.21" ry="0.75" fill="#a4a0d0" transform="rotate(8 20.45 52.73)"/><ellipse cx="1.42" cy="4.94" rx="1.42" ry="0.89" fill="#9e9ad0" transform="rotate(63 1.42 4.94)"/><ellipse cx="54.42" cy="4.94" rx="1.42" ry="0.89" fill="#9e9ad0" transform="rotate(63 54.42 4.94)"/><ellipse cx="-0.38" cy="26.29" rx="1.27" ry="0.8" fill="#bab6dc" transform="rotate(100 -0.38 26.29)"/><ellipse cx="52.62" cy="26.29" rx="1.27" ry="0.8" fill="#bab6dc" transform="rotate(100 52.62 26.29)"/><ellipse cx="29.17" cy="39.65" rx="1.1" ry="0.69" fill="#aeaad6" transform="rotate(86 29.17 39.65)"/><ellipse cx="32.27" cy="29.49" rx="1.36" ry="0.85" fill="#bab6dc" transform="rotate(38 32.27 29.49)"/><ellipse cx="9.58" cy="9.01" rx="1.18" ry="0.74" fill="#9e9ad0" transform="rotate(12 9.58 9.01)"/></pattern><pattern id="purpf" width="40" height="40" patternUnits="userSpaceOnUse"><ellipse cx="18.1" cy="22.39" rx="1.3" ry="0.87" fill="#b4b2d6" transform="rotate(117 18.1 22.39)"/><ellipse cx="7.39" cy="20.48" rx="1.13" ry="0.75" fill="#c0bedc" transform="rotate(104 7.39 20.48)"/><ellipse cx="31.72" cy="3.76" rx="0.93" ry="0.62" fill="#b4b2d6" transform="rotate(65 31.72 3.76)"/><ellipse cx="3.63" cy="32.39" rx="1.17" ry="0.78" fill="#c0bedc" transform="rotate(58 3.63 32.39)"/><ellipse cx="1.68" cy="-0.71" rx="1.33" ry="0.89" fill="#c0bedc" transform="rotate(7 1.68 -0.71)"/><ellipse cx="1.68" cy="39.29" rx="1.33" ry="0.89" fill="#c0bedc" transform="rotate(7 1.68 39.29)"/><ellipse cx="41.68" cy="-0.71" rx="1.33" ry="0.89" fill="#c0bedc" transform="rotate(7 41.68 -0.71)"/><ellipse cx="41.68" cy="39.29" rx="1.33" ry="0.89" fill="#c0bedc" transform="rotate(7 41.68 39.29)"/><ellipse cx="26.16" cy="24.62" rx="0.84" ry="0.56" fill="#b4b2d6" transform="rotate(144 26.16 24.62)"/><ellipse cx="0.6" cy="21.14" rx="0.79" ry="0.52" fill="#b4b2d6" transform="rotate(102 0.6 21.14)"/><ellipse cx="40.6" cy="21.14" rx="0.79" ry="0.52" fill="#b4b2d6" transform="rotate(102 40.6 21.14)"/><ellipse cx="7.61" cy="9.68" rx="0.77" ry="0.51" fill="#b4b2d6" transform="rotate(74 7.61 9.68)"/><ellipse cx="18.56" cy="17.62" rx="1.26" ry="0.84" fill="#c0bedc" transform="rotate(17 18.56 17.62)"/><ellipse cx="20.76" cy="25.61" rx="1.05" ry="0.7" fill="#b4b2d6" transform="rotate(175 20.76 25.61)"/></pattern><pattern id="purp2" width="41" height="41" patternUnits="userSpaceOnUse"><ellipse cx="-1.8" cy="-2.14" rx="1.33" ry="0.83" fill="#9894d0" transform="rotate(147 -1.8 -2.14)"/><ellipse cx="-1.8" cy="38.86" rx="1.33" ry="0.83" fill="#9894d0" transform="rotate(147 -1.8 38.86)"/><ellipse cx="39.2" cy="-2.14" rx="1.33" ry="0.83" fill="#9894d0" transform="rotate(147 39.2 -2.14)"/><ellipse cx="39.2" cy="38.86" rx="1.33" ry="0.83" fill="#9894d0" transform="rotate(147 39.2 38.86)"/><ellipse cx="3.48" cy="34.26" rx="1.87" ry="1.17" fill="#8e8aca" transform="rotate(12 3.48 34.26)"/><ellipse cx="27.46" cy="12.63" rx="1.76" ry="1.1" fill="#a4a0d6" transform="rotate(151 27.46 12.63)"/><ellipse cx="24.88" cy="23.83" rx="1.41" ry="0.88" fill="#9894d0" transform="rotate(174 24.88 23.83)"/><ellipse cx="17.66" cy="16.13" rx="1.86" ry="1.16" fill="#9894d0" transform="rotate(133 17.66 16.13)"/><ellipse cx="18.24" cy="11" rx="1.31" ry="0.82" fill="#9894d0" transform="rotate(68 18.24 11)"/><ellipse cx="1.13" cy="19.06" rx="1.53" ry="0.96" fill="#9894d0" transform="rotate(53 1.13 19.06)"/><ellipse cx="42.13" cy="19.06" rx="1.53" ry="0.96" fill="#9894d0" transform="rotate(53 42.13 19.06)"/><ellipse cx="15.58" cy="36.56" rx="1.7" ry="1.06" fill="#9894d0" transform="rotate(108 15.58 36.56)"/><ellipse cx="22.98" cy="9.68" rx="1.3" ry="0.81" fill="#8e8aca" transform="rotate(8 22.98 9.68)"/><ellipse cx="13.33" cy="5.6" rx="1.69" ry="1.06" fill="#9894d0" transform="rotate(92 13.33 5.6)"/><ellipse cx="-0.05" cy="27.65" rx="1.43" ry="0.89" fill="#a4a0d6" transform="rotate(44 -0.05 27.65)"/><ellipse cx="40.95" cy="27.65" rx="1.43" ry="0.89" fill="#a4a0d6" transform="rotate(44 40.95 27.65)"/><ellipse cx="36.64" cy="32.67" rx="1.87" ry="1.17" fill="#9894d0" transform="rotate(172 36.64 32.67)"/><ellipse cx="14.51" cy="-0.78" rx="2.05" ry="1.28" fill="#9894d0" transform="rotate(21 14.51 -0.78)"/><ellipse cx="14.51" cy="40.22" rx="2.05" ry="1.28" fill="#9894d0" transform="rotate(21 14.51 40.22)"/><ellipse cx="6.61" cy="30.91" rx="1.85" ry="1.16" fill="#9894d0" transform="rotate(17 6.61 30.91)"/><ellipse cx="18.92" cy="21.74" rx="1.67" ry="1.05" fill="#9894d0" transform="rotate(10 18.92 21.74)"/><ellipse cx="37.92" cy="20.53" rx="1.95" ry="1.22" fill="#8e8aca" transform="rotate(5 37.92 20.53)"/><ellipse cx="29.67" cy="19.95" rx="1.46" ry="0.91" fill="#a4a0d6" transform="rotate(65 29.67 19.95)"/><ellipse cx="13.31" cy="28.68" rx="1.41" ry="0.88" fill="#9894d0" transform="rotate(40 13.31 28.68)"/><ellipse cx="37.23" cy="10.99" rx="2.01" ry="1.26" fill="#8e8aca" transform="rotate(47 37.23 10.99)"/><ellipse cx="24.11" cy="12.79" rx="1.45" ry="0.9" fill="#8e8aca" transform="rotate(177 24.11 12.79)"/><ellipse cx="20.99" cy="-2.7" rx="1.78" ry="1.11" fill="#9894d0" transform="rotate(98 20.99 -2.7)"/><ellipse cx="20.99" cy="38.3" rx="1.78" ry="1.11" fill="#9894d0" transform="rotate(98 20.99 38.3)"/><ellipse cx="37.21" cy="7.85" rx="1.88" ry="1.17" fill="#8e8aca" transform="rotate(11 37.21 7.85)"/></pattern><pattern id="purp2B" width="59" height="59" patternUnits="userSpaceOnUse"><ellipse cx="56.53" cy="8.28" rx="1.3" ry="0.81" fill="#8e8aca" transform="rotate(71 56.53 8.28)"/><ellipse cx="-0.08" cy="10.87" rx="1.38" ry="0.86" fill="#9894d0" transform="rotate(124 -0.08 10.87)"/><ellipse cx="58.92" cy="10.87" rx="1.38" ry="0.86" fill="#9894d0" transform="rotate(124 58.92 10.87)"/><ellipse cx="38.43" cy="20.39" rx="1.99" ry="1.24" fill="#8e8aca" transform="rotate(7 38.43 20.39)"/><ellipse cx="13.67" cy="-2.39" rx="1.54" ry="0.96" fill="#a4a0d6" transform="rotate(1 13.67 -2.39)"/><ellipse cx="13.67" cy="56.61" rx="1.54" ry="0.96" fill="#a4a0d6" transform="rotate(1 13.67 56.61)"/><ellipse cx="35.47" cy="54.99" rx="1.83" ry="1.14" fill="#9894d0" transform="rotate(161 35.47 54.99)"/><ellipse cx="54.51" cy="41.78" rx="1.32" ry="0.82" fill="#a4a0d6" transform="rotate(169 54.51 41.78)"/><ellipse cx="52" cy="34.78" rx="1.53" ry="0.96" fill="#9894d0" transform="rotate(113 52 34.78)"/><ellipse cx="11.22" cy="50.14" rx="1.75" ry="1.09" fill="#8e8aca" transform="rotate(110 11.22 50.14)"/><ellipse cx="55.34" cy="45.66" rx="2.05" ry="1.28" fill="#9894d0" transform="rotate(90 55.34 45.66)"/><ellipse cx="33.41" cy="41.2" rx="1.77" ry="1.11" fill="#a4a0d6" transform="rotate(66 33.41 41.2)"/><ellipse cx="46.09" cy="-2.68" rx="1.8" ry="1.13" fill="#8e8aca" transform="rotate(2 46.09 -2.68)"/><ellipse cx="46.09" cy="56.32" rx="1.8" ry="1.13" fill="#8e8aca" transform="rotate(2 46.09 56.32)"/><ellipse cx="8.39" cy="48.69" rx="1.81" ry="1.13" fill="#8e8aca" transform="rotate(97 8.39 48.69)"/><ellipse cx="10.92" cy="2.9" rx="1.71" ry="1.07" fill="#8e8aca" transform="rotate(163 10.92 2.9)"/><ellipse cx="1.9" cy="54.58" rx="1.69" ry="1.05" fill="#9894d0" transform="rotate(44 1.9 54.58)"/><ellipse cx="60.9" cy="54.58" rx="1.69" ry="1.05" fill="#9894d0" transform="rotate(44 60.9 54.58)"/><ellipse cx="30.52" cy="24.16" rx="1.81" ry="1.13" fill="#8e8aca" transform="rotate(141 30.52 24.16)"/><ellipse cx="54.07" cy="18.13" rx="1.58" ry="0.99" fill="#8e8aca" transform="rotate(92 54.07 18.13)"/><ellipse cx="34.37" cy="17.54" rx="1.76" ry="1.1" fill="#a4a0d6" transform="rotate(131 34.37 17.54)"/><ellipse cx="31.17" cy="5.2" rx="2.08" ry="1.3" fill="#a4a0d6" transform="rotate(48 31.17 5.2)"/><ellipse cx="20.99" cy="25.47" rx="1.6" ry="1" fill="#a4a0d6" transform="rotate(71 20.99 25.47)"/><ellipse cx="54.84" cy="56.18" rx="1.69" ry="1.06" fill="#8e8aca" transform="rotate(40 54.84 56.18)"/><ellipse cx="23.64" cy="5.7" rx="2" ry="1.25" fill="#a4a0d6" transform="rotate(130 23.64 5.7)"/><ellipse cx="10.11" cy="32.25" rx="1.56" ry="0.97" fill="#a4a0d6" transform="rotate(178 10.11 32.25)"/><ellipse cx="19.37" cy="21.08" rx="1.43" ry="0.9" fill="#a4a0d6" transform="rotate(34 19.37 21.08)"/><ellipse cx="2.18" cy="31.59" rx="1.92" ry="1.2" fill="#8e8aca" transform="rotate(48 2.18 31.59)"/><ellipse cx="61.18" cy="31.59" rx="1.92" ry="1.2" fill="#8e8aca" transform="rotate(48 61.18 31.59)"/><ellipse cx="38.18" cy="11.89" rx="1.83" ry="1.15" fill="#a4a0d6" transform="rotate(103 38.18 11.89)"/><ellipse cx="3.07" cy="24.23" rx="1.94" ry="1.21" fill="#a4a0d6" transform="rotate(19 3.07 24.23)"/><ellipse cx="54.34" cy="27.17" rx="1.96" ry="1.22" fill="#a4a0d6" transform="rotate(170 54.34 27.17)"/><ellipse cx="29.41" cy="30.91" rx="1.75" ry="1.09" fill="#8e8aca" transform="rotate(134 29.41 30.91)"/><ellipse cx="-0.51" cy="43.88" rx="1.66" ry="1.04" fill="#9894d0" transform="rotate(41 -0.51 43.88)"/><ellipse cx="58.49" cy="43.88" rx="1.66" ry="1.04" fill="#9894d0" transform="rotate(41 58.49 43.88)"/><ellipse cx="42.91" cy="37.95" rx="1.56" ry="0.98" fill="#9894d0" transform="rotate(12 42.91 37.95)"/><ellipse cx="46.27" cy="48.37" rx="1.77" ry="1.1" fill="#a4a0d6" transform="rotate(86 46.27 48.37)"/><ellipse cx="55.62" cy="1.07" rx="1.68" ry="1.05" fill="#9894d0" transform="rotate(13 55.62 1.07)"/><ellipse cx="55.62" cy="60.07" rx="1.68" ry="1.05" fill="#9894d0" transform="rotate(13 55.62 60.07)"/><ellipse cx="40.83" cy="25.63" rx="1.5" ry="0.93" fill="#8e8aca" transform="rotate(134 40.83 25.63)"/><ellipse cx="6.97" cy="12.76" rx="1.48" ry="0.93" fill="#9894d0" transform="rotate(50 6.97 12.76)"/><ellipse cx="51.11" cy="10.66" rx="1.5" ry="0.94" fill="#8e8aca" transform="rotate(92 51.11 10.66)"/><ellipse cx="5.74" cy="27.73" rx="1.45" ry="0.9" fill="#8e8aca" transform="rotate(0 5.74 27.73)"/><ellipse cx="20.3" cy="43.36" rx="2.02" ry="1.26" fill="#8e8aca" transform="rotate(82 20.3 43.36)"/><ellipse cx="49.21" cy="2.26" rx="1.58" ry="0.99" fill="#9894d0" transform="rotate(29 49.21 2.26)"/><ellipse cx="49.21" cy="61.26" rx="1.58" ry="0.99" fill="#9894d0" transform="rotate(29 49.21 61.26)"/><ellipse cx="13.61" cy="15.71" rx="1.33" ry="0.83" fill="#8e8aca" transform="rotate(175 13.61 15.71)"/><ellipse cx="38.11" cy="3.35" rx="1.68" ry="1.05" fill="#9894d0" transform="rotate(161 38.11 3.35)"/></pattern><pattern id="brn" width="31" height="31" patternUnits="userSpaceOnUse"><ellipse cx="7.38" cy="16.87" rx="1.34" ry="1.03" fill="#caa070" transform="rotate(96 7.38 16.87)"/><ellipse cx="18.72" cy="19.4" rx="1.2" ry="0.92" fill="#caa070" transform="rotate(133 18.72 19.4)"/><ellipse cx="0.41" cy="25.96" rx="1.29" ry="0.99" fill="#caa070" transform="rotate(164 0.41 25.96)"/><ellipse cx="31.41" cy="25.96" rx="1.29" ry="0.99" fill="#caa070" transform="rotate(164 31.41 25.96)"/><ellipse cx="7.26" cy="-0.14" rx="1.38" ry="1.06" fill="#d4b088" transform="rotate(174 7.26 -0.14)"/><ellipse cx="7.26" cy="30.86" rx="1.38" ry="1.06" fill="#d4b088" transform="rotate(174 7.26 30.86)"/><ellipse cx="25.93" cy="14.77" rx="1.46" ry="1.12" fill="#d4b088" transform="rotate(26 25.93 14.77)"/><ellipse cx="4.67" cy="19.68" rx="1.56" ry="1.2" fill="#d4b088" transform="rotate(129 4.67 19.68)"/><ellipse cx="16.22" cy="22.98" rx="1.48" ry="1.13" fill="#a46a28" transform="rotate(110 16.22 22.98)"/><ellipse cx="1.98" cy="23.51" rx="1.44" ry="1.11" fill="#b8864a" transform="rotate(60 1.98 23.51)"/><ellipse cx="32.98" cy="23.51" rx="1.44" ry="1.11" fill="#b8864a" transform="rotate(60 32.98 23.51)"/><ellipse cx="22.14" cy="28.55" rx="1.35" ry="1.04" fill="#a46a28" transform="rotate(111 22.14 28.55)"/><ellipse cx="27.24" cy="3.02" rx="1.23" ry="0.95" fill="#a46a28" transform="rotate(133 27.24 3.02)"/><ellipse cx="19.43" cy="9.33" rx="1.4" ry="1.08" fill="#a46a28" transform="rotate(140 19.43 9.33)"/><ellipse cx="11.96" cy="10.88" rx="1.44" ry="1.1" fill="#a46a28" transform="rotate(2 11.96 10.88)"/><ellipse cx="18.11" cy="28.03" rx="1.48" ry="1.14" fill="#caa070" transform="rotate(148 18.11 28.03)"/><ellipse cx="20.81" cy="5.06" rx="1.56" ry="1.2" fill="#a46a28" transform="rotate(5 20.81 5.06)"/><ellipse cx="26.47" cy="-0.32" rx="1.21" ry="0.93" fill="#caa070" transform="rotate(157 26.47 -0.32)"/><ellipse cx="26.47" cy="30.68" rx="1.21" ry="0.93" fill="#caa070" transform="rotate(157 26.47 30.68)"/><ellipse cx="9.11" cy="23.83" rx="1.57" ry="1.21" fill="#d4b088" transform="rotate(161 9.11 23.83)"/><ellipse cx="1.37" cy="19.05" rx="1.19" ry="0.92" fill="#c08c46" transform="rotate(15 1.37 19.05)"/><ellipse cx="32.37" cy="19.05" rx="1.19" ry="0.92" fill="#c08c46" transform="rotate(15 32.37 19.05)"/><ellipse cx="22.27" cy="10.26" rx="1.57" ry="1.21" fill="#b8864a" transform="rotate(160 22.27 10.26)"/><ellipse cx="-0.6" cy="15.67" rx="1.62" ry="1.25" fill="#a46a28" transform="rotate(119 -0.6 15.67)"/><ellipse cx="30.4" cy="15.67" rx="1.62" ry="1.25" fill="#a46a28" transform="rotate(119 30.4 15.67)"/><ellipse cx="9.6" cy="2.39" rx="1.44" ry="1.11" fill="#a46a28" transform="rotate(173 9.6 2.39)"/><ellipse cx="9.6" cy="33.39" rx="1.44" ry="1.11" fill="#a46a28" transform="rotate(173 9.6 33.39)"/><ellipse cx="0.97" cy="6.12" rx="1.36" ry="1.04" fill="#a46a28" transform="rotate(155 0.97 6.12)"/><ellipse cx="31.97" cy="6.12" rx="1.36" ry="1.04" fill="#a46a28" transform="rotate(155 31.97 6.12)"/><ellipse cx="26.9" cy="9.73" rx="1.61" ry="1.24" fill="#b8864a" transform="rotate(71 26.9 9.73)"/></pattern><pattern id="brnB" width="43" height="43" patternUnits="userSpaceOnUse"><ellipse cx="11.14" cy="29.47" rx="1.48" ry="1.14" fill="#a46a28" transform="rotate(38 11.14 29.47)"/><ellipse cx="36.52" cy="7.99" rx="1.27" ry="0.98" fill="#d4b088" transform="rotate(76 36.52 7.99)"/><ellipse cx="6.33" cy="9.68" rx="1.5" ry="1.16" fill="#a46a28" transform="rotate(22 6.33 9.68)"/><ellipse cx="5.6" cy="22.85" rx="1.27" ry="0.97" fill="#a46a28" transform="rotate(13 5.6 22.85)"/><ellipse cx="12.67" cy="18.56" rx="1.55" ry="1.19" fill="#b07a34" transform="rotate(42 12.67 18.56)"/><ellipse cx="26.16" cy="0.62" rx="1.3" ry="1" fill="#9a6026" transform="rotate(3 26.16 0.62)"/><ellipse cx="26.16" cy="43.62" rx="1.3" ry="1" fill="#9a6026" transform="rotate(3 26.16 43.62)"/><ellipse cx="6.31" cy="37.47" rx="1.54" ry="1.18" fill="#b07a34" transform="rotate(134 6.31 37.47)"/><ellipse cx="34.66" cy="35.53" rx="1.51" ry="1.16" fill="#9a6026" transform="rotate(69 34.66 35.53)"/><ellipse cx="-2.18" cy="34.13" rx="1.29" ry="0.99" fill="#b07a34" transform="rotate(85 -2.18 34.13)"/><ellipse cx="40.82" cy="34.13" rx="1.29" ry="0.99" fill="#b07a34" transform="rotate(85 40.82 34.13)"/><ellipse cx="36.55" cy="20.93" rx="1.51" ry="1.16" fill="#9a6026" transform="rotate(108 36.55 20.93)"/><ellipse cx="24.26" cy="18.47" rx="1.34" ry="1.03" fill="#c08c46" transform="rotate(159 24.26 18.47)"/><ellipse cx="18.48" cy="13.49" rx="1.22" ry="0.94" fill="#9a6026" transform="rotate(179 18.48 13.49)"/><ellipse cx="29.71" cy="23.83" rx="1.51" ry="1.16" fill="#a46a28" transform="rotate(10 29.71 23.83)"/><ellipse cx="5.8" cy="29.1" rx="1.37" ry="1.06" fill="#b07a34" transform="rotate(24 5.8 29.1)"/><ellipse cx="17.02" cy="5.62" rx="1.39" ry="1.07" fill="#a46a28" transform="rotate(103 17.02 5.62)"/><ellipse cx="10.12" cy="10.13" rx="1.26" ry="0.97" fill="#caa070" transform="rotate(120 10.12 10.13)"/><ellipse cx="-1.99" cy="16.76" rx="1.5" ry="1.15" fill="#caa070" transform="rotate(68 -1.99 16.76)"/><ellipse cx="41.01" cy="16.76" rx="1.5" ry="1.15" fill="#caa070" transform="rotate(68 41.01 16.76)"/><ellipse cx="40.12" cy="1.86" rx="1.23" ry="0.95" fill="#c08c46" transform="rotate(38 40.12 1.86)"/><ellipse cx="40.12" cy="44.86" rx="1.23" ry="0.95" fill="#c08c46" transform="rotate(38 40.12 44.86)"/><ellipse cx="6.87" cy="17.78" rx="1.57" ry="1.2" fill="#caa070" transform="rotate(77 6.87 17.78)"/><ellipse cx="36.71" cy="16.11" rx="1.5" ry="1.15" fill="#b07a34" transform="rotate(134 36.71 16.11)"/><ellipse cx="5.89" cy="-1.23" rx="1.44" ry="1.11" fill="#b07a34" transform="rotate(136 5.89 -1.23)"/><ellipse cx="5.89" cy="41.77" rx="1.44" ry="1.11" fill="#b07a34" transform="rotate(136 5.89 41.77)"/><ellipse cx="31.08" cy="9.1" rx="1.45" ry="1.12" fill="#a46a28" transform="rotate(70 31.08 9.1)"/><ellipse cx="24.98" cy="25.42" rx="1.33" ry="1.03" fill="#a46a28" transform="rotate(57 24.98 25.42)"/><ellipse cx="31.29" cy="14.68" rx="1.3" ry="1" fill="#c08c46" transform="rotate(95 31.29 14.68)"/><ellipse cx="9.7" cy="2.97" rx="1.46" ry="1.13" fill="#caa070" transform="rotate(40 9.7 2.97)"/><ellipse cx="0.13" cy="-0.09" rx="1.23" ry="0.94" fill="#caa070" transform="rotate(104 0.13 -0.09)"/><ellipse cx="0.13" cy="42.91" rx="1.23" ry="0.94" fill="#caa070" transform="rotate(104 0.13 42.91)"/><ellipse cx="43.13" cy="-0.09" rx="1.23" ry="0.94" fill="#caa070" transform="rotate(104 43.13 -0.09)"/><ellipse cx="43.13" cy="42.91" rx="1.23" ry="0.94" fill="#caa070" transform="rotate(104 43.13 42.91)"/><ellipse cx="12.96" cy="11.56" rx="1.44" ry="1.11" fill="#a46a28" transform="rotate(39 12.96 11.56)"/><ellipse cx="3.33" cy="20.21" rx="1.34" ry="1.03" fill="#caa070" transform="rotate(148 3.33 20.21)"/><ellipse cx="35.88" cy="0.25" rx="1.32" ry="1.02" fill="#d4b088" transform="rotate(118 35.88 0.25)"/><ellipse cx="35.88" cy="43.25" rx="1.32" ry="1.02" fill="#d4b088" transform="rotate(118 35.88 43.25)"/><ellipse cx="21.35" cy="-1.3" rx="1.41" ry="1.08" fill="#c08c46" transform="rotate(96 21.35 -1.3)"/><ellipse cx="21.35" cy="41.7" rx="1.41" ry="1.08" fill="#c08c46" transform="rotate(96 21.35 41.7)"/><ellipse cx="20.39" cy="28.79" rx="1.3" ry="1" fill="#9a6026" transform="rotate(121 20.39 28.79)"/><ellipse cx="36.51" cy="11.12" rx="1.44" ry="1.11" fill="#c08c46" transform="rotate(7 36.51 11.12)"/><ellipse cx="8.77" cy="15.09" rx="1.19" ry="0.91" fill="#d4b088" transform="rotate(8 8.77 15.09)"/><ellipse cx="8.19" cy="20.67" rx="1.42" ry="1.09" fill="#caa070" transform="rotate(128 8.19 20.67)"/><ellipse cx="16.7" cy="1.44" rx="1.23" ry="0.94" fill="#c08c46" transform="rotate(32 16.7 1.44)"/><ellipse cx="16.7" cy="44.44" rx="1.23" ry="0.94" fill="#c08c46" transform="rotate(32 16.7 44.44)"/><ellipse cx="5.56" cy="34.56" rx="1.32" ry="1.01" fill="#b07a34" transform="rotate(1 5.56 34.56)"/><ellipse cx="38.39" cy="23.45" rx="1.23" ry="0.94" fill="#d4b088" transform="rotate(34 38.39 23.45)"/><ellipse cx="0.21" cy="10.67" rx="1.56" ry="1.2" fill="#a46a28" transform="rotate(20 0.21 10.67)"/><ellipse cx="43.21" cy="10.67" rx="1.56" ry="1.2" fill="#a46a28" transform="rotate(20 43.21 10.67)"/><ellipse cx="14.83" cy="34.48" rx="1.27" ry="0.97" fill="#caa070" transform="rotate(146 14.83 34.48)"/><ellipse cx="30.89" cy="28.66" rx="1.6" ry="1.23" fill="#d4b088" transform="rotate(14 30.89 28.66)"/><ellipse cx="38.6" cy="4.96" rx="1.23" ry="0.95" fill="#c08c46" transform="rotate(166 38.6 4.96)"/><ellipse cx="22.96" cy="34.93" rx="1.41" ry="1.09" fill="#9a6026" transform="rotate(109 22.96 34.93)"/></pattern><pattern id="brn2" width="47" height="47" patternUnits="userSpaceOnUse"><ellipse cx="11.09" cy="4.85" rx="2.7" ry="1.8" fill="#cc8c5c" transform="rotate(108 11.09 4.85)"/><ellipse cx="-3.86" cy="37.62" rx="2.97" ry="1.98" fill="#cc8c5c" transform="rotate(29 -3.86 37.62)"/><ellipse cx="43.14" cy="37.62" rx="2.97" ry="1.98" fill="#cc8c5c" transform="rotate(29 43.14 37.62)"/><ellipse cx="10.43" cy="25.22" rx="2.61" ry="1.74" fill="#b8682e" transform="rotate(15 10.43 25.22)"/><ellipse cx="37.62" cy="9.09" rx="2.63" ry="1.75" fill="#b8682e" transform="rotate(43 37.62 9.09)"/><ellipse cx="29.47" cy="34.4" rx="3.04" ry="2.03" fill="#a85a26" transform="rotate(155 29.47 34.4)"/><ellipse cx="31.57" cy="23.78" rx="2.53" ry="1.69" fill="#b8682e" transform="rotate(139 31.57 23.78)"/><ellipse cx="22.26" cy="4.2" rx="3.1" ry="2.07" fill="#c88050" transform="rotate(149 22.26 4.2)"/><ellipse cx="40.68" cy="25.74" rx="2.63" ry="1.75" fill="#cc8c5c" transform="rotate(82 40.68 25.74)"/><ellipse cx="14.34" cy="38.19" rx="2.43" ry="1.62" fill="#b8682e" transform="rotate(31 14.34 38.19)"/><ellipse cx="2.18" cy="29.44" rx="2.61" ry="1.74" fill="#e0c4b0" transform="rotate(74 2.18 29.44)"/><ellipse cx="49.18" cy="29.44" rx="2.61" ry="1.74" fill="#e0c4b0" transform="rotate(74 49.18 29.44)"/><ellipse cx="25.13" cy="22.15" rx="2.66" ry="1.77" fill="#9a4c1c" transform="rotate(166 25.13 22.15)"/><ellipse cx="-0.13" cy="9.19" rx="2.71" ry="1.81" fill="#cc8c5c" transform="rotate(122 -0.13 9.19)"/><ellipse cx="46.87" cy="9.19" rx="2.71" ry="1.81" fill="#cc8c5c" transform="rotate(122 46.87 9.19)"/><ellipse cx="26.25" cy="42.5" rx="2.48" ry="1.65" fill="#cc8c5c" transform="rotate(61 26.25 42.5)"/><ellipse cx="28.93" cy="11.16" rx="2.65" ry="1.77" fill="#c88050" transform="rotate(105 28.93 11.16)"/><ellipse cx="32.77" cy="42.11" rx="3.12" ry="2.08" fill="#c88050" transform="rotate(9 32.77 42.11)"/><ellipse cx="13.58" cy="-1.6" rx="2.98" ry="1.99" fill="#cc8c5c" transform="rotate(107 13.58 -1.6)"/><ellipse cx="13.58" cy="45.4" rx="2.98" ry="1.99" fill="#cc8c5c" transform="rotate(107 13.58 45.4)"/><ellipse cx="-1.79" cy="15.57" rx="2.41" ry="1.6" fill="#c88050" transform="rotate(63 -1.79 15.57)"/><ellipse cx="45.21" cy="15.57" rx="2.41" ry="1.6" fill="#c88050" transform="rotate(63 45.21 15.57)"/><ellipse cx="17.05" cy="13.65" rx="2.47" ry="1.65" fill="#9a4c1c" transform="rotate(55 17.05 13.65)"/></pattern><pattern id="brn2B" width="61" height="61" patternUnits="userSpaceOnUse"><ellipse cx="6.52" cy="42.86" rx="2.89" ry="1.93" fill="#d8a888" transform="rotate(72 6.52 42.86)"/><ellipse cx="57.36" cy="16.54" rx="2.59" ry="1.73" fill="#dcbcaa" transform="rotate(0 57.36 16.54)"/><ellipse cx="44.78" cy="40.17" rx="2.63" ry="1.75" fill="#dcbcaa" transform="rotate(60 44.78 40.17)"/><ellipse cx="41.74" cy="24.2" rx="2.98" ry="1.99" fill="#b8682e" transform="rotate(91 41.74 24.2)"/><ellipse cx="7.22" cy="13.62" rx="3.08" ry="2.05" fill="#c47a40" transform="rotate(31 7.22 13.62)"/><ellipse cx="21.84" cy="15.88" rx="3" ry="2" fill="#d4a080" transform="rotate(97 21.84 15.88)"/><ellipse cx="38.53" cy="9.13" rx="2.81" ry="1.88" fill="#e2c8b6" transform="rotate(75 38.53 9.13)"/><ellipse cx="7.5" cy="20.56" rx="2.46" ry="1.64" fill="#9a4c1c" transform="rotate(85 7.5 20.56)"/><ellipse cx="12.47" cy="-1.34" rx="2.7" ry="1.8" fill="#b8682e" transform="rotate(64 12.47 -1.34)"/><ellipse cx="12.47" cy="59.66" rx="2.7" ry="1.8" fill="#b8682e" transform="rotate(64 12.47 59.66)"/><ellipse cx="-0.58" cy="26.76" rx="2.86" ry="1.9" fill="#cc8c5c" transform="rotate(72 -0.58 26.76)"/><ellipse cx="60.42" cy="26.76" rx="2.86" ry="1.9" fill="#cc8c5c" transform="rotate(72 60.42 26.76)"/><ellipse cx="53.23" cy="41.9" rx="2.48" ry="1.66" fill="#dcb49a" transform="rotate(55 53.23 41.9)"/><ellipse cx="35.93" cy="38.66" rx="2.54" ry="1.69" fill="#dcbcaa" transform="rotate(149 35.93 38.66)"/><ellipse cx="5.78" cy="53.36" rx="2.79" ry="1.86" fill="#e2c8b6" transform="rotate(6 5.78 53.36)"/><ellipse cx="11.82" cy="27.61" rx="2.56" ry="1.71" fill="#c47a40" transform="rotate(112 11.82 27.61)"/><ellipse cx="48.69" cy="30.53" rx="2.48" ry="1.65" fill="#9a4c1c" transform="rotate(147 48.69 30.53)"/><ellipse cx="49.91" cy="5.46" rx="2.61" ry="1.74" fill="#d4a080" transform="rotate(153 49.91 5.46)"/><ellipse cx="32.07" cy="5.67" rx="2.76" ry="1.84" fill="#d4a080" transform="rotate(64 32.07 5.67)"/><ellipse cx="41.81" cy="32.63" rx="2.74" ry="1.83" fill="#d4a080" transform="rotate(51 41.81 32.63)"/><ellipse cx="29.58" cy="26.66" rx="2.85" ry="1.9" fill="#b8682e" transform="rotate(96 29.58 26.66)"/><ellipse cx="52.79" cy="57.28" rx="2.45" ry="1.63" fill="#e2c8b6" transform="rotate(62 52.79 57.28)"/><ellipse cx="25.81" cy="21.2" rx="2.83" ry="1.88" fill="#d4a080" transform="rotate(133 25.81 21.2)"/><ellipse cx="11.51" cy="38.33" rx="2.75" ry="1.83" fill="#c47a40" transform="rotate(56 11.51 38.33)"/><ellipse cx="19.06" cy="-1.04" rx="2.84" ry="1.89" fill="#d8a888" transform="rotate(49 19.06 -1.04)"/><ellipse cx="19.06" cy="59.96" rx="2.84" ry="1.89" fill="#d8a888" transform="rotate(49 19.06 59.96)"/><ellipse cx="22.49" cy="34.23" rx="2.85" ry="1.9" fill="#dcb49a" transform="rotate(19 22.49 34.23)"/><ellipse cx="51.33" cy="22.35" rx="2.69" ry="1.79" fill="#d8a888" transform="rotate(23 51.33 22.35)"/><ellipse cx="-2.44" cy="33.3" rx="2.98" ry="1.99" fill="#e2c8b6" transform="rotate(169 -2.44 33.3)"/><ellipse cx="58.56" cy="33.3" rx="2.98" ry="1.99" fill="#e2c8b6" transform="rotate(169 58.56 33.3)"/><ellipse cx="23.21" cy="47.89" rx="2.59" ry="1.73" fill="#dcbcaa" transform="rotate(12 23.21 47.89)"/><ellipse cx="13.56" cy="8.94" rx="2.94" ry="1.96" fill="#b8682e" transform="rotate(48 13.56 8.94)"/><ellipse cx="28.66" cy="56.93" rx="3.05" ry="2.03" fill="#dcb49a" transform="rotate(108 28.66 56.93)"/><ellipse cx="32.22" cy="18.07" rx="3.13" ry="2.09" fill="#e2c8b6" transform="rotate(57 32.22 18.07)"/></pattern><pattern id="brnring" width="22" height="22" patternUnits="userSpaceOnUse"><ellipse cx="13.7" cy="16.32" rx="2.38" ry="1.4" fill="#7a4210" transform="rotate(65 13.7 16.32)"/><ellipse cx="-1.27" cy="16.28" rx="2.48" ry="1.46" fill="#7a4210" transform="rotate(91 -1.27 16.28)"/><ellipse cx="20.73" cy="16.28" rx="2.48" ry="1.46" fill="#7a4210" transform="rotate(91 20.73 16.28)"/><ellipse cx="0.64" cy="10.24" rx="2.5" ry="1.47" fill="#9a6020" transform="rotate(4 0.64 10.24)"/><ellipse cx="22.64" cy="10.24" rx="2.5" ry="1.47" fill="#9a6020" transform="rotate(4 22.64 10.24)"/><ellipse cx="10.32" cy="5.42" rx="2.16" ry="1.27" fill="#9a6020" transform="rotate(93 10.32 5.42)"/><ellipse cx="12.63" cy="0.29" rx="1.88" ry="1.11" fill="#9a6020" transform="rotate(148 12.63 0.29)"/><ellipse cx="12.63" cy="22.29" rx="1.88" ry="1.11" fill="#9a6020" transform="rotate(148 12.63 22.29)"/><ellipse cx="6.15" cy="-1.84" rx="2.35" ry="1.38" fill="#7a4210" transform="rotate(115 6.15 -1.84)"/><ellipse cx="6.15" cy="20.16" rx="2.35" ry="1.38" fill="#7a4210" transform="rotate(115 6.15 20.16)"/><ellipse cx="-2.83" cy="4.61" rx="1.88" ry="1.11" fill="#7a4210" transform="rotate(46 -2.83 4.61)"/><ellipse cx="19.17" cy="4.61" rx="1.88" ry="1.11" fill="#7a4210" transform="rotate(46 19.17 4.61)"/><ellipse cx="6.95" cy="10.59" rx="2.3" ry="1.35" fill="#8a5018" transform="rotate(30 6.95 10.59)"/></pattern><pattern id="brnband" width="29" height="29" patternUnits="userSpaceOnUse"><ellipse cx="-1.01" cy="0.34" rx="2.33" ry="1.37" fill="#6a360c" transform="rotate(157 -1.01 0.34)"/><ellipse cx="-1.01" cy="29.34" rx="2.33" ry="1.37" fill="#6a360c" transform="rotate(157 -1.01 29.34)"/><ellipse cx="27.99" cy="0.34" rx="2.33" ry="1.37" fill="#6a360c" transform="rotate(157 27.99 0.34)"/><ellipse cx="27.99" cy="29.34" rx="2.33" ry="1.37" fill="#6a360c" transform="rotate(157 27.99 29.34)"/><ellipse cx="4.58" cy="-0.4" rx="1.71" ry="1.01" fill="#9a6020" transform="rotate(132 4.58 -0.4)"/><ellipse cx="4.58" cy="28.6" rx="1.71" ry="1.01" fill="#9a6020" transform="rotate(132 4.58 28.6)"/><ellipse cx="25.51" cy="19.76" rx="2.43" ry="1.43" fill="#7a4210" transform="rotate(36 25.51 19.76)"/><ellipse cx="-0.01" cy="6.95" rx="1.99" ry="1.17" fill="#6a360c" transform="rotate(63 -0.01 6.95)"/><ellipse cx="28.99" cy="6.95" rx="1.99" ry="1.17" fill="#6a360c" transform="rotate(63 28.99 6.95)"/><ellipse cx="20.54" cy="8.14" rx="1.92" ry="1.13" fill="#9a6020" transform="rotate(131 20.54 8.14)"/><ellipse cx="6.63" cy="24.88" rx="2.44" ry="1.44" fill="#6a360c" transform="rotate(83 6.63 24.88)"/><ellipse cx="14.83" cy="6.71" rx="2.09" ry="1.23" fill="#8a5018" transform="rotate(175 14.83 6.71)"/><ellipse cx="12.18" cy="2.29" rx="2.18" ry="1.28" fill="#a87838" transform="rotate(80 12.18 2.29)"/><ellipse cx="12.18" cy="31.29" rx="2.18" ry="1.28" fill="#a87838" transform="rotate(80 12.18 31.29)"/><ellipse cx="10.44" cy="16.52" rx="2.49" ry="1.47" fill="#9a6020" transform="rotate(81 10.44 16.52)"/><ellipse cx="18.72" cy="11.75" rx="2.43" ry="1.43" fill="#7a4210" transform="rotate(154 18.72 11.75)"/><ellipse cx="-0.14" cy="14.22" rx="2.5" ry="1.47" fill="#6a360c" transform="rotate(179 -0.14 14.22)"/><ellipse cx="28.86" cy="14.22" rx="2.5" ry="1.47" fill="#6a360c" transform="rotate(179 28.86 14.22)"/><ellipse cx="2.9" cy="3.37" rx="1.74" ry="1.02" fill="#8a5018" transform="rotate(87 2.9 3.37)"/><ellipse cx="13.59" cy="24.37" rx="2.17" ry="1.28" fill="#7a4210" transform="rotate(44 13.59 24.37)"/><ellipse cx="14.5" cy="13.95" rx="2.53" ry="1.49" fill="#a87838" transform="rotate(27 14.5 13.95)"/><ellipse cx="17.21" cy="20.08" rx="1.92" ry="1.13" fill="#a87838" transform="rotate(102 17.21 20.08)"/><ellipse cx="25.91" cy="25.88" rx="1.71" ry="1.01" fill="#6a360c" transform="rotate(32 25.91 25.88)"/></pattern><pattern id="brnband2" width="37" height="37" patternUnits="userSpaceOnUse"><ellipse cx="13.38" cy="17.78" rx="2.64" ry="1.65" fill="#b88848" transform="rotate(27 13.38 17.78)"/><ellipse cx="9.58" cy="23.49" rx="2.25" ry="1.41" fill="#b88848" transform="rotate(169 9.58 23.49)"/><ellipse cx="11.18" cy="12.4" rx="2.38" ry="1.49" fill="#6a360c" transform="rotate(14 11.18 12.4)"/><ellipse cx="27.51" cy="11.47" rx="3" ry="1.87" fill="#9a6020" transform="rotate(20 27.51 11.47)"/><ellipse cx="-1.62" cy="9.38" rx="3.1" ry="1.94" fill="#9a6020" transform="rotate(13 -1.62 9.38)"/><ellipse cx="35.38" cy="9.38" rx="3.1" ry="1.94" fill="#9a6020" transform="rotate(13 35.38 9.38)"/><ellipse cx="29.88" cy="24.69" rx="2.27" ry="1.42" fill="#a87838" transform="rotate(85 29.88 24.69)"/><ellipse cx="16.9" cy="23.19" rx="2.52" ry="1.58" fill="#a87838" transform="rotate(43 16.9 23.19)"/><ellipse cx="23.79" cy="-1.91" rx="2.52" ry="1.58" fill="#7a4210" transform="rotate(93 23.79 -1.91)"/><ellipse cx="23.79" cy="35.09" rx="2.52" ry="1.58" fill="#7a4210" transform="rotate(93 23.79 35.09)"/><ellipse cx="1.63" cy="-0.97" rx="3.04" ry="1.9" fill="#9a6020" transform="rotate(72 1.63 -0.97)"/><ellipse cx="1.63" cy="36.03" rx="3.04" ry="1.9" fill="#9a6020" transform="rotate(72 1.63 36.03)"/><ellipse cx="38.63" cy="-0.97" rx="3.04" ry="1.9" fill="#9a6020" transform="rotate(72 38.63 -0.97)"/><ellipse cx="38.63" cy="36.03" rx="3.04" ry="1.9" fill="#9a6020" transform="rotate(72 38.63 36.03)"/><ellipse cx="5.72" cy="11.26" rx="2.68" ry="1.68" fill="#9a6020" transform="rotate(16 5.72 11.26)"/><ellipse cx="2.43" cy="25.87" rx="2.94" ry="1.84" fill="#8a5018" transform="rotate(48 2.43 25.87)"/><ellipse cx="39.43" cy="25.87" rx="2.94" ry="1.84" fill="#8a5018" transform="rotate(48 39.43 25.87)"/><ellipse cx="-3.01" cy="17.58" rx="3" ry="1.88" fill="#9a6020" transform="rotate(53 -3.01 17.58)"/><ellipse cx="33.99" cy="17.58" rx="3" ry="1.88" fill="#9a6020" transform="rotate(53 33.99 17.58)"/><ellipse cx="28.32" cy="5.67" rx="2.85" ry="1.78" fill="#b88848" transform="rotate(3 28.32 5.67)"/><ellipse cx="9.45" cy="6.59" rx="2.25" ry="1.41" fill="#b88848" transform="rotate(0 9.45 6.59)"/><ellipse cx="4" cy="4.29" rx="2.66" ry="1.66" fill="#8a5018" transform="rotate(85 4 4.29)"/><ellipse cx="18.14" cy="2.94" rx="2.85" ry="1.78" fill="#9a6020" transform="rotate(155 18.14 2.94)"/><ellipse cx="18.14" cy="39.94" rx="2.85" ry="1.78" fill="#9a6020" transform="rotate(155 18.14 39.94)"/></pattern><pattern id="gtex" width="47" height="47" patternUnits="userSpaceOnUse"><ellipse cx="37.29" cy="38.63" rx="1.31" ry="0.59" fill="#d2d0cb" transform="rotate(154 37.29 38.63)"/><ellipse cx="12.3" cy="0.02" rx="1.46" ry="0.67" fill="#c6cbc4" transform="rotate(114 12.3 0.02)"/><ellipse cx="12.3" cy="47.02" rx="1.46" ry="0.67" fill="#c6cbc4" transform="rotate(114 12.3 47.02)"/><ellipse cx="22.1" cy="35.71" rx="1.21" ry="0.55" fill="#c6cbc4" transform="rotate(19 22.1 35.71)"/><ellipse cx="36.2" cy="12.82" rx="1.59" ry="0.72" fill="#c6cbc4" transform="rotate(120 36.2 12.82)"/><ellipse cx="34.3" cy="19.46" rx="1.35" ry="0.62" fill="#c8c8d6" transform="rotate(104 34.3 19.46)"/><ellipse cx="32.06" cy="9.07" rx="1.37" ry="0.62" fill="#d2d0cb" transform="rotate(49 32.06 9.07)"/><ellipse cx="37.84" cy="12.48" rx="1.59" ry="0.72" fill="#c8c8d6" transform="rotate(115 37.84 12.48)"/><ellipse cx="32.23" cy="39.68" rx="1.18" ry="0.53" fill="#c6cbc4" transform="rotate(44 32.23 39.68)"/><ellipse cx="4.38" cy="37.61" rx="1.59" ry="0.72" fill="#d2d0cb" transform="rotate(5 4.38 37.61)"/><ellipse cx="20.92" cy="4.41" rx="1.05" ry="0.48" fill="#d2d0cb" transform="rotate(64 20.92 4.41)"/><ellipse cx="29.84" cy="13.69" rx="1.72" ry="0.78" fill="#c8c8d6" transform="rotate(48 29.84 13.69)"/><ellipse cx="27.66" cy="9.44" rx="1.46" ry="0.66" fill="#c8c8d6" transform="rotate(128 27.66 9.44)"/><ellipse cx="16.94" cy="43.84" rx="1.68" ry="0.76" fill="#c6cbc4" transform="rotate(84 16.94 43.84)"/><ellipse cx="24.19" cy="30.29" rx="1.49" ry="0.68" fill="#c8c8d6" transform="rotate(105 24.19 30.29)"/><ellipse cx="37.86" cy="-1.11" rx="0.91" ry="0.41" fill="#c6cbc4" transform="rotate(156 37.86 -1.11)"/><ellipse cx="37.86" cy="45.89" rx="0.91" ry="0.41" fill="#c6cbc4" transform="rotate(156 37.86 45.89)"/><ellipse cx="16.98" cy="28.28" rx="1.15" ry="0.52" fill="#c6cbc4" transform="rotate(68 16.98 28.28)"/><ellipse cx="27.69" cy="4.22" rx="1.65" ry="0.75" fill="#c6cbc4" transform="rotate(168 27.69 4.22)"/><ellipse cx="24.69" cy="5.49" rx="1.46" ry="0.67" fill="#c6cbc4" transform="rotate(125 24.69 5.49)"/><ellipse cx="14.68" cy="9.22" rx="1.31" ry="0.59" fill="#cbc9c3" transform="rotate(96 14.68 9.22)"/><ellipse cx="6.49" cy="9.86" rx="1.64" ry="0.75" fill="#c6cbc4" transform="rotate(78 6.49 9.86)"/><ellipse cx="32.82" cy="0.59" rx="1.56" ry="0.71" fill="#c6cbc4" transform="rotate(82 32.82 0.59)"/><ellipse cx="32.82" cy="47.59" rx="1.56" ry="0.71" fill="#c6cbc4" transform="rotate(82 32.82 47.59)"/><ellipse cx="0.8" cy="15.65" rx="1.68" ry="0.76" fill="#c8c8d6" transform="rotate(168 0.8 15.65)"/><ellipse cx="47.8" cy="15.65" rx="1.68" ry="0.76" fill="#c8c8d6" transform="rotate(168 47.8 15.65)"/><ellipse cx="29.15" cy="14.39" rx="1.21" ry="0.55" fill="#cbc9c3" transform="rotate(158 29.15 14.39)"/><ellipse cx="18.29" cy="5.96" rx="1.76" ry="0.8" fill="#c6cbc4" transform="rotate(177 18.29 5.96)"/><ellipse cx="2.53" cy="19.88" rx="1.54" ry="0.7" fill="#c8c8d6" transform="rotate(81 2.53 19.88)"/><ellipse cx="49.53" cy="19.88" rx="1.54" ry="0.7" fill="#c8c8d6" transform="rotate(81 49.53 19.88)"/><ellipse cx="18.69" cy="-0.89" rx="1.1" ry="0.5" fill="#c6cbc4" transform="rotate(124 18.69 -0.89)"/><ellipse cx="18.69" cy="46.11" rx="1.1" ry="0.5" fill="#c6cbc4" transform="rotate(124 18.69 46.11)"/></pattern><pattern id="lav" width="26" height="26" patternUnits="userSpaceOnUse"><ellipse cx="8.42" cy="3.92" rx="2.03" ry="1.56" fill="#c8c2d8" transform="rotate(147 8.42 3.92)"/><ellipse cx="1.88" cy="13.93" rx="1.88" ry="1.45" fill="#c8c2d8" transform="rotate(114 1.88 13.93)"/><ellipse cx="27.88" cy="13.93" rx="1.88" ry="1.45" fill="#c8c2d8" transform="rotate(114 27.88 13.93)"/><ellipse cx="11.04" cy="21.5" rx="1.75" ry="1.35" fill="#d6d0e0" transform="rotate(98 11.04 21.5)"/><ellipse cx="15" cy="10.31" rx="2.2" ry="1.69" fill="#c8c2d8" transform="rotate(88 15 10.31)"/><ellipse cx="1.21" cy="22.32" rx="1.84" ry="1.42" fill="#cfc9dc" transform="rotate(118 1.21 22.32)"/><ellipse cx="27.21" cy="22.32" rx="1.84" ry="1.42" fill="#cfc9dc" transform="rotate(118 27.21 22.32)"/><ellipse cx="21.22" cy="4.7" rx="1.99" ry="1.53" fill="#d6d0e0" transform="rotate(43 21.22 4.7)"/><ellipse cx="1.63" cy="1.55" rx="1.8" ry="1.38" fill="#c8c2d8" transform="rotate(29 1.63 1.55)"/><ellipse cx="1.63" cy="27.55" rx="1.8" ry="1.38" fill="#c8c2d8" transform="rotate(29 1.63 27.55)"/><ellipse cx="27.63" cy="1.55" rx="1.8" ry="1.38" fill="#c8c2d8" transform="rotate(29 27.63 1.55)"/><ellipse cx="27.63" cy="27.55" rx="1.8" ry="1.38" fill="#c8c2d8" transform="rotate(29 27.63 27.55)"/><ellipse cx="20.65" cy="18.17" rx="1.82" ry="1.4" fill="#d6d0e0" transform="rotate(15 20.65 18.17)"/><ellipse cx="21.84" cy="-1.44" rx="1.94" ry="1.49" fill="#cfc9dc" transform="rotate(73 21.84 -1.44)"/><ellipse cx="21.84" cy="24.56" rx="1.94" ry="1.49" fill="#cfc9dc" transform="rotate(73 21.84 24.56)"/><ellipse cx="17.27" cy="1.58" rx="2.05" ry="1.58" fill="#cfc9dc" transform="rotate(63 17.27 1.58)"/><ellipse cx="17.27" cy="27.58" rx="2.05" ry="1.58" fill="#cfc9dc" transform="rotate(63 17.27 27.58)"/></pattern><filter id="soft" x="-20%" y="-20%" width="140%" height="140%"><feGaussianBlur stdDeviation="5"/></filter><filter id="soft2" x="-10%" y="-10%" width="120%" height="120%"><feGaussianBlur stdDeviation="2"/></filter><filter id="soft8" x="-30%" y="-30%" width="160%" height="160%"><feGaussianBlur stdDeviation="8"/></filter><clipPath id="cp_c1t"><rect x="813.5" y="697.7" width="368.2" height="261.8"/></clipPath><clipPath id="cp_c1b"><rect x="813.5" y="964.5" width="368.2" height="261.8"/></clipPath><clipPath id="cp_c2t"><rect x="1190.2" y="697.7" width="368.2" height="261.8"/></clipPath><clipPath id="cp_c2b"><rect x="1190.2" y="964.5" width="368.2" height="261.8"/></clipPath><clipPath id="cp_c3t"><rect x="1566.3" y="697.7" width="368.2" height="261.8"/></clipPath><clipPath id="cp_c3b"><rect x="1566.3" y="964.5" width="368.2" height="261.8"/></clipPath></defs>
<g clip-path="url(#cp_c1t)">
<rect x="813.5" y="697.7" width="368.2" height="261.8" fill="#dbdcda" />
<polygon points="846.5,697.7 1149.5,697.7 1134.5,734.7 1119.5,779.7 1122.5,848.7 1122.5,848.7 1104.5,857.7 1044.5,869.7 984.5,853.7 939.5,839.7 932.5,830.7 922.5,821.7 908.5,809.7 894.5,799.7 880.1,783.3 866.8,772.7 859.2,756.7 850.5,733.7 846.5,721.7" fill="#e6e5e2" />
<polygon points="846.5,697.7 1149.5,697.7 1134.5,734.7 1119.5,779.7 1122.5,848.7 1122.5,848.7 1104.5,857.7 1044.5,869.7 984.5,853.7 939.5,839.7 932.5,830.7 922.5,821.7 908.5,809.7 894.5,799.7 880.1,783.3 866.8,772.7 859.2,756.7 850.5,733.7 846.5,721.7" fill="url(#gtex)" />
<polygon points="1013.5,697.7 1149.5,697.7 1134.5,734.7 1119.5,779.7 1122.5,817.7 1043.5,807.7 1013.5,757.7" fill="url(#purpf)" opacity="0.8"/>
<polygon points="813.5,697.7 846.5,697.7 846.5,715.7 833.5,720.7 821.5,719.7 813.5,713.7" fill="#e0dedd" />
<polygon points="813.5,697.7 846.5,697.7 846.5,715.7 833.5,720.7 821.5,719.7 813.5,713.7" fill="url(#purpf)" />
<polygon points="846.5,721.7 850.5,733.7 859.2,756.7 866.8,772.7 880.1,783.3 894.5,799.7 908.5,809.7 922.5,821.7 932.5,830.7 939.5,839.7 984.5,853.7 1044.5,869.7 1104.5,857.7 1122.5,848.7 1122.5,818.7 1116.5,818.7 1104.5,821.7 1089.5,827.7 1065.5,821.7 1044.5,830.7 1038.5,839.7 1020.5,833.7 1014.5,818.7 1000.5,819.7 980,816.7 975.5,806.7 961,816.7 951.5,811.7 946.5,802.7 935.5,792.7 932.5,783.7 913.5,775.7 899.5,773.7 903.5,764.7 902.5,754.7 880.5,745.7 880.5,733.7 868.5,722.7 858.5,707.7 853.5,697.7 846.5,697.7 846.5,721.7" fill="#dfdbd2" filter="url(#soft2)"/>
<polygon points="846.5,721.7 850.5,733.7 859.2,756.7 866.8,772.7 880.1,783.3 894.5,799.7 908.5,809.7 922.5,821.7 932.5,830.7 939.5,839.7 984.5,853.7 1044.5,869.7 1104.5,857.7 1122.5,848.7 1122.5,818.7 1116.5,818.7 1104.5,821.7 1089.5,827.7 1065.5,821.7 1044.5,830.7 1038.5,839.7 1020.5,833.7 1014.5,818.7 1000.5,819.7 980,816.7 975.5,806.7 961,816.7 951.5,811.7 946.5,802.7 935.5,792.7 932.5,783.7 913.5,775.7 899.5,773.7 903.5,764.7 902.5,754.7 880.5,745.7 880.5,733.7 868.5,722.7 858.5,707.7 853.5,697.7 846.5,697.7 846.5,721.7" fill="url(#gtex)" />
<polyline points="1122.5,818.7 1116.5,818.7 1104.5,821.7 1089.5,827.7 1065.5,821.7 1044.5,830.7 1038.5,839.7 1020.5,833.7 1014.5,818.7 1000.5,819.7 980,816.7 975.5,806.7 961,816.7 951.5,811.7 946.5,802.7 935.5,792.7 932.5,783.7 913.5,775.7 899.5,773.7 903.5,764.7 902.5,754.7 880.5,745.7 880.5,733.7 868.5,722.7 858.5,707.7" fill="none" stroke="#d3c6b0" stroke-width="3" opacity="0.75" filter="url(#soft2)"/>
<polyline points="846.5,721.7 850.5,733.7 859.2,756.7 866.8,772.7 880.1,783.3 894.5,799.7 908.5,809.7 922.5,821.7 932.5,830.7 939.5,839.7 984.5,853.7 1044.5,869.7 1104.5,857.7 1122.5,848.7" fill="none" stroke="#cfc8b6" stroke-width="1.2"/>
<polygon points="1074.5,959.7 1089.5,914.7 1134.5,875.7 1181.5,847.7 1181.5,959.7" fill="#e5e5e6" />
<polygon points="1074.5,959.7 1089.5,914.7 1134.5,875.7 1181.5,847.7 1181.5,959.7" fill="url(#purpf)" />
<polygon points="1074.5,959.7 1089.5,914.7 1134.5,875.7 1181.5,847.7 1181.5,959.7" fill="url(#gtex)" />
</g>
<g clip-path="url(#cp_c1b)">
<rect x="813.5" y="964.5" width="368.2" height="261.8" fill="#dddedc" />
<polygon points="873.5,964.5 1182.5,964.5 1182.5,1210.5 1134.5,1204.5 1104.5,1198.5 1044.5,1174.5 999.5,1147.5 954.5,1108.5 903.5,1034.5 873.5,964.5" fill="#e9e7e2" />
<polygon points="873.5,964.5 903.5,1034.5 954.5,1108.5 999.5,1147.5 1044.5,1174.5 1104.5,1198.5 1134.5,1204.5 1182.5,1210.5 1182.5,1142.5 1153.5,1139.5 1134.5,1121.5 1113.5,1114.5 1073.5,1124.5 1053.5,1099.5 1044.5,1076.5 988.5,1074.5 973.5,1059.5 983.5,1039.5 981.5,1016.5 938.5,1009.5 923.5,984.5 933.5,964.5" fill="#e6e0d6" />
<polygon points="873.5,964.5 903.5,1034.5 954.5,1108.5 999.5,1147.5 1044.5,1174.5 1104.5,1198.5 1134.5,1204.5 1182.5,1210.5 1182.5,1142.5 1153.5,1139.5 1134.5,1121.5 1113.5,1114.5 1073.5,1124.5 1053.5,1099.5 1044.5,1076.5 988.5,1074.5 973.5,1059.5 983.5,1039.5 981.5,1016.5 938.5,1009.5 923.5,984.5 933.5,964.5" fill="url(#lav)" />
<polyline points="933.5,964.5 923.5,984.5 938.5,1009.5 981.5,1016.5 983.5,1039.5 973.5,1059.5 988.5,1074.5 1044.5,1076.5 1053.5,1099.5 1073.5,1124.5 1113.5,1114.5 1134.5,1121.5 1153.5,1139.5 1182.5,1142.5" fill="none" stroke="#dcc0a0" stroke-width="4" opacity="0.6" filter="url(#soft2)"/>
<polyline points="873.5,964.5 903.5,1034.5 954.5,1108.5 999.5,1147.5 1044.5,1174.5 1104.5,1198.5 1134.5,1204.5 1182.5,1210.5" fill="none" stroke="#dcc6ae" stroke-width="2"/>
<polyline points="873.5,964.5 903.5,1034.5 954.5,1108.5 999.5,1147.5 1044.5,1174.5 1104.5,1198.5 1134.5,1204.5 1182.5,1210.5" fill="none" stroke="#e0cdb8" stroke-width="1.2" transform="translate(-6,4)"/>
<polygon points="993.5,964.5 1182.5,964.5 1182.5,1134.5 1053.5,1074.5 993.5,1024.5" fill="url(#purpf)" />
</g>
<g clip-path="url(#cp_c2t)">
<rect x="1190.2" y="697.7" width="368.2" height="261.8" fill="#e2e1e2" />
<rect x="1190.2" y="697.7" width="368.2" height="261.8" fill="url(#purp)" />
<rect x="1190.2" y="697.7" width="368.2" height="261.8" fill="url(#purpB)" />
<ellipse cx="1243.2" cy="814.7" rx="46" ry="34" fill="#e7e4d7" filter="url(#soft)"/>
<ellipse cx="1312.2" cy="791.7" rx="36" ry="32" fill="#e5e2d9" filter="url(#soft)"/>
<ellipse cx="1455.2" cy="843.7" rx="26" ry="52" fill="#e6e3d7" filter="url(#soft)"/>
<ellipse cx="1340.2" cy="932.7" rx="36" ry="28" fill="#e6e3da" filter="url(#soft)"/>
<ellipse cx="1210.2" cy="737.7" rx="20" ry="25" fill="#e5e4e1" filter="url(#soft)"/>
<polygon points="1340.2,697.7 1470.2,697.7 1465.2,727.7 1440.2,752.7 1390.2,759.7 1350.2,742.7" fill="#e8e8e6" filter="url(#soft2)"/>
<polygon points="1445.2,872.7 1490.2,862.7 1540.2,869.7 1550.2,897.7 1535.2,935.7 1490.2,937.7 1448.2,927.7" fill="#e8e8e6" filter="url(#soft2)"/>
<polygon points="1318.2,847.7 1350.2,832.7 1376.2,837.7 1376.2,892.7 1340.2,893.7 1316.2,882.7" fill="#e8e8e6" filter="url(#soft2)"/>
<polygon points="1523.2,717.7 1558.2,712.7 1558.2,832.7 1530.2,827.7 1523.2,777.7" fill="#e8e8e6" filter="url(#soft2)"/>
<polyline points="1244.8,699 1262.8,749.8 1253.8,767.7 1229.9,779.7 1200,803.7 1191,815.7" fill="none" stroke="url(#brnband)" stroke-width="11" stroke-linejoin="round" stroke-linecap="round"/>
<polyline points="1274.8,699 1286.7,749.7 1277.8,767.7 1268.8,788.7 1283.7,809.7 1295.7,830.7 1298.7,857.7 1292.7,881.7 1283.7,905.7 1274.8,929.7 1268.8,959.7" fill="none" stroke="url(#brnband)" stroke-width="11" stroke-linejoin="round" stroke-linecap="round"/>
<polyline points="1313.7,697.7 1310.7,719.7" fill="none" stroke="url(#brnband)" stroke-width="11" stroke-linejoin="round" stroke-linecap="round"/>
<polyline points="1200,815.7 1229.9,845.7 1259.8,851.7 1283.7,857.7" fill="none" stroke="url(#brnband)" stroke-width="11" stroke-linejoin="round" stroke-linecap="round"/>
<polyline points="1352.6,779.7 1364.5,764.7 1379.5,749.7 1394.5,743.7" fill="none" stroke="url(#brnband)" stroke-width="11" stroke-linejoin="round" stroke-linecap="round"/>
<polyline points="1388.2,788.7 1412.2,773.7 1442.2,749.7 1448.2,767.7 1433.2,809.7 1430.2,839.7 1418.2,869.7 1406.2,899.7 1400.2,929.7 1394.2,959.7" fill="none" stroke="url(#brnband)" stroke-width="11" stroke-linejoin="round" stroke-linecap="round"/>
<polyline points="1484.2,719.7 1496.2,749.7 1499.2,794.7 1490.2,824.7 1484.2,857.7 1502.2,863.7 1523.2,860.7" fill="none" stroke="url(#brnband)" stroke-width="11" stroke-linejoin="round" stroke-linecap="round"/>
<polyline points="1529.2,818.7 1544.2,839.7 1556.2,845.7" fill="none" stroke="url(#brnband)" stroke-width="11" stroke-linejoin="round" stroke-linecap="round"/>
<polyline points="1229.9,899.7 1259.8,914.7 1304.7,917.7 1334.6,911.7" fill="none" stroke="url(#brnband)" stroke-width="11" stroke-linejoin="round" stroke-linecap="round"/>
<polyline points="1364.2,905.7 1394.2,920.7 1412.2,959.7" fill="none" stroke="url(#brnband)" stroke-width="11" stroke-linejoin="round" stroke-linecap="round"/>
<polyline points="1510.2,697.7 1516.2,719.7" fill="none" stroke="url(#brnband)" stroke-width="11" stroke-linejoin="round" stroke-linecap="round"/>
</g>
<g clip-path="url(#cp_c2b)">
<rect x="1190.2" y="964.5" width="368.2" height="261.8" fill="#e2e1e3" />
<rect x="1190.2" y="964.5" width="368.2" height="261.8" fill="url(#purp2)" />
<rect x="1190.2" y="964.5" width="368.2" height="261.8" fill="url(#purp2B)" />
<polygon points="1190.2,964.5 1350.2,964.5 1310.2,989.5 1240.2,1014.5 1220.2,1064.5 1190.2,1094.5" fill="#e6e6e3" filter="url(#soft)"/>
<ellipse cx="1334.2" cy="1054.5" rx="100" ry="78" fill="#e8e4d5" transform="rotate(8 1334.2 1054.5)" filter="url(#soft2)"/>
<ellipse cx="1480.2" cy="1014.5" rx="83" ry="60" fill="#e8e5d9" filter="url(#soft2)"/>
<polygon points="1495.2,1139.5 1530.2,1129.5 1558.2,1124.5 1558.2,1226.5 1490.2,1226.5 1486.2,1179.5" fill="#e8e8e5" filter="url(#soft2)"/>
<polyline points="1229.9,1043.1 1244.8,1019.1 1274.8,998.2 1304.7,989.2 1334.6,989.2 1352.6,977.3 1364.5,968.3 1380.2,964.5" fill="none" stroke="url(#brnband2)" stroke-width="14" stroke-linejoin="round" stroke-linecap="round"/>
<polyline points="1364.5,968.3 1394.5,989.2 1406.4,1019.1 1424.4,1049.1 1439.2,1079 1433.2,1108.9 1418.2,1132.8 1379.5,1138.8 1334.6,1135.8 1289.7,1114.9 1259.8,1091 1235.9,1064 1229.9,1043.1" fill="none" stroke="url(#brnband2)" stroke-width="14" stroke-linejoin="round" stroke-linecap="round"/>
<polyline points="1454.2,1088 1460.2,1216.5" fill="none" stroke="url(#brnband2)" stroke-width="14" stroke-linejoin="round" stroke-linecap="round"/>
<polyline points="1448.2,1079 1484.2,1082 1514.2,1076 1556.2,1064" fill="none" stroke="url(#brnband2)" stroke-width="14" stroke-linejoin="round" stroke-linecap="round"/>
<polyline points="1194,1168.5 1214.9,1162.8 1244.8,1150.8" fill="none" stroke="url(#brnband2)" stroke-width="14" stroke-linejoin="round" stroke-linecap="round"/>
<polyline points="1409.2,1138.5 1418.2,1198.5 1421.2,1226.5" fill="none" stroke="url(#brnband2)" stroke-width="14" stroke-linejoin="round" stroke-linecap="round"/>
<polyline points="1390.2,964.5 1404.2,984.5" fill="none" stroke="url(#brnband2)" stroke-width="14" stroke-linejoin="round" stroke-linecap="round"/>
</g>
<g clip-path="url(#cp_c3t)">
<rect x="1566.3" y="697.7" width="368.2" height="261.8" fill="#e2e5ea" />
<rect x="1566.3" y="697.7" width="368.2" height="261.8" fill="url(#purpf)" />
<polygon points="1566.3,697.7 1838.3,697.7 1818.3,711.7 1788.3,727.7 1762.3,742.7 1716.3,749.7 1679.3,754.7 1691.3,760.7 1736.3,757.7 1756.3,763.7 1758.3,797.7 1726.3,801.7 1698.3,805.7 1692.3,827.7 1684.3,845.7 1626.3,849.7 1566.3,855.7" fill="#e5ded0" filter="url(#soft2)"/>
<polygon points="1566.3,697.7 1838.3,697.7 1818.3,711.7 1788.3,727.7 1762.3,742.7 1716.3,749.7 1679.3,754.7 1691.3,760.7 1736.3,757.7 1756.3,763.7 1758.3,797.7 1726.3,801.7 1698.3,805.7 1692.3,827.7 1684.3,845.7 1626.3,849.7 1566.3,855.7" fill="url(#brn)" />
<polygon points="1566.3,697.7 1838.3,697.7 1818.3,711.7 1788.3,727.7 1762.3,742.7 1716.3,749.7 1679.3,754.7 1691.3,760.7 1736.3,757.7 1756.3,763.7 1758.3,797.7 1726.3,801.7 1698.3,805.7 1692.3,827.7 1684.3,845.7 1626.3,849.7 1566.3,855.7" fill="url(#brnB)" />
<polygon points="1576.3,847.7 1676.3,845.7 1716.3,847.7 1754.3,847.7 1766.3,872.7 1806.3,897.7 1846.3,922.7 1866.3,960.7 1766.3,960.7 1716.3,932.7 1666.3,907.7 1606.3,887.7 1577.3,872.7" fill="#e5ded0" filter="url(#soft2)"/>
<polygon points="1576.3,847.7 1676.3,845.7 1716.3,847.7 1754.3,847.7 1766.3,872.7 1806.3,897.7 1846.3,922.7 1866.3,960.7 1766.3,960.7 1716.3,932.7 1666.3,907.7 1606.3,887.7 1577.3,872.7" fill="url(#brn)" />
<polygon points="1576.3,847.7 1676.3,845.7 1716.3,847.7 1754.3,847.7 1766.3,872.7 1806.3,897.7 1846.3,922.7 1866.3,960.7 1766.3,960.7 1716.3,932.7 1666.3,907.7 1606.3,887.7 1577.3,872.7" fill="url(#brnB)" />
<polygon points="1893.3,740.7 1916.3,737.7 1935.3,742.7 1935.3,828.7 1911.3,822.7 1896.3,797.7" fill="#e5ded0" filter="url(#soft2)"/>
<polygon points="1893.3,740.7 1916.3,737.7 1935.3,742.7 1935.3,828.7 1911.3,822.7 1896.3,797.7" fill="url(#brn)" />
<polygon points="1893.3,740.7 1916.3,737.7 1935.3,742.7 1935.3,828.7 1911.3,822.7 1896.3,797.7" fill="url(#brnB)" />
<polygon points="1566.3,894.7 1606.3,902.7 1650.3,960.7 1566.3,960.7" fill="#e5ded0" filter="url(#soft2)"/>
<polygon points="1566.3,894.7 1606.3,902.7 1650.3,960.7 1566.3,960.7" fill="url(#brn)" />
<polygon points="1566.3,894.7 1606.3,902.7 1650.3,960.7 1566.3,960.7" fill="url(#brnB)" />
<polygon points="1922.3,857.7 1935.3,852.7 1935.3,922.7 1924.3,912.7" fill="#e5ded0" filter="url(#soft2)"/>
<polygon points="1922.3,857.7 1935.3,852.7 1935.3,922.7 1924.3,912.7" fill="url(#brn)" />
<polygon points="1922.3,857.7 1935.3,852.7 1935.3,922.7 1924.3,912.7" fill="url(#brnB)" />
<ellipse cx="1822.3" cy="861.7" rx="63" ry="46" fill="#e5ded0" transform="rotate(-10 1822.3 861.7)" filter="url(#soft2)"/>
<ellipse cx="1822.3" cy="861.7" rx="63" ry="46" fill="url(#brn)" transform="rotate(-10 1822.3 861.7)" />
<ellipse cx="1822.3" cy="861.7" rx="63" ry="46" fill="url(#brnB)" transform="rotate(-10 1822.3 861.7)" />
<ellipse cx="1843.3" cy="749.7" rx="46" ry="40" fill="#e5ded0" filter="url(#soft2)"/>
<ellipse cx="1843.3" cy="749.7" rx="46" ry="40" fill="url(#brn)" />
<ellipse cx="1843.3" cy="749.7" rx="46" ry="40" fill="url(#brnB)" />
<ellipse cx="1716.3" cy="827.7" rx="12" ry="11" fill="#e5ded0" filter="url(#soft2)"/>
<ellipse cx="1716.3" cy="827.7" rx="12" ry="11" fill="url(#brn)" />
<ellipse cx="1716.3" cy="827.7" rx="12" ry="11" fill="url(#brnB)" />
<ellipse cx="1843.3" cy="752.7" rx="20" ry="16" fill="#e4e0d6" filter="url(#soft)" opacity="0.7"/>
<ellipse cx="1623.3" cy="773.7" rx="24" ry="26" fill="#e7e3d8" filter="url(#soft)"/>
<ellipse cx="1731.3" cy="902.7" rx="36" ry="24" fill="#e2e2e4" filter="url(#soft)" opacity="0.85"/>
<ellipse cx="1641.3" cy="807.7" rx="30" ry="22" fill="#e4e2e0" filter="url(#soft)" opacity="0.6"/>
</g>
<g clip-path="url(#cp_c3b)">
<rect x="1566.3" y="964.5" width="368.2" height="261.8" fill="#ece6df" />
<rect x="1566.3" y="964.5" width="368.2" height="261.8" fill="url(#brn2)" />
<rect x="1566.3" y="964.5" width="368.2" height="261.8" fill="url(#brn2B)" />
<ellipse cx="1681.3" cy="1149.5" rx="52" ry="66" fill="#ece7e0" filter="url(#soft8)"/>
<ellipse cx="1688.3" cy="1142.5" rx="28" ry="32" fill="#e8e0d4" filter="url(#soft)"/>
<polygon points="1810.3,1114.5 1866.3,1089.5 1935.3,1072.5 1935.3,1099.5 1866.3,1124.5 1822.3,1136.5" fill="#e3e4ea" filter="url(#soft)" opacity="0.85"/>
<polygon points="1636.3,964.5 1776.3,964.5 1746.3,974.5 1666.3,976.5" fill="#e2e3ea" filter="url(#soft)" opacity="0.85"/>
<ellipse cx="1596.3" cy="1094.5" rx="30" ry="14" fill="#e6e4e6" filter="url(#soft)" opacity="0.7"/>
</g>
<g fill="none" stroke="#222" stroke-width="1.3">
<rect x="837.9" y="730.9" width="181.5" height="136.6"/>
<rect x="1195.8" y="760.2" width="180.9" height="135.3"/>
<rect x="1576.9" y="708.4" width="181.4" height="136"/>
<path d="M837.9 867.5L813.5 964.5M1019.4 867.5L1181.7 964.5"/>
<path d="M1195.8 895.5L1190.2 964.5M1376.7 895.5L1558.4 964.5"/>
<path d="M1576.9 844.4L1566.3 964.5M1758.3 844.4L1934.5 964.5"/>
</g>
<line x1="1098" y1="954" x2="1130" y2="954" stroke="#111" stroke-width="1.2" />
<line x1="1098" y1="951.5" x2="1098" y2="956.5" stroke="#111" stroke-width="1" />
<line x1="1130" y1="951.5" x2="1130" y2="956.5" stroke="#111" stroke-width="1" />
<line x1="1476" y1="954" x2="1507" y2="954" stroke="#111" stroke-width="1.2" />
<line x1="1476" y1="951.5" x2="1476" y2="956.5" stroke="#111" stroke-width="1" />
<line x1="1507" y1="951.5" x2="1507" y2="956.5" stroke="#111" stroke-width="1" />
<line x1="1853" y1="954" x2="1883" y2="954" stroke="#111" stroke-width="1.2" />
<line x1="1853" y1="951.5" x2="1853" y2="956.5" stroke="#111" stroke-width="1" />
<line x1="1883" y1="951.5" x2="1883" y2="956.5" stroke="#111" stroke-width="1" />
<line x1="1093" y1="1220" x2="1155" y2="1220" stroke="#111" stroke-width="1.2" />
<line x1="1093" y1="1217.5" x2="1093" y2="1222.5" stroke="#111" stroke-width="1" />
<line x1="1155" y1="1217.5" x2="1155" y2="1222.5" stroke="#111" stroke-width="1" />
<line x1="1470" y1="1220" x2="1532" y2="1220" stroke="#111" stroke-width="1.2" />
<line x1="1470" y1="1217.5" x2="1470" y2="1222.5" stroke="#111" stroke-width="1" />
<line x1="1532" y1="1217.5" x2="1532" y2="1222.5" stroke="#111" stroke-width="1" />
<line x1="1846" y1="1220" x2="1907" y2="1220" stroke="#111" stroke-width="1.2" />
<line x1="1846" y1="1217.5" x2="1846" y2="1222.5" stroke="#111" stroke-width="1" />
<line x1="1907" y1="1217.5" x2="1907" y2="1222.5" stroke="#111" stroke-width="1" />
<text x="819.2" y="688" textLength="355.4" lengthAdjust="spacingAndGlyphs" style="font-size:27px">Normal squamous epithelium</text>
<text x="1212" y="688" textLength="328" lengthAdjust="spacingAndGlyphs" style="font-size:27px">Primary penile carcinoma</text>
<text x="1572.5" y="688" textLength="354.2" lengthAdjust="spacingAndGlyphs" style="font-size:27px">Metastatic penile carcinoma</text>
<line x1="805.5" y1="697.8" x2="805.5" y2="1226.5" stroke="#000" stroke-width="2" />
<text x="793.8" y="1193.4" transform="rotate(-90 793.8 1193.4)" textLength="469" lengthAdjust="spacingAndGlyphs" style="font-size:35.8px">HOXD11 staining (pT3N3M1)</text>
<text x="0" y="0" transform="translate(1936.2 783.7) rotate(90) scale(1 1.12)" style="font-size:35px">100×</text>
<text x="0" y="0" transform="translate(1936.2 1043.4) rotate(90) scale(1 1.12)" style="font-size:35px">200×</text>
<text x="752.9" y="611.5" style="font-size:47.2px">E</text>
<text x="2.2" y="1318.8" style="font-size:48px">F</text>
<line x1="133.6" y1="1346" x2="133.6" y2="1774.1" stroke="#000" stroke-width="2.2" />
<line x1="132.5" y1="1773" x2="426.7" y2="1773" stroke="#000" stroke-width="2.2" />
<line x1="123.1" y1="1347" x2="133.6" y2="1347" stroke="#000" stroke-width="2.2" />
<text x="118" y="1357.3" text-anchor="end" style="font-size:29.5px;font-weight:bold">2<tspan dx="3" dy="-10.3" style="font-size:17.5px;font-weight:normal">5</tspan></text>
<line x1="123.1" y1="1389.6" x2="133.6" y2="1389.6" stroke="#000" stroke-width="2.2" />
<text x="118" y="1399.9" text-anchor="end" style="font-size:29.5px;font-weight:bold">2<tspan dx="3" dy="-10.3" style="font-size:17.5px;font-weight:normal">4</tspan></text>
<line x1="123.1" y1="1432.2" x2="133.6" y2="1432.2" stroke="#000" stroke-width="2.2" />
<text x="118" y="1442.5" text-anchor="end" style="font-size:29.5px;font-weight:bold">2<tspan dx="3" dy="-10.3" style="font-size:17.5px;font-weight:normal">3</tspan></text>
<line x1="123.1" y1="1474.8" x2="133.6" y2="1474.8" stroke="#000" stroke-width="2.2" />
<text x="118" y="1485.1" text-anchor="end" style="font-size:29.5px;font-weight:bold">2<tspan dx="3" dy="-10.3" style="font-size:17.5px;font-weight:normal">2</tspan></text>
<line x1="123.1" y1="1517.4" x2="133.6" y2="1517.4" stroke="#000" stroke-width="2.2" />
<text x="118" y="1527.7" text-anchor="end" style="font-size:29.5px;font-weight:bold">2<tspan dx="3" dy="-10.3" style="font-size:17.5px;font-weight:normal">1</tspan></text>
<line x1="123.1" y1="1560" x2="133.6" y2="1560" stroke="#000" stroke-width="2.2" />
<text x="118" y="1570.3" text-anchor="end" style="font-size:29.5px;font-weight:bold">2<tspan dx="3" dy="-10.3" style="font-size:17.5px;font-weight:normal">0</tspan></text>
<line x1="123.1" y1="1602.6" x2="133.6" y2="1602.6" stroke="#000" stroke-width="2.2" />
<text x="118" y="1612.9" text-anchor="end" style="font-size:29.5px;font-weight:bold">2<tspan dx="3" dy="-10.3" style="font-size:17.5px;font-weight:normal">-1</tspan></text>
<line x1="123.1" y1="1645.2" x2="133.6" y2="1645.2" stroke="#000" stroke-width="2.2" />
<text x="118" y="1655.5" text-anchor="end" style="font-size:29.5px;font-weight:bold">2<tspan dx="3" dy="-10.3" style="font-size:17.5px;font-weight:normal">-2</tspan></text>
<line x1="123.1" y1="1687.8" x2="133.6" y2="1687.8" stroke="#000" stroke-width="2.2" />
<text x="118" y="1698.1" text-anchor="end" style="font-size:29.5px;font-weight:bold">2<tspan dx="3" dy="-10.3" style="font-size:17.5px;font-weight:normal">-3</tspan></text>
<line x1="123.1" y1="1730.4" x2="133.6" y2="1730.4" stroke="#000" stroke-width="2.2" />
<text x="118" y="1740.7" text-anchor="end" style="font-size:29.5px;font-weight:bold">2<tspan dx="3" dy="-10.3" style="font-size:17.5px;font-weight:normal">-4</tspan></text>
<line x1="123.1" y1="1773" x2="133.6" y2="1773" stroke="#000" stroke-width="2.2" />
<text x="118" y="1783.3" text-anchor="end" style="font-size:29.5px;font-weight:bold">2<tspan dx="3" dy="-10.3" style="font-size:17.5px;font-weight:normal">-5</tspan></text>
<line x1="217.3" y1="1773" x2="217.3" y2="1784.5" stroke="#000" stroke-width="2.2" />
<text x="217.3" y="1813.5" text-anchor="middle" textLength="90" lengthAdjust="spacingAndGlyphs" style="font-size:27px;font-weight:bold">Tumor</text>
<line x1="342.9" y1="1773" x2="342.9" y2="1784.5" stroke="#000" stroke-width="2.2" />
<text x="342.9" y="1813.5" text-anchor="middle" textLength="99" lengthAdjust="spacingAndGlyphs" style="font-size:27px;font-weight:bold">Normal</text>
<text x="24" y="1816" transform="rotate(-90 24 1816)" textLength="473.4" lengthAdjust="spacingAndGlyphs" style="font-size:25px;font-weight:bold">Relative fold changes of HOXD11</text>
<text x="68" y="1795" transform="rotate(-90 68 1795)" style="font-size:25px;font-weight:bold" textLength="437" lengthAdjust="spacingAndGlyphs">mRNA expression level (2<tspan dy="-9" style="font-size:15.5px">-ΔΔct</tspan><tspan dy="9">)</tspan></text>
<circle cx="217.29" cy="1361.4" r="4.2" fill="#e41e1e" />
<circle cx="230" cy="1366.84" r="4.2" fill="#e41e1e" />
<circle cx="205.79" cy="1374.41" r="4.2" fill="#e41e1e" />
<circle cx="217.9" cy="1376.53" r="4.2" fill="#e41e1e" />
<circle cx="199.13" cy="1385" r="4.2" fill="#e41e1e" />
<circle cx="211.85" cy="1391.05" r="4.2" fill="#e41e1e" />
<circle cx="223.95" cy="1386.51" r="4.2" fill="#e41e1e" />
<circle cx="236.06" cy="1385" r="4.2" fill="#e41e1e" />
<circle cx="181.58" cy="1395.59" r="4.2" fill="#e41e1e" />
<circle cx="192.17" cy="1401.65" r="4.2" fill="#e41e1e" />
<circle cx="202.77" cy="1400.13" r="4.2" fill="#e41e1e" />
<circle cx="211.85" cy="1404.67" r="4.2" fill="#e41e1e" />
<circle cx="223.95" cy="1404.67" r="4.2" fill="#e41e1e" />
<circle cx="233.03" cy="1400.13" r="4.2" fill="#e41e1e" />
<circle cx="243.62" cy="1401.65" r="4.2" fill="#e41e1e" />
<circle cx="254.21" cy="1399.53" r="4.2" fill="#e41e1e" />
<circle cx="187.63" cy="1413.75" r="4.2" fill="#e41e1e" />
<circle cx="196.71" cy="1415.27" r="4.2" fill="#e41e1e" />
<circle cx="205.79" cy="1418.29" r="4.2" fill="#e41e1e" />
<circle cx="211.85" cy="1414.66" r="4.2" fill="#e41e1e" />
<circle cx="217.9" cy="1410.73" r="4.2" fill="#e41e1e" />
<circle cx="223.95" cy="1413.75" r="4.2" fill="#e41e1e" />
<circle cx="230" cy="1418.29" r="4.2" fill="#e41e1e" />
<circle cx="236.06" cy="1416.78" r="4.2" fill="#e41e1e" />
<circle cx="242.11" cy="1415.27" r="4.2" fill="#e41e1e" />
<circle cx="249.67" cy="1413.75" r="4.2" fill="#e41e1e" />
<circle cx="180.07" cy="1425.86" r="4.2" fill="#e41e1e" />
<circle cx="189.15" cy="1427.37" r="4.2" fill="#e41e1e" />
<circle cx="198.23" cy="1428.88" r="4.2" fill="#e41e1e" />
<circle cx="205.79" cy="1433.42" r="4.2" fill="#e41e1e" />
<circle cx="213.36" cy="1434.94" r="4.2" fill="#e41e1e" />
<circle cx="222.44" cy="1431.91" r="4.2" fill="#e41e1e" />
<circle cx="230" cy="1434.94" r="4.2" fill="#e41e1e" />
<circle cx="239.08" cy="1427.37" r="4.2" fill="#e41e1e" />
<circle cx="246.65" cy="1427.37" r="4.2" fill="#e41e1e" />
<circle cx="255.73" cy="1425.86" r="4.2" fill="#e41e1e" />
<circle cx="205.79" cy="1442.5" r="4.2" fill="#e41e1e" />
<circle cx="230" cy="1444.02" r="4.2" fill="#e41e1e" />
<circle cx="217.29" cy="1448.56" r="4.2" fill="#e41e1e" />
<circle cx="187.03" cy="1456.12" r="4.2" fill="#e41e1e" />
<circle cx="199.13" cy="1460.66" r="4.2" fill="#e41e1e" />
<circle cx="211.85" cy="1462.17" r="4.2" fill="#e41e1e" />
<circle cx="223.95" cy="1462.17" r="4.2" fill="#e41e1e" />
<circle cx="236.06" cy="1461.27" r="4.2" fill="#e41e1e" />
<circle cx="248.16" cy="1460.66" r="4.2" fill="#e41e1e" />
<circle cx="181.58" cy="1466.71" r="4.2" fill="#e41e1e" />
<circle cx="192.17" cy="1468.23" r="4.2" fill="#e41e1e" />
<circle cx="205.79" cy="1469.74" r="4.2" fill="#e41e1e" />
<circle cx="230" cy="1466.71" r="4.2" fill="#e41e1e" />
<circle cx="242.11" cy="1469.74" r="4.2" fill="#e41e1e" />
<circle cx="254.21" cy="1466.11" r="4.2" fill="#e41e1e" />
<circle cx="187.63" cy="1481.85" r="4.2" fill="#e41e1e" />
<circle cx="199.74" cy="1484.87" r="4.2" fill="#e41e1e" />
<circle cx="211.85" cy="1480.33" r="4.2" fill="#e41e1e" />
<circle cx="223.95" cy="1478.82" r="4.2" fill="#e41e1e" />
<circle cx="236.06" cy="1486.38" r="4.2" fill="#e41e1e" />
<circle cx="248.16" cy="1481.85" r="4.2" fill="#e41e1e" />
<circle cx="183.09" cy="1495.46" r="4.2" fill="#e41e1e" />
<circle cx="190.66" cy="1500" r="4.2" fill="#e41e1e" />
<circle cx="199.74" cy="1503.03" r="4.2" fill="#e41e1e" />
<circle cx="205.79" cy="1506.06" r="4.2" fill="#e41e1e" />
<circle cx="211.85" cy="1506.66" r="4.2" fill="#e41e1e" />
<circle cx="217.9" cy="1509.08" r="4.2" fill="#e41e1e" />
<circle cx="223.95" cy="1507.57" r="4.2" fill="#e41e1e" />
<circle cx="230" cy="1512.11" r="4.2" fill="#e41e1e" />
<circle cx="237.57" cy="1504.54" r="4.2" fill="#e41e1e" />
<circle cx="245.14" cy="1501.52" r="4.2" fill="#e41e1e" />
<circle cx="252.7" cy="1499.4" r="4.2" fill="#e41e1e" />
<circle cx="223.95" cy="1493.95" r="4.2" fill="#e41e1e" />
<circle cx="205.79" cy="1519.67" r="4.2" fill="#e41e1e" />
<circle cx="217.29" cy="1521.79" r="4.2" fill="#e41e1e" />
<circle cx="223.95" cy="1533.29" r="4.2" fill="#e41e1e" />
<circle cx="211.85" cy="1539.35" r="4.2" fill="#e41e1e" />
<circle cx="217.29" cy="1569.61" r="4.2" fill="#e41e1e" />
<circle cx="199.13" cy="1579.29" r="4.2" fill="#e41e1e" />
<circle cx="211.85" cy="1583.23" r="4.2" fill="#e41e1e" />
<circle cx="236.06" cy="1580.81" r="4.2" fill="#e41e1e" />
<circle cx="223.95" cy="1590.79" r="4.2" fill="#e41e1e" />
<circle cx="193.08" cy="1596.85" r="4.2" fill="#e41e1e" />
<circle cx="205.79" cy="1602.9" r="4.2" fill="#e41e1e" />
<circle cx="217.29" cy="1605.93" r="4.2" fill="#e41e1e" />
<circle cx="230" cy="1602.9" r="4.2" fill="#e41e1e" />
<circle cx="242.11" cy="1598.36" r="4.2" fill="#e41e1e" />
<circle cx="217.29" cy="1626.51" r="4.2" fill="#e41e1e" />
<circle cx="223.95" cy="1649.81" r="4.2" fill="#e41e1e" />
<circle cx="211.85" cy="1657.98" r="4.2" fill="#e41e1e" />
<circle cx="217.29" cy="1707.31" r="4.2" fill="#e41e1e" />
<circle cx="217.29" cy="1732.43" r="4.2" fill="#e41e1e" />
<polygon points="342.89,1383.49 338.69,1391.05 347.09,1391.05" fill="#1f4fa8" />
<polygon points="342.89,1418.3 338.69,1425.86 347.09,1425.86" fill="#1f4fa8" />
<polygon points="342.89,1448.86 338.69,1456.42 347.09,1456.42" fill="#1f4fa8" />
<polygon points="342.89,1478.82 338.69,1486.38 347.09,1486.38" fill="#1f4fa8" />
<polygon points="342.89,1525.73 338.69,1533.29 347.09,1533.29" fill="#1f4fa8" />
<polygon points="317.77,1546.92 313.57,1554.48 321.97,1554.48" fill="#1f4fa8" />
<polygon points="329.87,1549.94 325.67,1557.5 334.07,1557.5" fill="#1f4fa8" />
<polygon points="355.6,1546.92 351.4,1554.48 359.8,1554.48" fill="#1f4fa8" />
<polygon points="367.7,1539.35 363.5,1546.91 371.9,1546.91" fill="#1f4fa8" />
<polygon points="342.89,1555.99 338.69,1563.55 347.09,1563.55" fill="#1f4fa8" />
<polygon points="335.93,1568.1 331.73,1575.66 340.13,1575.66" fill="#1f4fa8" />
<polygon points="349.54,1566.59 345.34,1574.15 353.74,1574.15" fill="#1f4fa8" />
<polygon points="329.87,1592.31 325.67,1599.87 334.07,1599.87" fill="#1f4fa8" />
<polygon points="355.6,1591.71 351.4,1599.27 359.8,1599.27" fill="#1f4fa8" />
<polygon points="342.89,1596.85 338.69,1604.41 347.09,1604.41" fill="#1f4fa8" />
<polygon points="342.89,1610.47 338.69,1618.03 347.09,1618.03" fill="#1f4fa8" />
<polygon points="329.87,1618.03 325.67,1625.59 334.07,1625.59" fill="#1f4fa8" />
<polygon points="355.6,1617.13 351.4,1624.69 359.8,1624.69" fill="#1f4fa8" />
<polygon points="342.89,1628.63 338.69,1636.19 347.09,1636.19" fill="#1f4fa8" />
<polygon points="335.93,1646.79 331.73,1654.35 340.13,1654.35" fill="#1f4fa8" />
<polygon points="349.54,1645.88 345.34,1653.44 353.74,1653.44" fill="#1f4fa8" />
<line x1="217.3" y1="1398.6" x2="217.3" y2="1554.5" stroke="#000" stroke-width="4.6" />
<line x1="196.7" y1="1398.6" x2="237.6" y2="1398.6" stroke="#000" stroke-width="4.6" />
<line x1="196.7" y1="1554.5" x2="237.6" y2="1554.5" stroke="#000" stroke-width="4.6" />
<line x1="176" y1="1476.7" x2="259.4" y2="1476.7" stroke="#000" stroke-width="4.6" />
<line x1="342.9" y1="1487.9" x2="342.9" y2="1631.6" stroke="#000" stroke-width="4.6" />
<line x1="322.3" y1="1487.9" x2="363.2" y2="1487.9" stroke="#000" stroke-width="4.6" />
<line x1="322.3" y1="1631.6" x2="363.2" y2="1631.6" stroke="#000" stroke-width="4.6" />
<line x1="301" y1="1560" x2="384.3" y2="1560" stroke="#000" stroke-width="4.6" />
<path d="M217.3 1350.2V1342H344V1350.2" fill="none" stroke="#000" stroke-width="1.6"/>
<text x="281.5" y="1347.4" text-anchor="middle" textLength="41" lengthAdjust="spacingAndGlyphs" style="font-size:32px">***</text>
<line x1="597.1" y1="1342.4" x2="597.1" y2="1775.81" stroke="#000" stroke-width="2.2" />
<line x1="596" y1="1774.71" x2="938.3" y2="1774.71" stroke="#000" stroke-width="2.2" />
<line x1="586.6" y1="1343.4" x2="597.1" y2="1343.4" stroke="#000" stroke-width="2.2" />
<text x="585" y="1353.7" text-anchor="end" style="font-size:27.8px;font-weight:bold">2<tspan dx="3" dy="-9" style="font-size:16.5px;font-weight:bold">6</tspan></text>
<line x1="586.6" y1="1382.61" x2="597.1" y2="1382.61" stroke="#000" stroke-width="2.2" />
<text x="585" y="1392.91" text-anchor="end" style="font-size:27.8px;font-weight:bold">2<tspan dx="3" dy="-9" style="font-size:16.5px;font-weight:bold">5</tspan></text>
<line x1="586.6" y1="1421.82" x2="597.1" y2="1421.82" stroke="#000" stroke-width="2.2" />
<text x="585" y="1432.12" text-anchor="end" style="font-size:27.8px;font-weight:bold">2<tspan dx="3" dy="-9" style="font-size:16.5px;font-weight:bold">4</tspan></text>
<line x1="586.6" y1="1461.03" x2="597.1" y2="1461.03" stroke="#000" stroke-width="2.2" />
<text x="585" y="1471.33" text-anchor="end" style="font-size:27.8px;font-weight:bold">2<tspan dx="3" dy="-9" style="font-size:16.5px;font-weight:bold">3</tspan></text>
<line x1="586.6" y1="1500.24" x2="597.1" y2="1500.24" stroke="#000" stroke-width="2.2" />
<text x="585" y="1510.54" text-anchor="end" style="font-size:27.8px;font-weight:bold">2<tspan dx="3" dy="-9" style="font-size:16.5px;font-weight:bold">2</tspan></text>
<line x1="586.6" y1="1539.45" x2="597.1" y2="1539.45" stroke="#000" stroke-width="2.2" />
<text x="585" y="1549.75" text-anchor="end" style="font-size:27.8px;font-weight:bold">2<tspan dx="3" dy="-9" style="font-size:16.5px;font-weight:bold">1</tspan></text>
<line x1="586.6" y1="1578.66" x2="597.1" y2="1578.66" stroke="#000" stroke-width="2.2" />
<text x="585" y="1588.96" text-anchor="end" style="font-size:27.8px;font-weight:bold">2<tspan dx="3" dy="-9" style="font-size:16.5px;font-weight:bold">0</tspan></text>
<line x1="586.6" y1="1617.87" x2="597.1" y2="1617.87" stroke="#000" stroke-width="2.2" />
<text x="585" y="1628.17" text-anchor="end" style="font-size:27.8px;font-weight:bold">2<tspan dx="3" dy="-9" style="font-size:16.5px;font-weight:bold">-1</tspan></text>
<line x1="586.6" y1="1657.08" x2="597.1" y2="1657.08" stroke="#000" stroke-width="2.2" />
<text x="585" y="1667.38" text-anchor="end" style="font-size:27.8px;font-weight:bold">2<tspan dx="3" dy="-9" style="font-size:16.5px;font-weight:bold">-2</tspan></text>
<line x1="586.6" y1="1696.29" x2="597.1" y2="1696.29" stroke="#000" stroke-width="2.2" />
<text x="585" y="1706.59" text-anchor="end" style="font-size:27.8px;font-weight:bold">2<tspan dx="3" dy="-9" style="font-size:16.5px;font-weight:bold">-3</tspan></text>
<line x1="586.6" y1="1735.5" x2="597.1" y2="1735.5" stroke="#000" stroke-width="2.2" />
<text x="585" y="1745.8" text-anchor="end" style="font-size:27.8px;font-weight:bold">2<tspan dx="3" dy="-9" style="font-size:16.5px;font-weight:bold">-4</tspan></text>
<line x1="586.6" y1="1774.71" x2="597.1" y2="1774.71" stroke="#000" stroke-width="2.2" />
<text x="585" y="1785.01" text-anchor="end" style="font-size:27.8px;font-weight:bold">2<tspan dx="3" dy="-9" style="font-size:16.5px;font-weight:bold">-5</tspan></text>
<line x1="665.6" y1="1774.71" x2="665.6" y2="1786.21" stroke="#000" stroke-width="2.2" />
<text x="665.6" y="1812.5" text-anchor="middle" style="font-size:30px;font-weight:bold">T1</text>
<line x1="767.1" y1="1774.71" x2="767.1" y2="1786.21" stroke="#000" stroke-width="2.2" />
<text x="767.1" y="1812.5" text-anchor="middle" style="font-size:30px;font-weight:bold">T2</text>
<line x1="870.6" y1="1774.71" x2="870.6" y2="1786.21" stroke="#000" stroke-width="2.2" />
<text x="870.6" y="1812.5" text-anchor="middle" style="font-size:30px;font-weight:bold">T3</text>
<text x="491" y="1782.9" transform="rotate(-90 491 1782.9)" textLength="443.3" lengthAdjust="spacingAndGlyphs" style="font-size:24px;font-weight:bold">Relative fold changes of HOXD11</text>
<text x="537.5" y="1765.4" transform="rotate(-90 537.5 1765.4)" style="font-size:24px;font-weight:bold" textLength="406.9" lengthAdjust="spacingAndGlyphs">mRNA expression level (2<tspan dy="-9" style="font-size:14.88px">-ΔΔct</tspan><tspan dy="9">)</tspan></text>
<circle cx="659.18" cy="1400.82" r="3.6" fill="#f01010" />
<circle cx="671.43" cy="1396.45" r="3.6" fill="#f01010" />
<circle cx="659.18" cy="1417.73" r="3.6" fill="#f01010" />
<circle cx="671.43" cy="1427.07" r="3.6" fill="#f01010" />
<circle cx="659.18" cy="1440.77" r="3.6" fill="#f01010" />
<circle cx="671.43" cy="1436.69" r="3.6" fill="#f01010" />
<circle cx="646.06" cy="1449.52" r="3.6" fill="#f01010" />
<circle cx="659.18" cy="1449.52" r="3.6" fill="#f01010" />
<circle cx="683.97" cy="1451.85" r="3.6" fill="#f01010" />
<circle cx="659.18" cy="1457.69" r="3.6" fill="#f01010" />
<circle cx="671.43" cy="1455.35" r="3.6" fill="#f01010" />
<circle cx="671.43" cy="1463.81" r="3.6" fill="#f01010" />
<circle cx="671.43" cy="1483.93" r="3.6" fill="#f01010" />
<circle cx="646.06" cy="1488.31" r="3.6" fill="#f01010" />
<circle cx="659.18" cy="1492.1" r="3.6" fill="#f01010" />
<circle cx="683.97" cy="1489.18" r="3.6" fill="#f01010" />
<circle cx="671.43" cy="1511.64" r="3.6" fill="#f01010" />
<circle cx="671.43" cy="1523.3" r="3.6" fill="#f01010" />
<circle cx="659.18" cy="1529.72" r="3.6" fill="#f01010" />
<circle cx="671.43" cy="1530.59" r="3.6" fill="#f01010" />
<circle cx="671.43" cy="1543.14" r="3.6" fill="#f01010" />
<circle cx="659.18" cy="1558.88" r="3.6" fill="#f01010" />
<circle cx="671.43" cy="1572.88" r="3.6" fill="#f01010" />
<circle cx="659.18" cy="1597.67" r="3.6" fill="#f01010" />
<circle cx="671.43" cy="1599.71" r="3.6" fill="#f01010" />
<circle cx="671.43" cy="1607.29" r="3.6" fill="#f01010" />
<circle cx="659.18" cy="1621" r="3.6" fill="#f01010" />
<circle cx="671.43" cy="1618.08" r="3.6" fill="#f01010" />
<circle cx="659.18" cy="1639.08" r="3.6" fill="#f01010" />
<circle cx="659.18" cy="1661.83" r="3.6" fill="#f01010" />
<circle cx="659.18" cy="1714.32" r="3.6" fill="#f01010" />
<circle cx="659.18" cy="1737.65" r="3.6" fill="#f01010" />
<polygon points="767.09,1404.99 763.39,1411.65 770.79,1411.65" fill="#4a9ef0" />
<polygon points="767.09,1430.36 763.39,1437.02 770.79,1437.02" fill="#4a9ef0" />
<polygon points="767.09,1440.57 763.39,1447.23 770.79,1447.23" fill="#4a9ef0" />
<polygon points="767.09,1446.98 763.39,1453.64 770.79,1453.64" fill="#4a9ef0" />
<polygon points="754.55,1467.4 750.85,1474.06 758.25,1474.06" fill="#4a9ef0" />
<polygon points="767.09,1473.23 763.39,1479.89 770.79,1479.89" fill="#4a9ef0" />
<polygon points="754.55,1486.06 750.85,1492.72 758.25,1492.72" fill="#4a9ef0" />
<polygon points="767.09,1489.27 763.39,1495.93 770.79,1495.93" fill="#4a9ef0" />
<polygon points="779.92,1491.02 776.22,1497.68 783.62,1497.68" fill="#4a9ef0" />
<polygon points="754.55,1498.89 750.85,1505.55 758.25,1505.55" fill="#4a9ef0" />
<polygon points="779.92,1498.89 776.22,1505.55 783.62,1505.55" fill="#4a9ef0" />
<polygon points="767.09,1505.31 763.39,1511.97 770.79,1511.97" fill="#4a9ef0" />
<polygon points="767.09,1516.39 763.39,1523.05 770.79,1523.05" fill="#4a9ef0" />
<polygon points="754.55,1525.14 750.85,1531.8 758.25,1531.8" fill="#4a9ef0" />
<polygon points="779.92,1526.02 776.22,1532.68 783.62,1532.68" fill="#4a9ef0" />
<polygon points="767.09,1531.85 763.39,1538.51 770.79,1538.51" fill="#4a9ef0" />
<polygon points="767.09,1539.72 763.39,1546.38 770.79,1546.38" fill="#4a9ef0" />
<polygon points="767.09,1550.8 763.39,1557.46 770.79,1557.46" fill="#4a9ef0" />
<polygon points="767.09,1584.92 763.39,1591.58 770.79,1591.58" fill="#4a9ef0" />
<polygon points="767.09,1593.67 763.39,1600.33 770.79,1600.33" fill="#4a9ef0" />
<polygon points="754.55,1610.3 750.85,1616.96 758.25,1616.96" fill="#4a9ef0" />
<polygon points="767.09,1614.67 763.39,1621.33 770.79,1621.33" fill="#4a9ef0" />
<polygon points="767.09,1665.12 763.39,1671.78 770.79,1671.78" fill="#4a9ef0" />
<circle cx="869.74" cy="1409.57" r="3.6" fill="#1010e6" />
<circle cx="869.74" cy="1417.73" r="3.6" fill="#1010e6" />
<circle cx="882.28" cy="1423.57" r="3.6" fill="#1010e6" />
<circle cx="844.37" cy="1431.44" r="3.6" fill="#1010e6" />
<circle cx="857.2" cy="1434.36" r="3.6" fill="#1010e6" />
<circle cx="869.74" cy="1433.48" r="3.6" fill="#1010e6" />
<circle cx="882.28" cy="1433.48" r="3.6" fill="#1010e6" />
<circle cx="895.11" cy="1437.27" r="3.6" fill="#1010e6" />
<circle cx="857.2" cy="1446.61" r="3.6" fill="#1010e6" />
<circle cx="869.74" cy="1443.69" r="3.6" fill="#1010e6" />
<circle cx="882.28" cy="1446.61" r="3.6" fill="#1010e6" />
<circle cx="895.11" cy="1443.69" r="3.6" fill="#1010e6" />
<circle cx="844.37" cy="1449.52" r="3.6" fill="#1010e6" />
<circle cx="857.2" cy="1455.35" r="3.6" fill="#1010e6" />
<circle cx="869.74" cy="1457.69" r="3.6" fill="#1010e6" />
<circle cx="882.28" cy="1455.35" r="3.6" fill="#1010e6" />
<circle cx="844.37" cy="1457.69" r="3.6" fill="#1010e6" />
<circle cx="857.2" cy="1462.94" r="3.6" fill="#1010e6" />
<circle cx="882.28" cy="1464.98" r="3.6" fill="#1010e6" />
<circle cx="895.11" cy="1461.19" r="3.6" fill="#1010e6" />
<circle cx="869.74" cy="1471.69" r="3.6" fill="#1010e6" />
<circle cx="869.74" cy="1487.43" r="3.6" fill="#1010e6" />
<circle cx="882.28" cy="1487.43" r="3.6" fill="#1010e6" />
<circle cx="869.74" cy="1495.02" r="3.6" fill="#1010e6" />
<circle cx="857.2" cy="1500.56" r="3.6" fill="#1010e6" />
<circle cx="869.74" cy="1502.02" r="3.6" fill="#1010e6" />
<circle cx="882.28" cy="1500.56" r="3.6" fill="#1010e6" />
<circle cx="857.2" cy="1507.26" r="3.6" fill="#1010e6" />
<circle cx="869.74" cy="1509.31" r="3.6" fill="#1010e6" />
<circle cx="857.2" cy="1522.43" r="3.6" fill="#1010e6" />
<circle cx="869.74" cy="1519.51" r="3.6" fill="#1010e6" />
<circle cx="882.28" cy="1516.89" r="3.6" fill="#1010e6" />
<circle cx="844.37" cy="1529.72" r="3.6" fill="#1010e6" />
<circle cx="869.74" cy="1531.18" r="3.6" fill="#1010e6" />
<circle cx="869.74" cy="1612.83" r="3.6" fill="#1010e6" />
<line x1="665.6" y1="1432.9" x2="665.6" y2="1614.6" stroke="#000" stroke-width="3.6" />
<line x1="649" y1="1432.9" x2="681.6" y2="1432.9" stroke="#000" stroke-width="3.6" />
<line x1="649" y1="1614.6" x2="681.6" y2="1614.6" stroke="#000" stroke-width="3.6" />
<line x1="631.5" y1="1523.3" x2="698.6" y2="1523.3" stroke="#000" stroke-width="3.6" />
<line x1="767.1" y1="1456.2" x2="767.1" y2="1584.5" stroke="#000" stroke-width="3.6" />
<line x1="751" y1="1456.2" x2="783.7" y2="1456.2" stroke="#000" stroke-width="3.6" />
<line x1="751" y1="1584.5" x2="783.7" y2="1584.5" stroke="#000" stroke-width="3.6" />
<line x1="733.3" y1="1520.4" x2="800.6" y2="1520.4" stroke="#000" stroke-width="3.6" />
<line x1="870.6" y1="1434.9" x2="870.6" y2="1511.6" stroke="#000" stroke-width="3.6" />
<line x1="853.7" y1="1434.9" x2="886.4" y2="1434.9" stroke="#000" stroke-width="3.6" />
<line x1="853.7" y1="1511.6" x2="886.4" y2="1511.6" stroke="#000" stroke-width="3.6" />
<line x1="836.2" y1="1461.2" x2="903.3" y2="1461.2" stroke="#000" stroke-width="3.6" />
<path d="M665.6 1384.8V1378H767.1V1384.8" fill="none" stroke="#000" stroke-width="1.6"/>
<text x="715.2" y="1376.9" text-anchor="middle" style="font-size:14px;font-weight:bold">NS</text>
<path d="M767.1 1373V1366.4H870.6V1373" fill="none" stroke="#000" stroke-width="1.6"/>
<text x="817.7" y="1363.5" text-anchor="middle" style="font-size:14px;font-weight:bold">NS</text>
<path d="M663.6 1352.7V1346H870.6V1352.7" fill="none" stroke="#000" stroke-width="1.6"/>
<text x="777.9" y="1350.5" text-anchor="middle" style="font-size:24px">*</text>
<line x1="1117.1" y1="1346.5" x2="1117.1" y2="1776.72" stroke="#000" stroke-width="2.2" />
<line x1="1116" y1="1775.62" x2="1486" y2="1775.62" stroke="#000" stroke-width="2.2" />
<line x1="1106.6" y1="1347.5" x2="1117.1" y2="1347.5" stroke="#000" stroke-width="2.2" />
<text x="1105" y="1357.8" text-anchor="end" style="font-size:27.8px;font-weight:bold">2<tspan dx="3" dy="-9" style="font-size:16.5px;font-weight:bold">6</tspan></text>
<line x1="1106.6" y1="1386.42" x2="1117.1" y2="1386.42" stroke="#000" stroke-width="2.2" />
<text x="1105" y="1396.72" text-anchor="end" style="font-size:27.8px;font-weight:bold">2<tspan dx="3" dy="-9" style="font-size:16.5px;font-weight:bold">5</tspan></text>
<line x1="1106.6" y1="1425.34" x2="1117.1" y2="1425.34" stroke="#000" stroke-width="2.2" />
<text x="1105" y="1435.64" text-anchor="end" style="font-size:27.8px;font-weight:bold">2<tspan dx="3" dy="-9" style="font-size:16.5px;font-weight:bold">4</tspan></text>
<line x1="1106.6" y1="1464.26" x2="1117.1" y2="1464.26" stroke="#000" stroke-width="2.2" />
<text x="1105" y="1474.56" text-anchor="end" style="font-size:27.8px;font-weight:bold">2<tspan dx="3" dy="-9" style="font-size:16.5px;font-weight:bold">3</tspan></text>
<line x1="1106.6" y1="1503.18" x2="1117.1" y2="1503.18" stroke="#000" stroke-width="2.2" />
<text x="1105" y="1513.48" text-anchor="end" style="font-size:27.8px;font-weight:bold">2<tspan dx="3" dy="-9" style="font-size:16.5px;font-weight:bold">2</tspan></text>
<line x1="1106.6" y1="1542.1" x2="1117.1" y2="1542.1" stroke="#000" stroke-width="2.2" />
<text x="1105" y="1552.4" text-anchor="end" style="font-size:27.8px;font-weight:bold">2<tspan dx="3" dy="-9" style="font-size:16.5px;font-weight:bold">1</tspan></text>
<line x1="1106.6" y1="1581.02" x2="1117.1" y2="1581.02" stroke="#000" stroke-width="2.2" />
<text x="1105" y="1591.32" text-anchor="end" style="font-size:27.8px;font-weight:bold">2<tspan dx="3" dy="-9" style="font-size:16.5px;font-weight:bold">0</tspan></text>
<line x1="1106.6" y1="1619.94" x2="1117.1" y2="1619.94" stroke="#000" stroke-width="2.2" />
<text x="1105" y="1630.24" text-anchor="end" style="font-size:27.8px;font-weight:bold">2<tspan dx="3" dy="-9" style="font-size:16.5px;font-weight:bold">-1</tspan></text>
<line x1="1106.6" y1="1658.86" x2="1117.1" y2="1658.86" stroke="#000" stroke-width="2.2" />
<text x="1105" y="1669.16" text-anchor="end" style="font-size:27.8px;font-weight:bold">2<tspan dx="3" dy="-9" style="font-size:16.5px;font-weight:bold">-2</tspan></text>
<line x1="1106.6" y1="1697.78" x2="1117.1" y2="1697.78" stroke="#000" stroke-width="2.2" />
<text x="1105" y="1708.08" text-anchor="end" style="font-size:27.8px;font-weight:bold">2<tspan dx="3" dy="-9" style="font-size:16.5px;font-weight:bold">-3</tspan></text>
<line x1="1106.6" y1="1736.7" x2="1117.1" y2="1736.7" stroke="#000" stroke-width="2.2" />
<text x="1105" y="1747" text-anchor="end" style="font-size:27.8px;font-weight:bold">2<tspan dx="3" dy="-9" style="font-size:16.5px;font-weight:bold">-4</tspan></text>
<line x1="1106.6" y1="1775.62" x2="1117.1" y2="1775.62" stroke="#000" stroke-width="2.2" />
<text x="1105" y="1785.92" text-anchor="end" style="font-size:27.8px;font-weight:bold">2<tspan dx="3" dy="-9" style="font-size:16.5px;font-weight:bold">-5</tspan></text>
<line x1="1162.9" y1="1775.62" x2="1162.9" y2="1787.12" stroke="#000" stroke-width="2.2" />
<text x="1162.9" y="1812.5" text-anchor="middle" style="font-size:30px;font-weight:bold">N0</text>
<line x1="1231.7" y1="1775.62" x2="1231.7" y2="1787.12" stroke="#000" stroke-width="2.2" />
<text x="1231.7" y="1812.5" text-anchor="middle" style="font-size:30px;font-weight:bold">N+</text>
<line x1="1300.8" y1="1775.62" x2="1300.8" y2="1787.12" stroke="#000" stroke-width="2.2" />
<text x="1300.8" y="1812.5" text-anchor="middle" style="font-size:30px;font-weight:bold">N1</text>
<line x1="1369.9" y1="1775.62" x2="1369.9" y2="1787.12" stroke="#000" stroke-width="2.2" />
<text x="1369.9" y="1812.5" text-anchor="middle" style="font-size:30px;font-weight:bold">N2</text>
<line x1="1438.8" y1="1775.62" x2="1438.8" y2="1787.12" stroke="#000" stroke-width="2.2" />
<text x="1438.8" y="1812.5" text-anchor="middle" style="font-size:30px;font-weight:bold">N3</text>
<text x="1014" y="1788" transform="rotate(-90 1014 1788)" textLength="443.4" lengthAdjust="spacingAndGlyphs" style="font-size:24px;font-weight:bold">Relative fold changes of HOXD11</text>
<text x="1058" y="1772.3" transform="rotate(-90 1058 1772.3)" style="font-size:24px;font-weight:bold" textLength="410" lengthAdjust="spacingAndGlyphs">mRNA expression level (2<tspan dy="-9" style="font-size:14.88px">-ΔΔct</tspan><tspan dy="9">)</tspan></text>
<circle cx="1162.86" cy="1413.95" r="3.5" fill="#f01010" />
<circle cx="1162.86" cy="1421.24" r="3.5" fill="#f01010" />
<circle cx="1156.45" cy="1434.37" r="3.5" fill="#f01010" />
<circle cx="1162.86" cy="1437.28" r="3.5" fill="#f01010" />
<circle cx="1169.57" cy="1441.07" r="3.5" fill="#f01010" />
<circle cx="1162.86" cy="1443.99" r="3.5" fill="#f01010" />
<circle cx="1156.45" cy="1448.95" r="3.5" fill="#f01010" />
<circle cx="1169.57" cy="1449.82" r="3.5" fill="#f01010" />
<circle cx="1175.99" cy="1452.74" r="3.5" fill="#f01010" />
<circle cx="1150.03" cy="1455.66" r="3.5" fill="#f01010" />
<circle cx="1156.45" cy="1455.66" r="3.5" fill="#f01010" />
<circle cx="1162.86" cy="1459.74" r="3.5" fill="#f01010" />
<circle cx="1150.03" cy="1491.82" r="3.5" fill="#f01010" />
<circle cx="1156.45" cy="1492.69" r="3.5" fill="#f01010" />
<circle cx="1169.57" cy="1491.24" r="3.5" fill="#f01010" />
<circle cx="1175.99" cy="1495.03" r="3.5" fill="#f01010" />
<circle cx="1162.86" cy="1499.4" r="3.5" fill="#f01010" />
<circle cx="1156.45" cy="1505.82" r="3.5" fill="#f01010" />
<circle cx="1169.57" cy="1505.82" r="3.5" fill="#f01010" />
<circle cx="1162.86" cy="1509.32" r="3.5" fill="#f01010" />
<circle cx="1150.03" cy="1513.99" r="3.5" fill="#f01010" />
<circle cx="1156.45" cy="1513.99" r="3.5" fill="#f01010" />
<circle cx="1169.57" cy="1513.99" r="3.5" fill="#f01010" />
<circle cx="1162.86" cy="1518.94" r="3.5" fill="#f01010" />
<circle cx="1150.03" cy="1522.73" r="3.5" fill="#f01010" />
<circle cx="1169.57" cy="1525.65" r="3.5" fill="#f01010" />
<circle cx="1156.45" cy="1527.69" r="3.5" fill="#f01010" />
<circle cx="1162.86" cy="1532.07" r="3.5" fill="#f01010" />
<circle cx="1150.03" cy="1532.65" r="3.5" fill="#f01010" />
<circle cx="1175.99" cy="1532.65" r="3.5" fill="#f01010" />
<circle cx="1162.86" cy="1536.44" r="3.5" fill="#f01010" />
<circle cx="1162.86" cy="1545.19" r="3.5" fill="#f01010" />
<circle cx="1169.57" cy="1545.19" r="3.5" fill="#f01010" />
<circle cx="1162.86" cy="1561.23" r="3.5" fill="#f01010" />
<circle cx="1162.86" cy="1575.23" r="3.5" fill="#f01010" />
<circle cx="1169.57" cy="1590.4" r="3.5" fill="#f01010" />
<circle cx="1156.45" cy="1600.02" r="3.5" fill="#f01010" />
<circle cx="1169.57" cy="1599.15" r="3.5" fill="#f01010" />
<circle cx="1162.86" cy="1604.4" r="3.5" fill="#f01010" />
<circle cx="1156.45" cy="1614.31" r="3.5" fill="#f01010" />
<circle cx="1162.86" cy="1613.73" r="3.5" fill="#f01010" />
<circle cx="1169.57" cy="1620.14" r="3.5" fill="#f01010" />
<circle cx="1162.86" cy="1623.06" r="3.5" fill="#f01010" />
<circle cx="1162.86" cy="1641.43" r="3.5" fill="#f01010" />
<circle cx="1162.86" cy="1662.73" r="3.5" fill="#f01010" />
<circle cx="1162.86" cy="1669.72" r="3.5" fill="#f01010" />
<circle cx="1162.86" cy="1715.8" r="3.5" fill="#f01010" />
<circle cx="1162.86" cy="1739.14" r="3.5" fill="#f01010" />
<polygon points="1236.07,1396.35 1232.47,1402.83 1239.67,1402.83" fill="#1010e0" />
<polygon points="1227.9,1401.31 1224.3,1407.79 1231.5,1407.79" fill="#1010e0" />
<polygon points="1236.07,1408.6 1232.47,1415.08 1239.67,1415.08" fill="#1010e0" />
<polygon points="1227.9,1417.35 1224.3,1423.83 1231.5,1423.83" fill="#1010e0" />
<polygon points="1243.94,1419.69 1240.34,1426.17 1247.54,1426.17" fill="#1010e0" />
<polygon points="1220.61,1426.69 1217.01,1433.17 1224.21,1433.17" fill="#1010e0" />
<polygon points="1227.9,1433.39 1224.3,1439.87 1231.5,1439.87" fill="#1010e0" />
<polygon points="1236.07,1436.31 1232.47,1442.79 1239.67,1442.79" fill="#1010e0" />
<polygon points="1220.61,1439.23 1217.01,1445.71 1224.21,1445.71" fill="#1010e0" />
<polygon points="1243.94,1436.31 1240.34,1442.79 1247.54,1442.79" fill="#1010e0" />
<polygon points="1213.32,1446.52 1209.72,1453 1216.92,1453" fill="#1010e0" />
<polygon points="1227.9,1444.18 1224.3,1450.66 1231.5,1450.66" fill="#1010e0" />
<polygon points="1236.07,1443.6 1232.47,1450.08 1239.67,1450.08" fill="#1010e0" />
<polygon points="1251.82,1445.93 1248.22,1452.41 1255.42,1452.41" fill="#1010e0" />
<polygon points="1220.61,1450.89 1217.01,1457.37 1224.21,1457.37" fill="#1010e0" />
<polygon points="1243.94,1450.89 1240.34,1457.37 1247.54,1457.37" fill="#1010e0" />
<polygon points="1213.32,1456.73 1209.72,1463.21 1216.92,1463.21" fill="#1010e0" />
<polygon points="1227.9,1456.73 1224.3,1463.21 1231.5,1463.21" fill="#1010e0" />
<polygon points="1236.07,1456.73 1232.47,1463.21 1239.67,1463.21" fill="#1010e0" />
<polygon points="1251.82,1456.73 1248.22,1463.21 1255.42,1463.21" fill="#1010e0" />
<polygon points="1220.61,1462.56 1217.01,1469.04 1224.21,1469.04" fill="#1010e0" />
<polygon points="1227.9,1463.43 1224.3,1469.91 1231.5,1469.91" fill="#1010e0" />
<polygon points="1243.94,1464.02 1240.34,1470.5 1247.54,1470.5" fill="#1010e0" />
<polygon points="1236.07,1468.39 1232.47,1474.87 1239.67,1474.87" fill="#1010e0" />
<polygon points="1227.9,1476.27 1224.3,1482.75 1231.5,1482.75" fill="#1010e0" />
<polygon points="1243.94,1477.14 1240.34,1483.62 1247.54,1483.62" fill="#1010e0" />
<polygon points="1220.61,1486.77 1217.01,1493.25 1224.21,1493.25" fill="#1010e0" />
<polygon points="1236.07,1486.77 1232.47,1493.25 1239.67,1493.25" fill="#1010e0" />
<polygon points="1227.9,1493.18 1224.3,1499.66 1231.5,1499.66" fill="#1010e0" />
<polygon points="1243.94,1493.76 1240.34,1500.24 1247.54,1500.24" fill="#1010e0" />
<polygon points="1236.07,1501.93 1232.47,1508.41 1239.67,1508.41" fill="#1010e0" />
<polygon points="1227.9,1507.18 1224.3,1513.66 1231.5,1513.66" fill="#1010e0" />
<polygon points="1227.9,1515.06 1224.3,1521.54 1231.5,1521.54" fill="#1010e0" />
<polygon points="1220.61,1526.72 1217.01,1533.2 1224.21,1533.2" fill="#1010e0" />
<polygon points="1236.07,1522.93 1232.47,1529.41 1239.67,1529.41" fill="#1010e0" />
<polygon points="1243.94,1522.93 1240.34,1529.41 1247.54,1529.41" fill="#1010e0" />
<polygon points="1227.9,1552.97 1224.3,1559.45 1231.5,1559.45" fill="#1010e0" />
<polygon points="1227.9,1617.13 1224.3,1623.61 1231.5,1623.61" fill="#1010e0" />
<polygon points="1236.07,1612.76 1232.47,1619.24 1239.67,1619.24" fill="#1010e0" />
<circle cx="1300.81" cy="1404.62" r="3.5" fill="#9494f4" />
<circle cx="1300.81" cy="1411.91" r="3.5" fill="#9494f4" />
<circle cx="1287.69" cy="1440.2" r="3.5" fill="#9494f4" />
<circle cx="1313.94" cy="1437.87" r="3.5" fill="#9494f4" />
<circle cx="1300.81" cy="1447.49" r="3.5" fill="#9494f4" />
<circle cx="1300.81" cy="1461.49" r="3.5" fill="#9494f4" />
<circle cx="1313.94" cy="1460.61" r="3.5" fill="#9494f4" />
<circle cx="1287.69" cy="1466.45" r="3.5" fill="#9494f4" />
<circle cx="1287.69" cy="1474.32" r="3.5" fill="#9494f4" />
<circle cx="1300.81" cy="1479.57" r="3.5" fill="#9494f4" />
<circle cx="1300.81" cy="1491.24" r="3.5" fill="#9494f4" />
<circle cx="1300.81" cy="1497.65" r="3.5" fill="#9494f4" />
<circle cx="1300.81" cy="1505.82" r="3.5" fill="#9494f4" />
<circle cx="1300.81" cy="1525.65" r="3.5" fill="#9494f4" />
<circle cx="1300.81" cy="1556.27" r="3.5" fill="#9494f4" />
<circle cx="1300.81" cy="1616.64" r="3.5" fill="#9494f4" />
<circle cx="1363.52" cy="1400.24" r="3.5" fill="#4a9ef0" />
<circle cx="1376.64" cy="1437.87" r="3.5" fill="#4a9ef0" />
<circle cx="1349.81" cy="1450.41" r="3.5" fill="#4a9ef0" />
<circle cx="1363.52" cy="1451.86" r="3.5" fill="#4a9ef0" />
<circle cx="1376.64" cy="1447.49" r="3.5" fill="#4a9ef0" />
<circle cx="1389.76" cy="1449.82" r="3.5" fill="#4a9ef0" />
<circle cx="1376.64" cy="1454.78" r="3.5" fill="#4a9ef0" />
<circle cx="1363.52" cy="1464.41" r="3.5" fill="#4a9ef0" />
<circle cx="1363.52" cy="1475.2" r="3.5" fill="#4a9ef0" />
<circle cx="1363.52" cy="1620.14" r="3.5" fill="#4a9ef0" />
<circle cx="1426.22" cy="1423.28" r="3.5" fill="#5252ea" />
<circle cx="1438.76" cy="1426.49" r="3.5" fill="#5252ea" />
<circle cx="1451.59" cy="1421.24" r="3.5" fill="#5252ea" />
<circle cx="1451.59" cy="1431.45" r="3.5" fill="#5252ea" />
<circle cx="1438.76" cy="1447.49" r="3.5" fill="#5252ea" />
<circle cx="1426.22" cy="1460.61" r="3.5" fill="#5252ea" />
<circle cx="1438.76" cy="1467.32" r="3.5" fill="#5252ea" />
<circle cx="1451.59" cy="1460.61" r="3.5" fill="#5252ea" />
<circle cx="1426.22" cy="1495.61" r="3.5" fill="#5252ea" />
<circle cx="1438.76" cy="1490.65" r="3.5" fill="#5252ea" />
<circle cx="1451.59" cy="1486.86" r="3.5" fill="#5252ea" />
<circle cx="1451.59" cy="1497.65" r="3.5" fill="#5252ea" />
<circle cx="1438.76" cy="1510.19" r="3.5" fill="#5252ea" />
<circle cx="1426.22" cy="1530.61" r="3.5" fill="#5252ea" />
<circle cx="1451.59" cy="1526.82" r="3.5" fill="#5252ea" />
<line x1="1162.9" y1="1456.8" x2="1162.9" y2="1607.9" stroke="#000" stroke-width="3.6" />
<line x1="1152" y1="1456.8" x2="1174" y2="1456.8" stroke="#000" stroke-width="3.6" />
<line x1="1152" y1="1607.9" x2="1174" y2="1607.9" stroke="#000" stroke-width="3.6" />
<line x1="1139.8" y1="1532" x2="1185.6" y2="1532" stroke="#000" stroke-width="3.6" />
<line x1="1231.7" y1="1424.2" x2="1231.7" y2="1520.4" stroke="#000" stroke-width="3.6" />
<line x1="1220.6" y1="1424.2" x2="1243" y2="1424.2" stroke="#000" stroke-width="3.6" />
<line x1="1220.6" y1="1520.4" x2="1243" y2="1520.4" stroke="#000" stroke-width="3.6" />
<line x1="1208.9" y1="1472.3" x2="1254.7" y2="1472.3" stroke="#000" stroke-width="3.6" />
<line x1="1300.8" y1="1430" x2="1300.8" y2="1539.4" stroke="#000" stroke-width="3.6" />
<line x1="1289.7" y1="1430" x2="1312.5" y2="1430" stroke="#000" stroke-width="3.6" />
<line x1="1289.7" y1="1539.4" x2="1312.5" y2="1539.4" stroke="#000" stroke-width="3.6" />
<line x1="1278" y1="1461.2" x2="1323.6" y2="1461.2" stroke="#000" stroke-width="3.6" />
<line x1="1369.9" y1="1423.3" x2="1369.9" y2="1500" stroke="#000" stroke-width="3.6" />
<line x1="1358.6" y1="1423.3" x2="1381.6" y2="1423.3" stroke="#000" stroke-width="3.6" />
<line x1="1358.6" y1="1500" x2="1381.6" y2="1500" stroke="#000" stroke-width="3.6" />
<line x1="1347.5" y1="1449.8" x2="1392.7" y2="1449.8" stroke="#000" stroke-width="3.6" />
<line x1="1438.8" y1="1432.9" x2="1438.8" y2="1510.2" stroke="#000" stroke-width="3.6" />
<line x1="1427.7" y1="1432.9" x2="1450.4" y2="1432.9" stroke="#000" stroke-width="3.6" />
<line x1="1427.7" y1="1510.2" x2="1450.4" y2="1510.2" stroke="#000" stroke-width="3.6" />
<line x1="1416" y1="1459.2" x2="1461.8" y2="1459.2" stroke="#000" stroke-width="3.6" />
<path d="M1162.9 1392V1384.8H1231.7V1392" fill="none" stroke="#000" stroke-width="1.6"/>
<text x="1198.7" y="1396" text-anchor="middle" style="font-size:25.5px">***</text>
<path d="M1162.9 1367.3V1360.6H1300.8V1383.9" fill="none" stroke="#000" stroke-width="1.6"/>
<text x="1229.4" y="1370" text-anchor="middle" style="font-size:25.5px">*</text>
<path d="M1162.9 1354.2V1347.7H1369.9V1383.3" fill="none" stroke="#000" stroke-width="1.6"/>
<text x="1265.8" y="1356.8" text-anchor="middle" style="font-size:25.5px">*</text>
<path d="M1162.9 1342.2V1335.2H1438.8V1385.7" fill="none" stroke="#000" stroke-width="1.6"/>
<text x="1308.8" y="1344.5" text-anchor="middle" style="font-size:25.5px">**</text>
<line x1="1671.2" y1="1341.5" x2="1671.2" y2="1773.68" stroke="#000" stroke-width="2.2" />
<line x1="1670.1" y1="1772.58" x2="1950.5" y2="1772.58" stroke="#000" stroke-width="2.2" />
<line x1="1660.7" y1="1342.5" x2="1671.2" y2="1342.5" stroke="#000" stroke-width="2.2" />
<text x="1660" y="1352.8" text-anchor="end" style="font-size:27.8px;font-weight:bold">2<tspan dx="3" dy="-9" style="font-size:16.5px;font-weight:bold">5</tspan></text>
<line x1="1660.7" y1="1403.94" x2="1671.2" y2="1403.94" stroke="#000" stroke-width="2.2" />
<text x="1660" y="1414.24" text-anchor="end" style="font-size:27.8px;font-weight:bold">2<tspan dx="3" dy="-9" style="font-size:16.5px;font-weight:bold">4</tspan></text>
<line x1="1660.7" y1="1465.38" x2="1671.2" y2="1465.38" stroke="#000" stroke-width="2.2" />
<text x="1660" y="1475.68" text-anchor="end" style="font-size:27.8px;font-weight:bold">2<tspan dx="3" dy="-9" style="font-size:16.5px;font-weight:bold">3</tspan></text>
<line x1="1660.7" y1="1526.82" x2="1671.2" y2="1526.82" stroke="#000" stroke-width="2.2" />
<text x="1660" y="1537.12" text-anchor="end" style="font-size:27.8px;font-weight:bold">2<tspan dx="3" dy="-9" style="font-size:16.5px;font-weight:bold">2</tspan></text>
<line x1="1660.7" y1="1588.26" x2="1671.2" y2="1588.26" stroke="#000" stroke-width="2.2" />
<text x="1660" y="1598.56" text-anchor="end" style="font-size:27.8px;font-weight:bold">2<tspan dx="3" dy="-9" style="font-size:16.5px;font-weight:bold">1</tspan></text>
<line x1="1660.7" y1="1649.7" x2="1671.2" y2="1649.7" stroke="#000" stroke-width="2.2" />
<text x="1660" y="1660" text-anchor="end" style="font-size:27.8px;font-weight:bold">2<tspan dx="3" dy="-9" style="font-size:16.5px;font-weight:bold">0</tspan></text>
<line x1="1660.7" y1="1711.14" x2="1671.2" y2="1711.14" stroke="#000" stroke-width="2.2" />
<text x="1660" y="1721.44" text-anchor="end" style="font-size:27.8px;font-weight:bold">2<tspan dx="3" dy="-9" style="font-size:16.5px;font-weight:bold">-1</tspan></text>
<line x1="1660.7" y1="1772.58" x2="1671.2" y2="1772.58" stroke="#000" stroke-width="2.2" />
<text x="1660" y="1782.88" text-anchor="end" style="font-size:27.8px;font-weight:bold">2<tspan dx="3" dy="-9" style="font-size:16.5px;font-weight:bold">-2</tspan></text>
<line x1="1750.8" y1="1772.58" x2="1750.8" y2="1784.08" stroke="#000" stroke-width="2.2" />
<text x="1750.8" y="1812.5" text-anchor="middle" style="font-size:28px;font-weight:bold">ENE (-)</text>
<line x1="1869.8" y1="1772.58" x2="1869.8" y2="1784.08" stroke="#000" stroke-width="2.2" />
<text x="1869.8" y="1812.5" text-anchor="middle" style="font-size:28px;font-weight:bold">ENE (+)</text>
<text x="1566" y="1780" transform="rotate(-90 1566 1780)" textLength="440.4" lengthAdjust="spacingAndGlyphs" style="font-size:24px;font-weight:bold">Relative fold changes of HOXD11</text>
<text x="1613" y="1761" transform="rotate(-90 1613 1761)" style="font-size:24px;font-weight:bold" textLength="401" lengthAdjust="spacingAndGlyphs">mRNA expression level (2<tspan dy="-9" style="font-size:14.88px">-ΔΔct</tspan><tspan dy="9">)</tspan></text>
<circle cx="1759.54" cy="1364.36" r="4.6" fill="#f01010" />
<circle cx="1740.58" cy="1371.65" r="4.6" fill="#f01010" />
<circle cx="1759.54" cy="1383.32" r="4.6" fill="#f01010" />
<circle cx="1722.21" cy="1423.56" r="4.6" fill="#f01010" />
<circle cx="1740.58" cy="1423.56" r="4.6" fill="#f01010" />
<circle cx="1779.07" cy="1427.06" r="4.6" fill="#f01010" />
<circle cx="1722.21" cy="1442.22" r="4.6" fill="#f01010" />
<circle cx="1740.58" cy="1439.6" r="4.6" fill="#f01010" />
<circle cx="1759.54" cy="1443.68" r="4.6" fill="#f01010" />
<circle cx="1779.07" cy="1447.47" r="4.6" fill="#f01010" />
<circle cx="1740.58" cy="1449.8" r="4.6" fill="#f01010" />
<circle cx="1722.21" cy="1460.01" r="4.6" fill="#f01010" />
<circle cx="1759.54" cy="1459.72" r="4.6" fill="#f01010" />
<circle cx="1779.07" cy="1465.84" r="4.6" fill="#f01010" />
<circle cx="1740.58" cy="1468.47" r="4.6" fill="#f01010" />
<circle cx="1740.58" cy="1481.88" r="4.6" fill="#f01010" />
<circle cx="1759.54" cy="1481.01" r="4.6" fill="#f01010" />
<circle cx="1759.54" cy="1500.54" r="4.6" fill="#f01010" />
<circle cx="1779.07" cy="1508.13" r="4.6" fill="#f01010" />
<circle cx="1740.58" cy="1518.92" r="4.6" fill="#f01010" />
<circle cx="1759.54" cy="1514.54" r="4.6" fill="#f01010" />
<circle cx="1779.07" cy="1518.92" r="4.6" fill="#f01010" />
<circle cx="1759.54" cy="1531.16" r="4.6" fill="#f01010" />
<circle cx="1740.58" cy="1537.87" r="4.6" fill="#f01010" />
<circle cx="1740.58" cy="1563.53" r="4.6" fill="#f01010" />
<circle cx="1779.07" cy="1564.12" r="4.6" fill="#f01010" />
<circle cx="1722.21" cy="1570.53" r="4.6" fill="#f01010" />
<circle cx="1740.58" cy="1610.77" r="4.6" fill="#f01010" />
<circle cx="1740.58" cy="1711.38" r="4.6" fill="#f01010" />
<polygon points="1849.94,1393.04 1845.44,1401.14 1854.44,1401.14" fill="#1010e0" />
<polygon points="1888.43,1395.95 1883.93,1404.05 1892.93,1404.05" fill="#1010e0" />
<polygon points="1869.77,1403.24 1865.27,1411.34 1874.27,1411.34" fill="#1010e0" />
<polygon points="1851.39,1409.08 1846.89,1417.18 1855.89,1417.18" fill="#1010e0" />
<polygon points="1869.77,1419.28 1865.27,1427.38 1874.27,1427.38" fill="#1010e0" />
<polygon points="1869.77,1436.2 1865.27,1444.3 1874.27,1444.3" fill="#1010e0" />
<polygon points="1869.77,1457.19 1865.27,1465.29 1874.27,1465.29" fill="#1010e0" />
<polygon points="1888.43,1455.73 1883.93,1463.83 1892.93,1463.83" fill="#1010e0" />
<polygon points="1869.77,1465.94 1865.27,1474.04 1874.27,1474.04" fill="#1010e0" />
<polygon points="1869.77,1502.39 1865.27,1510.49 1874.27,1510.49" fill="#1010e0" />
<line x1="1750.8" y1="1411" x2="1750.8" y2="1559.7" stroke="#000" stroke-width="2.8" />
<line x1="1731.8" y1="1411" x2="1769.7" y2="1411" stroke="#000" stroke-width="2.8" />
<line x1="1731.8" y1="1559.7" x2="1769.7" y2="1559.7" stroke="#000" stroke-width="2.8" />
<line x1="1710.5" y1="1485.4" x2="1790.2" y2="1485.4" stroke="#000" stroke-width="2.8" />
<line x1="1869.8" y1="1401.7" x2="1869.8" y2="1473.7" stroke="#000" stroke-width="2.8" />
<line x1="1849.9" y1="1401.7" x2="1889.3" y2="1401.7" stroke="#000" stroke-width="2.8" />
<line x1="1849.9" y1="1473.7" x2="1889.3" y2="1473.7" stroke="#000" stroke-width="2.8" />
<line x1="1829.5" y1="1437.3" x2="1908.8" y2="1437.3" stroke="#000" stroke-width="2.8" />
<path d="M1750.8 1346.9V1339H1869.8V1346.9" fill="none" stroke="#000" stroke-width="1.6"/>
<text x="1810.9" y="1336.1" text-anchor="middle" style="font-size:15px;font-weight:bold">NS</text>
</svg>
</body></html>
